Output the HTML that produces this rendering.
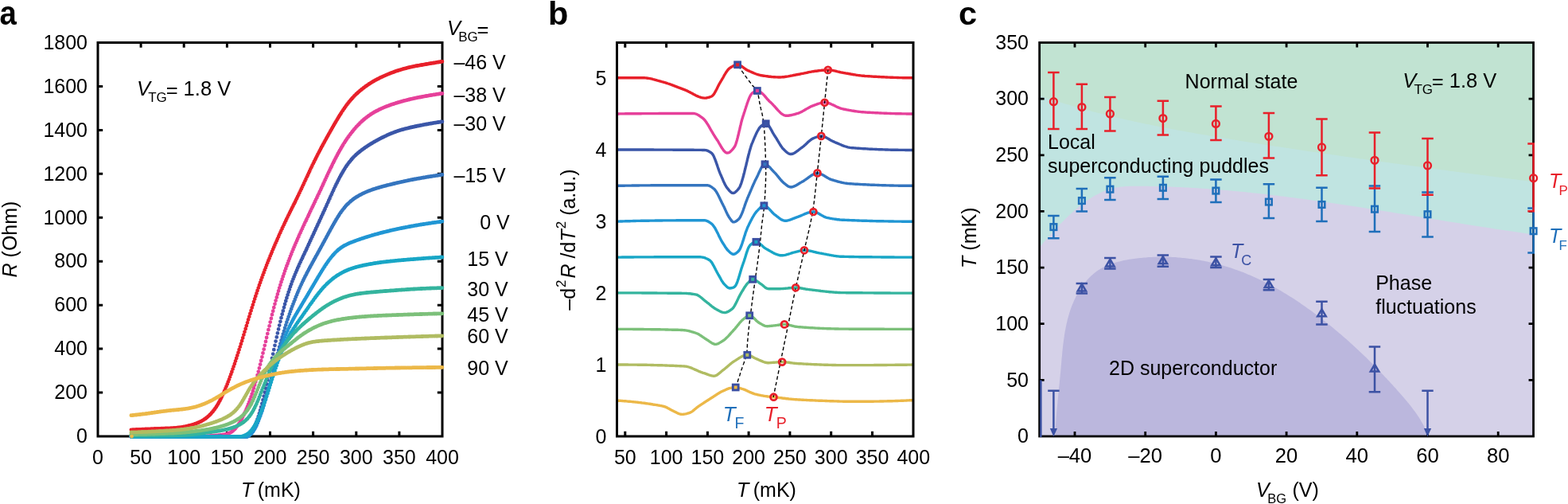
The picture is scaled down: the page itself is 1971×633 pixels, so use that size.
<!DOCTYPE html>
<html><head><meta charset="utf-8"><title>Figure</title>
<style>html,body{margin:0;padding:0;background:#fff;overflow:hidden}svg{display:block}</style>
</head><body>
<svg width="1971" height="633" viewBox="0 0 1971 633">
<g font-family='"Liberation Sans", Arial, Helvetica, sans-serif'>
<text transform="translate(-0.6,31.2) scale(0.9,1)" font-size="42.5" font-weight="bold">a</text>
<text x="689" y="30.6" font-size="41.5" font-weight="bold">b</text>
<text x="1205" y="31" font-size="41.5" font-weight="bold">c</text>
<rect x="123" y="53.5" width="433" height="494.5" fill="none" stroke="#000" stroke-width="3"/>
<path d="M177.1,548 V541.8 M177.1,53.5 V59.7 M231.2,548 V541.8 M231.2,53.5 V59.7 M285.4,548 V541.8 M285.4,53.5 V59.7 M339.5,548 V541.8 M339.5,53.5 V59.7 M393.6,548 V541.8 M393.6,53.5 V59.7 M447.8,548 V541.8 M447.8,53.5 V59.7 M501.9,548 V541.8 M501.9,53.5 V59.7 M123,493.1 H129.2 M556,493.1 H549.8 M123,438.1 H129.2 M556,438.1 H549.8 M123,383.2 H129.2 M556,383.2 H549.8 M123,328.2 H129.2 M556,328.2 H549.8 M123,273.3 H129.2 M556,273.3 H549.8 M123,218.3 H129.2 M556,218.3 H549.8 M123,163.4 H129.2 M556,163.4 H549.8 M123,108.4 H129.2 M556,108.4 H549.8" stroke="#000" stroke-width="3" fill="none"/>
<g fill="none" stroke-width="4.8" stroke-linecap="round" stroke-linejoin="round">
<path d="M164.9,539.8h0M166.1,539.8h0M167.2,539.7h0M168.4,539.7h0M169.5,539.6h0M170.7,539.6h0M171.8,539.5h0M173.0,539.5h0M174.1,539.4h0M175.3,539.4h0M176.4,539.3h0M177.6,539.3h0M178.7,539.2h0M179.9,539.2h0M181.0,539.1h0M182.2,539.1h0M183.3,539.0h0M184.5,539.0h0M185.6,538.9h0M186.8,538.9h0M187.9,538.8h0M189.1,538.8h0M190.2,538.7h0M191.4,538.7h0M192.5,538.6h0M193.7,538.6h0M194.8,538.5h0M196.0,538.5h0M197.1,538.4h0M198.3,538.4h0M199.4,538.3h0M200.6,538.3h0M201.7,538.3h0M202.9,538.2h0M204.0,538.2h0M205.2,538.1h0M206.3,538.1h0M207.5,538.1h0M208.6,538.0h0M209.8,538.0h0M210.9,537.9h0M212.1,537.9h0M213.2,537.8h0M214.4,537.8h0M215.5,537.7h0M216.7,537.7h0M217.8,537.6h0M219.0,537.5h0M220.1,537.4h0M221.3,537.3h0M222.4,537.2h0M223.6,537.1h0M224.7,537.0h0M225.9,536.9h0M227.0,536.7h0M228.2,536.6h0M229.3,536.4h0M230.5,536.2h0M231.6,536.0h0M232.8,535.8h0M233.9,535.5h0M235.1,535.3h0M236.2,535.0h0M237.4,534.7h0M238.5,534.4h0M239.7,534.1h0M240.8,533.8h0M242.0,533.4h0M243.1,533.1h0M244.3,532.7h0M245.4,532.3h0M246.6,531.9h0M247.7,531.4h0M248.9,531.0h0M250.0,530.5h0M251.2,529.9h0M252.3,529.4h0M253.5,528.8h0M254.6,528.1h0M255.8,527.4h0M256.9,526.7h0M258.1,525.9h0M259.2,525.0h0M260.4,524.1h0M261.5,523.1h0M262.7,522.1h0M263.8,521.0h0M265.0,519.8h0M266.1,518.5h0M267.3,517.2h0M268.4,515.7h0M269.6,514.2h0M270.7,512.6h0M271.9,510.9h0M273.0,509.1h0M274.2,507.2h0M275.3,505.1h0M276.5,503.0h0M277.6,500.8h0M278.8,498.4h0M279.9,496.0h0M281.1,493.4h0M282.2,490.8h0M283.4,488.1h0M284.5,485.3h0M285.7,482.4h0M286.8,479.4h0M288.0,476.4h0M289.1,473.3h0M290.3,470.1h0M291.4,466.9h0M292.6,463.6h0M293.7,460.3h0M294.9,456.9h0M296.0,453.4h0M297.2,450.0h0M298.3,446.4h0M299.5,442.8h0M300.6,439.2h0M301.8,435.6h0M302.9,431.9h0M304.1,428.2h0M305.2,424.4h0M306.4,420.6h0M307.5,416.8h0M308.7,413.0h0M309.8,409.2h0M311.0,405.3h0M312.1,401.5h0M313.3,397.7h0M314.4,393.9h0M315.6,390.2h0M316.7,386.4h0M317.9,382.8h0M319.0,379.1h0M320.2,375.5h0M321.3,371.9h0M322.5,368.4h0M323.6,365.0h0M324.8,361.6h0M325.9,358.2h0M327.1,354.9h0M328.2,351.7h0M329.4,348.5h0M330.5,345.3h0M331.7,342.2h0M332.8,339.1h0M334.0,336.1h0M335.1,333.1h0M336.3,330.1h0M337.4,327.2h0M338.6,324.4h0M339.7,321.5h0M340.9,318.7h0M342.0,315.9h0M343.2,313.1h0M344.3,310.4h0M345.5,307.7h0M346.6,305.1h0M347.8,302.4h0M348.9,299.8h0M350.1,297.2h0M351.2,294.6h0M352.4,292.1h0M353.5,289.6h0M354.7,287.0h0M355.8,284.6h0M357.0,282.1h0M358.1,279.7h0M359.3,277.2h0M360.4,274.8h0M361.6,272.4h0M362.7,270.1h0M363.9,267.7h0M365.0,265.4h0M366.2,263.1h0M367.3,260.8h0M368.5,258.5h0M369.6,256.2h0M370.8,253.9h0M371.9,251.5h0M373.1,249.2h0M374.2,246.8h0M375.4,244.5h0M376.5,242.1h0M377.7,239.6h0M378.8,237.2h0M380.0,234.7h0M381.1,232.3h0M382.3,229.8h0M383.4,227.3h0M384.6,224.8h0M385.7,222.3h0M386.9,219.9h0M388.0,217.4h0M389.2,214.9h0M390.3,212.5h0M391.5,210.1h0M392.6,207.7h0M393.8,205.3h0M394.9,203.0h0M396.1,200.7h0M397.2,198.4h0M398.4,196.1h0M399.5,193.8h0M400.7,191.6h0M401.8,189.4h0M403.0,187.2h0M404.1,185.0h0M405.3,182.9h0M406.4,180.8h0M407.6,178.7h0M408.7,176.6h0M409.9,174.5h0M411.0,172.4h0M412.2,170.4h0M413.3,168.3h0M414.5,166.3h0M415.6,164.2h0M416.8,162.2h0M417.9,160.2h0M419.1,158.2h0M420.2,156.2h0M421.4,154.2h0M422.5,152.3h0M423.7,150.3h0M424.8,148.4h0M426.0,146.5h0M427.1,144.7h0M428.3,142.9h0M429.4,141.1h0M430.6,139.3h0M431.7,137.6h0M432.9,135.9h0M434.0,134.3h0M435.2,132.7h0M436.3,131.2h0M437.5,129.7h0M438.6,128.2h0M439.8,126.8h0M440.9,125.5h0M442.1,124.2h0M443.2,122.9h0M444.4,121.7h0M445.5,120.5h0M446.7,119.3h0M447.8,118.2h0M449.0,117.2h0M450.1,116.1h0M451.3,115.1h0M452.4,114.1h0M453.6,113.2h0M454.7,112.2h0M455.9,111.3h0M457.0,110.4h0M458.2,109.6h0M459.3,108.7h0M460.5,107.9h0M461.6,107.1h0M462.8,106.3h0M463.9,105.5h0M465.1,104.8h0M466.2,104.1h0M467.4,103.3h0M468.5,102.7h0M469.7,102.0h0M470.8,101.3h0M472.0,100.7h0M473.1,100.1h0M474.3,99.5h0M475.4,98.9h0M476.6,98.3h0M477.7,97.7h0M478.9,97.2h0M480.0,96.7h0M481.2,96.1h0M482.3,95.6h0M483.5,95.1h0M484.6,94.6h0M485.8,94.1h0M486.9,93.6h0M488.1,93.1h0M489.2,92.7h0M490.4,92.2h0M491.5,91.7h0M492.7,91.3h0M493.8,90.9h0M495.0,90.5h0M496.1,90.0h0M497.3,89.6h0M498.4,89.2h0M499.6,88.9h0M500.7,88.5h0M501.9,88.1h0M503.0,87.8h0M504.2,87.4h0M505.3,87.1h0M506.5,86.7h0M507.6,86.4h0M508.8,86.1h0M509.9,85.8h0M511.1,85.5h0M512.2,85.2h0M513.4,84.9h0M514.5,84.7h0M515.7,84.4h0M516.8,84.1h0M518.0,83.9h0M519.1,83.6h0M520.3,83.4h0M521.4,83.2h0M522.6,82.9h0M523.7,82.7h0M524.9,82.5h0M526.0,82.3h0M527.2,82.1h0M528.3,81.9h0M529.5,81.7h0M530.6,81.5h0M531.8,81.3h0M532.9,81.1h0M534.1,80.9h0M535.2,80.7h0M536.4,80.5h0M537.5,80.3h0M538.7,80.1h0M539.8,79.9h0M541.0,79.7h0M542.1,79.5h0M543.3,79.3h0M544.4,79.2h0M545.6,79.0h0M546.7,78.8h0M547.9,78.6h0M549.0,78.4h0M550.2,78.2h0M551.3,78.0h0M552.5,77.9h0M553.6,77.7h0M554.8,77.5h0M555.9,77.3h0" stroke="#e8202a"/>
<path d="M164.9,548.3h0M166.1,548.3h0M167.2,548.3h0M168.4,548.3h0M169.5,548.3h0M170.7,548.3h0M171.8,548.3h0M173.0,548.3h0M174.1,548.3h0M175.3,548.3h0M176.4,548.3h0M177.6,548.3h0M178.7,548.3h0M179.9,548.3h0M181.0,548.3h0M182.2,548.3h0M183.3,548.3h0M184.5,548.3h0M185.6,548.3h0M186.8,548.3h0M187.9,548.3h0M189.1,548.3h0M190.2,548.3h0M191.4,548.3h0M192.5,548.3h0M193.7,548.3h0M194.8,548.3h0M196.0,548.3h0M197.1,548.3h0M198.3,548.3h0M199.4,548.3h0M200.6,548.3h0M201.7,548.3h0M202.9,548.3h0M204.0,548.3h0M205.2,548.3h0M206.3,548.3h0M207.5,548.3h0M208.6,548.3h0M209.8,548.3h0M210.9,548.3h0M212.1,548.3h0M213.2,548.3h0M214.4,548.3h0M215.5,548.3h0M216.7,548.3h0M217.8,548.3h0M219.0,548.3h0M220.1,548.3h0M221.3,548.3h0M222.4,548.3h0M223.6,548.3h0M224.7,548.3h0M225.9,548.3h0M227.0,548.3h0M228.2,548.3h0M229.3,548.3h0M230.5,548.3h0M231.6,548.3h0M232.8,548.3h0M233.9,548.3h0M235.1,548.3h0M236.2,548.3h0M237.4,548.3h0M238.5,548.3h0M239.7,548.3h0M240.8,548.3h0M242.0,548.3h0M243.1,548.3h0M244.3,548.3h0M245.4,548.3h0M246.6,548.3h0M247.7,548.3h0M248.9,548.3h0M250.0,548.2h0M251.2,548.2h0M252.3,548.2h0M253.5,548.1h0M254.6,548.1h0M255.8,548.0h0M256.9,548.0h0M258.1,547.9h0M259.2,547.9h0M260.4,547.8h0M261.5,547.7h0M262.7,547.6h0M263.8,547.6h0M265.0,547.5h0M266.1,547.4h0M267.3,547.3h0M268.4,547.2h0M269.6,547.2h0M270.7,547.1h0M271.9,547.0h0M273.0,546.9h0M274.2,546.8h0M275.3,546.7h0M276.5,546.6h0M277.6,546.5h0M278.8,546.4h0M279.9,546.2h0M281.1,546.0h0M282.2,545.8h0M283.4,545.6h0M284.5,545.3h0M285.7,545.0h0M286.8,544.6h0M288.0,544.1h0M289.1,543.6h0M290.3,542.9h0M291.4,542.2h0M292.6,541.3h0M293.7,540.3h0M294.9,539.2h0M296.0,538.0h0M297.2,536.6h0M298.3,535.1h0M299.5,533.5h0M300.6,531.8h0M301.8,529.9h0M302.9,527.9h0M304.1,525.8h0M305.2,523.5h0M306.4,521.2h0M307.5,518.7h0M308.7,516.2h0M309.8,513.5h0M311.0,510.7h0M312.1,507.8h0M313.3,504.8h0M314.4,501.6h0M315.6,498.3h0M316.7,494.8h0M317.9,491.2h0M319.0,487.5h0M320.2,483.6h0M321.3,479.6h0M322.5,475.5h0M323.6,471.2h0M324.8,466.8h0M325.9,462.3h0M327.1,457.7h0M328.2,453.0h0M329.4,448.3h0M330.5,443.5h0M331.7,438.7h0M332.8,433.8h0M334.0,428.9h0M335.1,424.0h0M336.3,419.1h0M337.4,414.2h0M338.6,409.4h0M339.7,404.6h0M340.9,399.9h0M342.0,395.2h0M343.2,390.7h0M344.3,386.2h0M345.5,381.8h0M346.6,377.6h0M347.8,373.4h0M348.9,369.4h0M350.1,365.4h0M351.2,361.6h0M352.4,357.9h0M353.5,354.2h0M354.7,350.7h0M355.8,347.2h0M357.0,343.8h0M358.1,340.5h0M359.3,337.2h0M360.4,334.0h0M361.6,330.9h0M362.7,327.8h0M363.9,324.8h0M365.0,321.8h0M366.2,318.9h0M367.3,316.1h0M368.5,313.2h0M369.6,310.5h0M370.8,307.7h0M371.9,305.1h0M373.1,302.4h0M374.2,299.8h0M375.4,297.2h0M376.5,294.6h0M377.7,292.1h0M378.8,289.6h0M380.0,287.1h0M381.1,284.6h0M382.3,282.1h0M383.4,279.6h0M384.6,277.2h0M385.7,274.8h0M386.9,272.3h0M388.0,269.9h0M389.2,267.5h0M390.3,265.1h0M391.5,262.6h0M392.6,260.2h0M393.8,257.8h0M394.9,255.4h0M396.1,253.0h0M397.2,250.6h0M398.4,248.2h0M399.5,245.7h0M400.7,243.3h0M401.8,240.8h0M403.0,238.4h0M404.1,235.9h0M405.3,233.4h0M406.4,230.9h0M407.6,228.4h0M408.7,226.0h0M409.9,223.5h0M411.0,221.0h0M412.2,218.5h0M413.3,216.1h0M414.5,213.7h0M415.6,211.2h0M416.8,208.9h0M417.9,206.5h0M419.1,204.2h0M420.2,201.9h0M421.4,199.6h0M422.5,197.4h0M423.7,195.2h0M424.8,193.0h0M426.0,190.9h0M427.1,188.9h0M428.3,186.9h0M429.4,184.9h0M430.6,183.0h0M431.7,181.1h0M432.9,179.3h0M434.0,177.5h0M435.2,175.8h0M436.3,174.1h0M437.5,172.5h0M438.6,170.9h0M439.8,169.3h0M440.9,167.8h0M442.1,166.3h0M443.2,164.9h0M444.4,163.5h0M445.5,162.1h0M446.7,160.8h0M447.8,159.5h0M449.0,158.3h0M450.1,157.1h0M451.3,155.9h0M452.4,154.7h0M453.6,153.6h0M454.7,152.5h0M455.9,151.5h0M457.0,150.5h0M458.2,149.5h0M459.3,148.6h0M460.5,147.7h0M461.6,146.8h0M462.8,145.9h0M463.9,145.1h0M465.1,144.3h0M466.2,143.5h0M467.4,142.8h0M468.5,142.1h0M469.7,141.4h0M470.8,140.7h0M472.0,140.1h0M473.1,139.5h0M474.3,138.9h0M475.4,138.3h0M476.6,137.7h0M477.7,137.2h0M478.9,136.6h0M480.0,136.1h0M481.2,135.6h0M482.3,135.1h0M483.5,134.6h0M484.6,134.2h0M485.8,133.7h0M486.9,133.3h0M488.1,132.9h0M489.2,132.4h0M490.4,132.0h0M491.5,131.6h0M492.7,131.2h0M493.8,130.8h0M495.0,130.5h0M496.1,130.1h0M497.3,129.7h0M498.4,129.4h0M499.6,129.0h0M500.7,128.7h0M501.9,128.3h0M503.0,128.0h0M504.2,127.7h0M505.3,127.3h0M506.5,127.0h0M507.6,126.7h0M508.8,126.4h0M509.9,126.1h0M511.1,125.8h0M512.2,125.5h0M513.4,125.2h0M514.5,125.0h0M515.7,124.7h0M516.8,124.4h0M518.0,124.2h0M519.1,123.9h0M520.3,123.6h0M521.4,123.4h0M522.6,123.1h0M523.7,122.9h0M524.9,122.7h0M526.0,122.4h0M527.2,122.2h0M528.3,122.0h0M529.5,121.8h0M530.6,121.5h0M531.8,121.3h0M532.9,121.1h0M534.1,120.9h0M535.2,120.7h0M536.4,120.5h0M537.5,120.3h0M538.7,120.1h0M539.8,119.9h0M541.0,119.7h0M542.1,119.5h0M543.3,119.3h0M544.4,119.1h0M545.6,118.9h0M546.7,118.8h0M547.9,118.6h0M549.0,118.4h0M550.2,118.2h0M551.3,118.1h0M552.5,117.9h0M553.6,117.7h0M554.8,117.6h0M555.9,117.4h0" stroke="#e6409a"/>
<path d="M164.9,548.3h0M166.1,548.3h0M167.2,548.3h0M168.4,548.3h0M169.5,548.3h0M170.7,548.3h0M171.8,548.3h0M173.0,548.3h0M174.1,548.3h0M175.3,548.3h0M176.4,548.3h0M177.6,548.3h0M178.7,548.3h0M179.9,548.3h0M181.0,548.3h0M182.2,548.3h0M183.3,548.3h0M184.5,548.3h0M185.6,548.3h0M186.8,548.3h0M187.9,548.3h0M189.1,548.3h0M190.2,548.3h0M191.4,548.3h0M192.5,548.3h0M193.7,548.3h0M194.8,548.3h0M196.0,548.3h0M197.1,548.3h0M198.3,548.3h0M199.4,548.3h0M200.6,548.3h0M201.7,548.3h0M202.9,548.3h0M204.0,548.3h0M205.2,548.3h0M206.3,548.3h0M207.5,548.3h0M208.6,548.3h0M209.8,548.3h0M210.9,548.3h0M212.1,548.3h0M213.2,548.3h0M214.4,548.3h0M215.5,548.3h0M216.7,548.3h0M217.8,548.3h0M219.0,548.3h0M220.1,548.3h0M221.3,548.3h0M222.4,548.3h0M223.6,548.3h0M224.7,548.3h0M225.9,548.3h0M227.0,548.3h0M228.2,548.3h0M229.3,548.3h0M230.5,548.3h0M231.6,548.3h0M232.8,548.3h0M233.9,548.3h0M235.1,548.3h0M236.2,548.3h0M237.4,548.3h0M238.5,548.3h0M239.7,548.3h0M240.8,548.3h0M242.0,548.3h0M243.1,548.3h0M244.3,548.3h0M245.4,548.3h0M246.6,548.3h0M247.7,548.3h0M248.9,548.3h0M250.0,548.3h0M251.2,548.3h0M252.3,548.3h0M253.5,548.3h0M254.6,548.3h0M255.8,548.3h0M256.9,548.3h0M258.1,548.3h0M259.2,548.3h0M260.4,548.3h0M261.5,548.3h0M262.7,548.3h0M263.8,548.3h0M265.0,548.3h0M266.1,548.3h0M267.3,548.3h0M268.4,548.3h0M269.6,548.3h0M270.7,548.2h0M271.9,548.2h0M273.0,548.2h0M274.2,548.2h0M275.3,548.2h0M276.5,548.2h0M277.6,548.2h0M278.8,548.2h0M279.9,548.3h0M281.1,548.3h0M282.2,548.3h0M283.4,548.3h0M284.5,548.3h0M285.7,548.3h0M286.8,548.3h0M288.0,548.3h0M289.1,548.3h0M290.3,548.3h0M291.4,548.3h0M292.6,548.3h0M293.7,548.3h0M294.9,548.3h0M296.0,548.3h0M297.2,548.3h0M298.3,548.3h0M299.5,548.3h0M300.6,548.3h0M301.8,548.3h0M302.9,548.3h0M304.1,548.3h0M305.2,548.3h0M306.4,548.3h0M307.5,548.3h0M308.7,548.3h0M309.8,548.3h0M311.0,548.0h0M312.1,547.2h0M313.3,546.3h0M314.4,545.1h0M315.6,543.7h0M316.7,542.0h0M317.9,540.1h0M319.0,537.9h0M320.2,535.5h0M321.3,532.8h0M322.5,529.8h0M323.6,526.6h0M324.8,523.1h0M325.9,519.4h0M327.1,515.4h0M328.2,511.3h0M329.4,506.9h0M330.5,502.3h0M331.7,497.6h0M332.8,492.7h0M334.0,487.7h0M335.1,482.5h0M336.3,477.2h0M337.4,471.8h0M338.6,466.4h0M339.7,461.0h0M340.9,455.5h0M342.0,450.0h0M343.2,444.6h0M344.3,439.2h0M345.5,433.8h0M346.6,428.6h0M347.8,423.4h0M348.9,418.4h0M350.1,413.4h0M351.2,408.6h0M352.4,403.8h0M353.5,399.2h0M354.7,394.7h0M355.8,390.4h0M357.0,386.1h0M358.1,382.0h0M359.3,378.0h0M360.4,374.2h0M361.6,370.4h0M362.7,366.8h0M363.9,363.4h0M365.0,360.0h0M366.2,356.8h0M367.3,353.6h0M368.5,350.6h0M369.6,347.7h0M370.8,344.8h0M371.9,342.1h0M373.1,339.4h0M374.2,336.7h0M375.4,334.2h0M376.5,331.6h0M377.7,329.1h0M378.8,326.6h0M380.0,324.2h0M381.1,321.7h0M382.3,319.3h0M383.4,316.8h0M384.6,314.4h0M385.7,311.9h0M386.9,309.5h0M388.0,307.0h0M389.2,304.5h0M390.3,302.0h0M391.5,299.5h0M392.6,297.0h0M393.8,294.5h0M394.9,291.9h0M396.1,289.4h0M397.2,286.9h0M398.4,284.4h0M399.5,281.9h0M400.7,279.4h0M401.8,276.9h0M403.0,274.4h0M404.1,271.9h0M405.3,269.4h0M406.4,266.9h0M407.6,264.4h0M408.7,261.9h0M409.9,259.3h0M411.0,256.8h0M412.2,254.3h0M413.3,251.7h0M414.5,249.2h0M415.6,246.6h0M416.8,244.1h0M417.9,241.6h0M419.1,239.1h0M420.2,236.6h0M421.4,234.1h0M422.5,231.7h0M423.7,229.4h0M424.8,227.1h0M426.0,224.8h0M427.1,222.6h0M428.3,220.5h0M429.4,218.4h0M430.6,216.4h0M431.7,214.4h0M432.9,212.6h0M434.0,210.8h0M435.2,209.0h0M436.3,207.3h0M437.5,205.8h0M438.6,204.2h0M439.8,202.8h0M440.9,201.4h0M442.1,200.0h0M443.2,198.7h0M444.4,197.5h0M445.5,196.3h0M446.7,195.2h0M447.8,194.1h0M449.0,193.1h0M450.1,192.1h0M451.3,191.2h0M452.4,190.2h0M453.6,189.3h0M454.7,188.4h0M455.9,187.6h0M457.0,186.8h0M458.2,185.9h0M459.3,185.1h0M460.5,184.4h0M461.6,183.6h0M462.8,182.9h0M463.9,182.1h0M465.1,181.4h0M466.2,180.7h0M467.4,180.0h0M468.5,179.3h0M469.7,178.6h0M470.8,178.0h0M472.0,177.3h0M473.1,176.7h0M474.3,176.1h0M475.4,175.4h0M476.6,174.8h0M477.7,174.2h0M478.9,173.6h0M480.0,173.0h0M481.2,172.5h0M482.3,171.9h0M483.5,171.3h0M484.6,170.8h0M485.8,170.3h0M486.9,169.7h0M488.1,169.2h0M489.2,168.7h0M490.4,168.2h0M491.5,167.7h0M492.7,167.3h0M493.8,166.8h0M495.0,166.4h0M496.1,165.9h0M497.3,165.5h0M498.4,165.1h0M499.6,164.7h0M500.7,164.3h0M501.9,163.9h0M503.0,163.6h0M504.2,163.2h0M505.3,162.9h0M506.5,162.6h0M507.6,162.3h0M508.8,161.9h0M509.9,161.6h0M511.1,161.3h0M512.2,161.1h0M513.4,160.8h0M514.5,160.5h0M515.7,160.2h0M516.8,160.0h0M518.0,159.7h0M519.1,159.5h0M520.3,159.2h0M521.4,159.0h0M522.6,158.7h0M523.7,158.5h0M524.9,158.2h0M526.0,158.0h0M527.2,157.8h0M528.3,157.5h0M529.5,157.3h0M530.6,157.1h0M531.8,156.9h0M532.9,156.6h0M534.1,156.4h0M535.2,156.2h0M536.4,156.0h0M537.5,155.8h0M538.7,155.6h0M539.8,155.4h0M541.0,155.2h0M542.1,155.0h0M543.3,154.8h0M544.4,154.6h0M545.6,154.4h0M546.7,154.2h0M547.9,154.1h0M549.0,153.9h0M550.2,153.7h0M551.3,153.5h0M552.5,153.3h0M553.6,153.2h0M554.8,153.0h0M555.9,152.8h0" stroke="#3a56a8"/>
<path d="M164.9,548.3h0M166.1,548.3h0M167.2,548.3h0M168.4,548.3h0M169.5,548.3h0M170.7,548.3h0M171.8,548.3h0M173.0,548.3h0M174.1,548.3h0M175.3,548.3h0M176.4,548.3h0M177.6,548.3h0M178.7,548.3h0M179.9,548.3h0M181.0,548.3h0M182.2,548.3h0M183.3,548.3h0M184.5,548.3h0M185.6,548.3h0M186.8,548.3h0M187.9,548.3h0M189.1,548.3h0M190.2,548.3h0M191.4,548.3h0M192.5,548.3h0M193.7,548.3h0M194.8,548.3h0M196.0,548.3h0M197.1,548.3h0M198.3,548.3h0M199.4,548.3h0M200.6,548.3h0M201.7,548.3h0M202.9,548.3h0M204.0,548.3h0M205.2,548.3h0M206.3,548.3h0M207.5,548.3h0M208.6,548.3h0M209.8,548.3h0M210.9,548.3h0M212.1,548.3h0M213.2,548.3h0M214.4,548.3h0M215.5,548.3h0M216.7,548.3h0M217.8,548.3h0M219.0,548.3h0M220.1,548.3h0M221.3,548.3h0M222.4,548.3h0M223.6,548.3h0M224.7,548.3h0M225.9,548.3h0M227.0,548.3h0M228.2,548.3h0M229.3,548.3h0M230.5,548.3h0M231.6,548.3h0M232.8,548.3h0M233.9,548.3h0M235.1,548.3h0M236.2,548.3h0M237.4,548.3h0M238.5,548.3h0M239.7,548.3h0M240.8,548.3h0M242.0,548.3h0M243.1,548.3h0M244.3,548.3h0M245.4,548.3h0M246.6,548.3h0M247.7,548.3h0M248.9,548.3h0M250.0,548.3h0M251.2,548.3h0M252.3,548.3h0M253.5,548.3h0M254.6,548.3h0M255.8,548.3h0M256.9,548.3h0M258.1,548.3h0M259.2,548.3h0M260.4,548.3h0M261.5,548.3h0M262.7,548.3h0M263.8,548.3h0M265.0,548.3h0M266.1,548.3h0M267.3,548.3h0M268.4,548.3h0M269.6,548.3h0M270.7,548.3h0M271.9,548.3h0M273.0,548.3h0M274.2,548.2h0M275.3,548.2h0M276.5,548.2h0M277.6,548.2h0M278.8,548.2h0M279.9,548.3h0M281.1,548.3h0M282.2,548.3h0M283.4,548.3h0M284.5,548.3h0M285.7,548.3h0M286.8,548.3h0M288.0,548.3h0M289.1,548.3h0M290.3,548.3h0M291.4,548.3h0M292.6,548.3h0M293.7,548.3h0M294.9,548.3h0M296.0,548.3h0M297.2,548.3h0M298.3,548.3h0M299.5,548.3h0M300.6,548.3h0M301.8,548.3h0M302.9,548.3h0M304.1,548.3h0M305.2,548.3h0M306.4,548.3h0M307.5,548.3h0M308.7,548.3h0M309.8,548.3h0M311.0,548.3h0M312.1,547.7h0M313.3,547.0h0M314.4,546.0h0M315.6,544.9h0M316.7,543.6h0M317.9,542.1h0M319.0,540.4h0M320.2,538.4h0M321.3,536.2h0M322.5,533.8h0M323.6,531.2h0M324.8,528.4h0M325.9,525.3h0M327.1,522.1h0M328.2,518.8h0M329.4,515.2h0M330.5,511.6h0M331.7,507.8h0M332.8,503.9h0M334.0,499.9h0M335.1,495.8h0M336.3,491.7h0M337.4,487.5h0M338.6,483.2h0M339.7,478.9h0M340.9,474.5h0M342.0,470.2h0M343.2,465.8h0M344.3,461.4h0M345.5,457.1h0M346.6,452.7h0M347.8,448.4h0M348.9,444.1h0M350.1,439.9h0M351.2,435.7h0M352.4,431.6h0M353.5,427.5h0M354.7,423.5h0M355.8,419.6h0M357.0,415.8h0M358.1,412.0h0M359.3,408.3h0M360.4,404.7h0M361.6,401.2h0M362.7,397.8h0M363.9,394.4h0M365.0,391.2h0M366.2,388.0h0M367.3,384.8h0M368.5,381.8h0M369.6,378.8h0M370.8,375.9h0M371.9,373.0h0M373.1,370.2h0M374.2,367.4h0M375.4,364.8h0M376.5,362.1h0M377.7,359.6h0M378.8,357.1h0M380.0,354.6h0M381.1,352.2h0M382.3,349.8h0M383.4,347.5h0M384.6,345.3h0M385.7,343.0h0M386.9,340.8h0M388.0,338.7h0M389.2,336.5h0M390.3,334.4h0M391.5,332.3h0M392.6,330.2h0M393.8,328.1h0M394.9,326.0h0M396.1,323.9h0M397.2,321.8h0M398.4,319.8h0M399.5,317.7h0M400.7,315.6h0M401.8,313.5h0M403.0,311.4h0M404.1,309.3h0M405.3,307.2h0M406.4,305.1h0M407.6,302.9h0M408.7,300.8h0M409.9,298.7h0M411.0,296.6h0M412.2,294.4h0M413.3,292.3h0M414.5,290.2h0M415.6,288.1h0M416.8,286.0h0M417.9,284.0h0M419.1,281.9h0M420.2,279.9h0M421.4,277.9h0M422.5,276.0h0M423.7,274.1h0M424.8,272.2h0M426.0,270.4h0M427.1,268.6h0M428.3,267.0h0M429.4,265.3h0M430.6,263.8h0M431.7,262.3h0M432.9,260.9h0M434.0,259.5h0M435.2,258.2h0M436.3,257.0h0M437.5,255.9h0M438.6,254.8h0M439.8,253.7h0M440.9,252.7h0M442.1,251.8h0M443.2,250.9h0M444.4,250.0h0M445.5,249.2h0M446.7,248.4h0M447.8,247.7h0M449.0,247.0h0M450.1,246.3h0M451.3,245.6h0M452.4,245.0h0M453.6,244.4h0M454.7,243.8h0M455.9,243.2h0M457.0,242.7h0M458.2,242.1h0M459.3,241.6h0M460.5,241.1h0M461.6,240.6h0M462.8,240.2h0M463.9,239.7h0M465.1,239.3h0M466.2,238.8h0M467.4,238.4h0M468.5,238.0h0M469.7,237.6h0M470.8,237.3h0M472.0,236.9h0M473.1,236.5h0M474.3,236.2h0M475.4,235.8h0M476.6,235.5h0M477.7,235.2h0M478.9,234.8h0M480.0,234.5h0M481.2,234.2h0M482.3,233.9h0M483.5,233.6h0M484.6,233.3h0M485.8,233.0h0M486.9,232.7h0M488.1,232.4h0M489.2,232.1h0M490.4,231.9h0M491.5,231.6h0M492.7,231.3h0M493.8,231.0h0M495.0,230.7h0M496.1,230.5h0M497.3,230.2h0M498.4,229.9h0M499.6,229.6h0M500.7,229.4h0M501.9,229.1h0M503.0,228.8h0M504.2,228.6h0M505.3,228.3h0M506.5,228.1h0M507.6,227.8h0M508.8,227.6h0M509.9,227.3h0M511.1,227.1h0M512.2,226.8h0M513.4,226.6h0M514.5,226.4h0M515.7,226.1h0M516.8,225.9h0M518.0,225.7h0M519.1,225.5h0M520.3,225.2h0M521.4,225.0h0M522.6,224.8h0M523.7,224.6h0M524.9,224.4h0M526.0,224.2h0M527.2,224.0h0M528.3,223.8h0M529.5,223.6h0M530.6,223.4h0M531.8,223.2h0M532.9,223.0h0M534.1,222.8h0M535.2,222.6h0M536.4,222.4h0M537.5,222.2h0M538.7,222.0h0M539.8,221.8h0M541.0,221.7h0M542.1,221.5h0M543.3,221.3h0M544.4,221.1h0M545.6,220.9h0M546.7,220.8h0M547.9,220.6h0M549.0,220.4h0M550.2,220.3h0M551.3,220.1h0M552.5,219.9h0M553.6,219.8h0M554.8,219.6h0M555.9,219.4h0" stroke="#3475bf"/>
<path d="M164.9,548.3h0M166.1,548.3h0M167.2,548.3h0M168.4,548.3h0M169.5,548.3h0M170.7,548.3h0M171.8,548.3h0M173.0,548.3h0M174.1,548.3h0M175.3,548.3h0M176.4,548.3h0M177.6,548.3h0M178.7,548.3h0M179.9,548.3h0M181.0,548.3h0M182.2,548.3h0M183.3,548.3h0M184.5,548.3h0M185.6,548.3h0M186.8,548.3h0M187.9,548.3h0M189.1,548.3h0M190.2,548.3h0M191.4,548.3h0M192.5,548.3h0M193.7,548.3h0M194.8,548.3h0M196.0,548.3h0M197.1,548.3h0M198.3,548.3h0M199.4,548.3h0M200.6,548.3h0M201.7,548.3h0M202.9,548.3h0M204.0,548.3h0M205.2,548.3h0M206.3,548.3h0M207.5,548.3h0M208.6,548.3h0M209.8,548.3h0M210.9,548.3h0M212.1,548.3h0M213.2,548.3h0M214.4,548.3h0M215.5,548.3h0M216.7,548.3h0M217.8,548.3h0M219.0,548.3h0M220.1,548.3h0M221.3,548.3h0M222.4,548.3h0M223.6,548.3h0M224.7,548.3h0M225.9,548.3h0M227.0,548.3h0M228.2,548.3h0M229.3,548.3h0M230.5,548.3h0M231.6,548.3h0M232.8,548.3h0M233.9,548.3h0M235.1,548.3h0M236.2,548.3h0M237.4,548.3h0M238.5,548.3h0M239.7,548.3h0M240.8,548.3h0M242.0,548.3h0M243.1,548.3h0M244.3,548.3h0M245.4,548.3h0M246.6,548.3h0M247.7,548.3h0M248.9,548.3h0M250.0,548.3h0M251.2,548.3h0M252.3,548.3h0M253.5,548.3h0M254.6,548.3h0M255.8,548.3h0M256.9,548.3h0M258.1,548.3h0M259.2,548.3h0M260.4,548.3h0M261.5,548.3h0M262.7,548.3h0M263.8,548.3h0M265.0,548.3h0M266.1,548.3h0M267.3,548.3h0M268.4,548.3h0M269.6,548.3h0M270.7,548.3h0M271.9,548.3h0M273.0,548.3h0M274.2,548.2h0M275.3,548.2h0M276.5,548.2h0M277.6,548.2h0M278.8,548.3h0M279.9,548.3h0M281.1,548.3h0M282.2,548.3h0M283.4,548.3h0M284.5,548.3h0M285.7,548.3h0M286.8,548.3h0M288.0,548.3h0M289.1,548.3h0M290.3,548.3h0M291.4,548.3h0M292.6,548.3h0M293.7,548.3h0M294.9,548.3h0M296.0,548.3h0M297.2,548.3h0M298.3,548.3h0M299.5,548.3h0M300.6,548.3h0M301.8,548.3h0M302.9,548.3h0M304.1,548.3h0M305.2,548.3h0M306.4,548.3h0M307.5,548.3h0M308.7,548.3h0M309.8,548.3h0M311.0,548.2h0M312.1,547.6h0M313.3,546.8h0M314.4,545.9h0M315.6,544.8h0M316.7,543.5h0M317.9,542.0h0M319.0,540.3h0M320.2,538.3h0M321.3,536.2h0M322.5,533.9h0M323.6,531.3h0M324.8,528.6h0M325.9,525.7h0M327.1,522.7h0M328.2,519.5h0M329.4,516.2h0M330.5,512.7h0M331.7,509.2h0M332.8,505.6h0M334.0,501.9h0M335.1,498.1h0M336.3,494.3h0M337.4,490.4h0M338.6,486.5h0M339.7,482.6h0M340.9,478.7h0M342.0,474.7h0M343.2,470.7h0M344.3,466.7h0M345.5,462.8h0M346.6,458.8h0M347.8,454.9h0M348.9,451.0h0M350.1,447.2h0M351.2,443.5h0M352.4,439.9h0M353.5,436.4h0M354.7,433.0h0M355.8,429.7h0M357.0,426.5h0M358.1,423.5h0M359.3,420.6h0M360.4,417.8h0M361.6,415.2h0M362.7,412.6h0M363.9,410.2h0M365.0,407.8h0M366.2,405.6h0M367.3,403.4h0M368.5,401.2h0M369.6,399.2h0M370.8,397.1h0M371.9,395.1h0M373.1,393.2h0M374.2,391.2h0M375.4,389.3h0M376.5,387.3h0M377.7,385.4h0M378.8,383.5h0M380.0,381.6h0M381.1,379.6h0M382.3,377.7h0M383.4,375.8h0M384.6,373.8h0M385.7,371.9h0M386.9,370.0h0M388.0,368.0h0M389.2,366.1h0M390.3,364.1h0M391.5,362.1h0M392.6,360.2h0M393.8,358.2h0M394.9,356.3h0M396.1,354.3h0M397.2,352.4h0M398.4,350.4h0M399.5,348.5h0M400.7,346.6h0M401.8,344.7h0M403.0,342.8h0M404.1,341.0h0M405.3,339.1h0M406.4,337.3h0M407.6,335.5h0M408.7,333.7h0M409.9,332.0h0M411.0,330.3h0M412.2,328.7h0M413.3,327.1h0M414.5,325.6h0M415.6,324.1h0M416.8,322.6h0M417.9,321.2h0M419.1,319.9h0M420.2,318.7h0M421.4,317.5h0M422.5,316.3h0M423.7,315.2h0M424.8,314.2h0M426.0,313.2h0M427.1,312.3h0M428.3,311.5h0M429.4,310.7h0M430.6,309.9h0M431.7,309.2h0M432.9,308.5h0M434.0,307.9h0M435.2,307.3h0M436.3,306.8h0M437.5,306.2h0M438.6,305.7h0M439.8,305.2h0M440.9,304.7h0M442.1,304.3h0M443.2,303.8h0M444.4,303.4h0M445.5,303.0h0M446.7,302.6h0M447.8,302.1h0M449.0,301.7h0M450.1,301.3h0M451.3,300.9h0M452.4,300.5h0M453.6,300.1h0M454.7,299.7h0M455.9,299.4h0M457.0,299.0h0M458.2,298.6h0M459.3,298.2h0M460.5,297.9h0M461.6,297.5h0M462.8,297.1h0M463.9,296.8h0M465.1,296.4h0M466.2,296.1h0M467.4,295.7h0M468.5,295.4h0M469.7,295.1h0M470.8,294.7h0M472.0,294.4h0M473.1,294.1h0M474.3,293.8h0M475.4,293.5h0M476.6,293.1h0M477.7,292.8h0M478.9,292.5h0M480.0,292.2h0M481.2,292.0h0M482.3,291.7h0M483.5,291.4h0M484.6,291.1h0M485.8,290.8h0M486.9,290.5h0M488.1,290.3h0M489.2,290.0h0M490.4,289.7h0M491.5,289.4h0M492.7,289.2h0M493.8,288.9h0M495.0,288.7h0M496.1,288.4h0M497.3,288.2h0M498.4,287.9h0M499.6,287.7h0M500.7,287.4h0M501.9,287.2h0M503.0,286.9h0M504.2,286.7h0M505.3,286.5h0M506.5,286.2h0M507.6,286.0h0M508.8,285.8h0M509.9,285.5h0M511.1,285.3h0M512.2,285.1h0M513.4,284.9h0M514.5,284.7h0M515.7,284.5h0M516.8,284.2h0M518.0,284.0h0M519.1,283.8h0M520.3,283.6h0M521.4,283.4h0M522.6,283.2h0M523.7,283.0h0M524.9,282.8h0M526.0,282.6h0M527.2,282.4h0M528.3,282.2h0M529.5,282.0h0M530.6,281.9h0M531.8,281.7h0M532.9,281.5h0M534.1,281.3h0M535.2,281.1h0M536.4,280.9h0M537.5,280.8h0M538.7,280.6h0M539.8,280.4h0M541.0,280.3h0M542.1,280.1h0M543.3,279.9h0M544.4,279.7h0M545.6,279.6h0M546.7,279.4h0M547.9,279.3h0M549.0,279.1h0M550.2,278.9h0M551.3,278.8h0M552.5,278.6h0M553.6,278.5h0M554.8,278.3h0M555.9,278.1h0" stroke="#2096d4"/>
<path d="M164.9,548.3h0M166.1,548.3h0M167.2,548.3h0M168.4,548.3h0M169.5,548.3h0M170.7,548.3h0M171.8,548.3h0M173.0,548.3h0M174.1,548.3h0M175.3,548.3h0M176.4,548.3h0M177.6,548.3h0M178.7,548.3h0M179.9,548.3h0M181.0,548.3h0M182.2,548.3h0M183.3,548.3h0M184.5,548.3h0M185.6,548.3h0M186.8,548.3h0M187.9,548.3h0M189.1,548.3h0M190.2,548.3h0M191.4,548.3h0M192.5,548.3h0M193.7,548.3h0M194.8,548.3h0M196.0,548.3h0M197.1,548.3h0M198.3,548.3h0M199.4,548.3h0M200.6,548.3h0M201.7,548.3h0M202.9,548.3h0M204.0,548.3h0M205.2,548.3h0M206.3,548.3h0M207.5,548.3h0M208.6,548.3h0M209.8,548.3h0M210.9,548.3h0M212.1,548.3h0M213.2,548.3h0M214.4,548.3h0M215.5,548.3h0M216.7,548.3h0M217.8,548.3h0M219.0,548.3h0M220.1,548.3h0M221.3,548.3h0M222.4,548.3h0M223.6,548.3h0M224.7,548.3h0M225.9,548.3h0M227.0,548.3h0M228.2,548.3h0M229.3,548.3h0M230.5,548.3h0M231.6,548.3h0M232.8,548.3h0M233.9,548.3h0M235.1,548.3h0M236.2,548.3h0M237.4,548.3h0M238.5,548.3h0M239.7,548.3h0M240.8,548.3h0M242.0,548.3h0M243.1,548.3h0M244.3,548.3h0M245.4,548.3h0M246.6,548.3h0M247.7,548.3h0M248.9,548.3h0M250.0,548.3h0M251.2,548.3h0M252.3,548.3h0M253.5,548.3h0M254.6,548.3h0M255.8,548.3h0M256.9,548.3h0M258.1,548.3h0M259.2,548.3h0M260.4,548.3h0M261.5,548.3h0M262.7,548.3h0M263.8,548.3h0M265.0,548.3h0M266.1,548.3h0M267.3,548.3h0M268.4,548.3h0M269.6,548.3h0M270.7,548.3h0M271.9,548.3h0M273.0,548.3h0M274.2,548.3h0M275.3,548.3h0M276.5,548.3h0M277.6,548.3h0M278.8,548.3h0M279.9,548.3h0M281.1,548.3h0M282.2,548.3h0M283.4,548.3h0M284.5,548.3h0M285.7,548.3h0M286.8,548.3h0M288.0,548.3h0M289.1,548.3h0M290.3,548.3h0M291.4,548.3h0M292.6,548.3h0M293.7,548.3h0M294.9,548.3h0M296.0,548.3h0M297.2,548.3h0M298.3,548.3h0M299.5,548.3h0M300.6,548.3h0M301.8,548.3h0M302.9,548.3h0M304.1,548.1h0M305.2,547.8h0M306.4,547.5h0M307.5,547.0h0M308.7,546.5h0M309.8,545.9h0M311.0,545.1h0M312.1,544.3h0M313.3,543.3h0M314.4,542.1h0M315.6,540.9h0M316.7,539.4h0M317.9,537.9h0M319.0,536.1h0M320.2,534.2h0M321.3,532.2h0M322.5,529.9h0M323.6,527.6h0M324.8,525.1h0M325.9,522.4h0M327.1,519.7h0M328.2,516.8h0M329.4,513.8h0M330.5,510.7h0M331.7,507.5h0M332.8,504.2h0M334.0,500.9h0M335.1,497.5h0M336.3,494.0h0M337.4,490.5h0M338.6,487.0h0M339.7,483.4h0M340.9,479.9h0M342.0,476.3h0M343.2,472.8h0M344.3,469.2h0M345.5,465.8h0M346.6,462.3h0M347.8,458.9h0M348.9,455.6h0M350.1,452.4h0M351.2,449.3h0M352.4,446.2h0M353.5,443.3h0M354.7,440.4h0M355.8,437.6h0M357.0,435.0h0M358.1,432.4h0M359.3,430.0h0M360.4,427.7h0M361.6,425.4h0M362.7,423.2h0M363.9,421.2h0M365.0,419.2h0M366.2,417.2h0M367.3,415.4h0M368.5,413.5h0M369.6,411.8h0M370.8,410.0h0M371.9,408.3h0M373.1,406.6h0M374.2,405.0h0M375.4,403.3h0M376.5,401.7h0M377.7,400.0h0M378.8,398.4h0M380.0,396.8h0M381.1,395.1h0M382.3,393.5h0M383.4,391.8h0M384.6,390.2h0M385.7,388.6h0M386.9,386.9h0M388.0,385.3h0M389.2,383.6h0M390.3,382.0h0M391.5,380.4h0M392.6,378.8h0M393.8,377.2h0M394.9,375.6h0M396.1,374.0h0M397.2,372.5h0M398.4,370.9h0M399.5,369.5h0M400.7,368.0h0M401.8,366.6h0M403.0,365.2h0M404.1,363.8h0M405.3,362.5h0M406.4,361.2h0M407.6,360.0h0M408.7,358.8h0M409.9,357.6h0M411.0,356.5h0M412.2,355.4h0M413.3,354.3h0M414.5,353.3h0M415.6,352.3h0M416.8,351.3h0M417.9,350.4h0M419.1,349.5h0M420.2,348.6h0M421.4,347.8h0M422.5,347.0h0M423.7,346.2h0M424.8,345.5h0M426.0,344.8h0M427.1,344.1h0M428.3,343.4h0M429.4,342.8h0M430.6,342.2h0M431.7,341.6h0M432.9,341.0h0M434.0,340.5h0M435.2,340.0h0M436.3,339.5h0M437.5,339.0h0M438.6,338.5h0M439.8,338.1h0M440.9,337.7h0M442.1,337.3h0M443.2,336.9h0M444.4,336.5h0M445.5,336.1h0M446.7,335.8h0M447.8,335.5h0M449.0,335.2h0M450.1,334.9h0M451.3,334.6h0M452.4,334.3h0M453.6,334.0h0M454.7,333.8h0M455.9,333.5h0M457.0,333.2h0M458.2,333.0h0M459.3,332.8h0M460.5,332.5h0M461.6,332.3h0M462.8,332.1h0M463.9,331.9h0M465.1,331.7h0M466.2,331.5h0M467.4,331.3h0M468.5,331.1h0M469.7,330.9h0M470.8,330.7h0M472.0,330.5h0M473.1,330.3h0M474.3,330.2h0M475.4,330.0h0M476.6,329.8h0M477.7,329.7h0M478.9,329.5h0M480.0,329.4h0M481.2,329.2h0M482.3,329.1h0M483.5,328.9h0M484.6,328.8h0M485.8,328.7h0M486.9,328.5h0M488.1,328.4h0M489.2,328.3h0M490.4,328.1h0M491.5,328.0h0M492.7,327.9h0M493.8,327.8h0M495.0,327.7h0M496.1,327.6h0M497.3,327.4h0M498.4,327.3h0M499.6,327.2h0M500.7,327.1h0M501.9,327.0h0M503.0,326.9h0M504.2,326.8h0M505.3,326.7h0M506.5,326.6h0M507.6,326.5h0M508.8,326.4h0M509.9,326.3h0M511.1,326.2h0M512.2,326.1h0M513.4,326.0h0M514.5,325.9h0M515.7,325.8h0M516.8,325.7h0M518.0,325.7h0M519.1,325.6h0M520.3,325.5h0M521.4,325.4h0M522.6,325.3h0M523.7,325.2h0M524.9,325.1h0M526.0,325.0h0M527.2,324.9h0M528.3,324.8h0M529.5,324.8h0M530.6,324.7h0M531.8,324.6h0M532.9,324.5h0M534.1,324.4h0M535.2,324.3h0M536.4,324.2h0M537.5,324.2h0M538.7,324.1h0M539.8,324.0h0M541.0,323.9h0M542.1,323.9h0M543.3,323.8h0M544.4,323.7h0M545.6,323.6h0M546.7,323.6h0M547.9,323.5h0M549.0,323.4h0M550.2,323.3h0M551.3,323.3h0M552.5,323.2h0M553.6,323.1h0M554.8,323.0h0M555.9,323.0h0" stroke="#18a6c6"/>
<path d="M164.9,547.2h0M166.1,547.2h0M167.2,547.2h0M168.4,547.2h0M169.5,547.2h0M170.7,547.2h0M171.8,547.2h0M173.0,547.2h0M174.1,547.2h0M175.3,547.2h0M176.4,547.2h0M177.6,547.2h0M178.7,547.2h0M179.9,547.2h0M181.0,547.2h0M182.2,547.1h0M183.3,547.1h0M184.5,547.1h0M185.6,547.1h0M186.8,547.1h0M187.9,547.1h0M189.1,547.1h0M190.2,547.1h0M191.4,547.1h0M192.5,547.1h0M193.7,547.1h0M194.8,547.1h0M196.0,547.0h0M197.1,547.0h0M198.3,547.0h0M199.4,547.0h0M200.6,547.0h0M201.7,547.0h0M202.9,547.0h0M204.0,547.0h0M205.2,546.9h0M206.3,546.9h0M207.5,546.9h0M208.6,546.9h0M209.8,546.9h0M210.9,546.9h0M212.1,546.9h0M213.2,546.8h0M214.4,546.8h0M215.5,546.8h0M216.7,546.8h0M217.8,546.8h0M219.0,546.8h0M220.1,546.7h0M221.3,546.7h0M222.4,546.7h0M223.6,546.7h0M224.7,546.6h0M225.9,546.6h0M227.0,546.6h0M228.2,546.5h0M229.3,546.5h0M230.5,546.4h0M231.6,546.4h0M232.8,546.3h0M233.9,546.3h0M235.1,546.2h0M236.2,546.1h0M237.4,546.0h0M238.5,545.9h0M239.7,545.8h0M240.8,545.7h0M242.0,545.6h0M243.1,545.5h0M244.3,545.4h0M245.4,545.2h0M246.6,545.1h0M247.7,544.9h0M248.9,544.8h0M250.0,544.6h0M251.2,544.5h0M252.3,544.3h0M253.5,544.2h0M254.6,544.0h0M255.8,543.9h0M256.9,543.7h0M258.1,543.6h0M259.2,543.4h0M260.4,543.2h0M261.5,543.1h0M262.7,542.9h0M263.8,542.8h0M265.0,542.6h0M266.1,542.5h0M267.3,542.3h0M268.4,542.2h0M269.6,542.0h0M270.7,541.8h0M271.9,541.7h0M273.0,541.5h0M274.2,541.3h0M275.3,541.1h0M276.5,541.0h0M277.6,540.8h0M278.8,540.6h0M279.9,540.3h0M281.1,540.1h0M282.2,539.9h0M283.4,539.6h0M284.5,539.4h0M285.7,539.1h0M286.8,538.8h0M288.0,538.5h0M289.1,538.2h0M290.3,537.8h0M291.4,537.5h0M292.6,537.1h0M293.7,536.7h0M294.9,536.3h0M296.0,535.8h0M297.2,535.3h0M298.3,534.8h0M299.5,534.3h0M300.6,533.7h0M301.8,533.0h0M302.9,532.4h0M304.1,531.6h0M305.2,530.9h0M306.4,530.0h0M307.5,529.1h0M308.7,528.1h0M309.8,527.0h0M311.0,525.9h0M312.1,524.6h0M313.3,523.2h0M314.4,521.7h0M315.6,520.0h0M316.7,518.2h0M317.9,516.3h0M319.0,514.2h0M320.2,512.0h0M321.3,509.6h0M322.5,507.1h0M323.6,504.5h0M324.8,501.7h0M325.9,498.8h0M327.1,495.9h0M328.2,493.0h0M329.4,490.0h0M330.5,487.1h0M331.7,484.2h0M332.8,481.3h0M334.0,478.5h0M335.1,475.7h0M336.3,473.0h0M337.4,470.4h0M338.6,467.8h0M339.7,465.3h0M340.9,462.8h0M342.0,460.4h0M343.2,458.0h0M344.3,455.7h0M345.5,453.4h0M346.6,451.2h0M347.8,449.1h0M348.9,447.0h0M350.1,445.0h0M351.2,443.0h0M352.4,441.1h0M353.5,439.2h0M354.7,437.5h0M355.8,435.7h0M357.0,434.0h0M358.1,432.4h0M359.3,430.8h0M360.4,429.3h0M361.6,427.8h0M362.7,426.3h0M363.9,424.9h0M365.0,423.5h0M366.2,422.2h0M367.3,420.8h0M368.5,419.6h0M369.6,418.3h0M370.8,417.1h0M371.9,415.9h0M373.1,414.7h0M374.2,413.5h0M375.4,412.4h0M376.5,411.3h0M377.7,410.2h0M378.8,409.1h0M380.0,408.0h0M381.1,407.0h0M382.3,406.0h0M383.4,404.9h0M384.6,403.9h0M385.7,402.9h0M386.9,402.0h0M388.0,401.0h0M389.2,400.0h0M390.3,399.1h0M391.5,398.1h0M392.6,397.2h0M393.8,396.2h0M394.9,395.3h0M396.1,394.4h0M397.2,393.5h0M398.4,392.6h0M399.5,391.7h0M400.7,390.8h0M401.8,390.0h0M403.0,389.1h0M404.1,388.3h0M405.3,387.5h0M406.4,386.7h0M407.6,385.9h0M408.7,385.1h0M409.9,384.4h0M411.0,383.7h0M412.2,382.9h0M413.3,382.3h0M414.5,381.6h0M415.6,380.9h0M416.8,380.3h0M417.9,379.7h0M419.1,379.1h0M420.2,378.5h0M421.4,377.9h0M422.5,377.4h0M423.7,376.9h0M424.8,376.4h0M426.0,375.9h0M427.1,375.4h0M428.3,374.9h0M429.4,374.5h0M430.6,374.0h0M431.7,373.6h0M432.9,373.2h0M434.0,372.8h0M435.2,372.5h0M436.3,372.1h0M437.5,371.8h0M438.6,371.4h0M439.8,371.1h0M440.9,370.8h0M442.1,370.6h0M443.2,370.3h0M444.4,370.1h0M445.5,369.8h0M446.7,369.6h0M447.8,369.4h0M449.0,369.2h0M450.1,369.0h0M451.3,368.8h0M452.4,368.7h0M453.6,368.5h0M454.7,368.4h0M455.9,368.2h0M457.0,368.1h0M458.2,367.9h0M459.3,367.8h0M460.5,367.7h0M461.6,367.5h0M462.8,367.4h0M463.9,367.3h0M465.1,367.2h0M466.2,367.1h0M467.4,367.0h0M468.5,366.9h0M469.7,366.8h0M470.8,366.7h0M472.0,366.6h0M473.1,366.5h0M474.3,366.4h0M475.4,366.3h0M476.6,366.2h0M477.7,366.1h0M478.9,366.0h0M480.0,365.9h0M481.2,365.8h0M482.3,365.7h0M483.5,365.6h0M484.6,365.5h0M485.8,365.5h0M486.9,365.4h0M488.1,365.3h0M489.2,365.2h0M490.4,365.1h0M491.5,365.0h0M492.7,364.9h0M493.8,364.8h0M495.0,364.8h0M496.1,364.7h0M497.3,364.6h0M498.4,364.5h0M499.6,364.4h0M500.7,364.3h0M501.9,364.2h0M503.0,364.2h0M504.2,364.1h0M505.3,364.0h0M506.5,363.9h0M507.6,363.8h0M508.8,363.8h0M509.9,363.7h0M511.1,363.6h0M512.2,363.5h0M513.4,363.5h0M514.5,363.4h0M515.7,363.3h0M516.8,363.2h0M518.0,363.2h0M519.1,363.1h0M520.3,363.0h0M521.4,363.0h0M522.6,362.9h0M523.7,362.8h0M524.9,362.8h0M526.0,362.7h0M527.2,362.6h0M528.3,362.6h0M529.5,362.5h0M530.6,362.5h0M531.8,362.4h0M532.9,362.4h0M534.1,362.3h0M535.2,362.3h0M536.4,362.2h0M537.5,362.2h0M538.7,362.1h0M539.8,362.1h0M541.0,362.0h0M542.1,362.0h0M543.3,361.9h0M544.4,361.9h0M545.6,361.9h0M546.7,361.8h0M547.9,361.8h0M549.0,361.8h0M550.2,361.7h0M551.3,361.7h0M552.5,361.7h0M553.6,361.6h0M554.8,361.6h0M555.9,361.6h0" stroke="#34b49e"/>
<path d="M164.9,545.5h0M166.1,545.5h0M167.2,545.5h0M168.4,545.5h0M169.5,545.5h0M170.7,545.5h0M171.8,545.5h0M173.0,545.5h0M174.1,545.4h0M175.3,545.4h0M176.4,545.4h0M177.6,545.4h0M178.7,545.4h0M179.9,545.3h0M181.0,545.3h0M182.2,545.3h0M183.3,545.3h0M184.5,545.3h0M185.6,545.2h0M186.8,545.2h0M187.9,545.2h0M189.1,545.1h0M190.2,545.1h0M191.4,545.1h0M192.5,545.0h0M193.7,545.0h0M194.8,545.0h0M196.0,544.9h0M197.1,544.9h0M198.3,544.8h0M199.4,544.8h0M200.6,544.8h0M201.7,544.7h0M202.9,544.7h0M204.0,544.6h0M205.2,544.6h0M206.3,544.5h0M207.5,544.5h0M208.6,544.4h0M209.8,544.4h0M210.9,544.3h0M212.1,544.3h0M213.2,544.2h0M214.4,544.2h0M215.5,544.1h0M216.7,544.1h0M217.8,544.0h0M219.0,544.0h0M220.1,543.9h0M221.3,543.8h0M222.4,543.8h0M223.6,543.7h0M224.7,543.6h0M225.9,543.6h0M227.0,543.5h0M228.2,543.4h0M229.3,543.3h0M230.5,543.2h0M231.6,543.1h0M232.8,543.0h0M233.9,542.9h0M235.1,542.8h0M236.2,542.7h0M237.4,542.6h0M238.5,542.5h0M239.7,542.3h0M240.8,542.2h0M242.0,542.1h0M243.1,541.9h0M244.3,541.8h0M245.4,541.7h0M246.6,541.5h0M247.7,541.4h0M248.9,541.2h0M250.0,541.1h0M251.2,540.9h0M252.3,540.8h0M253.5,540.6h0M254.6,540.4h0M255.8,540.2h0M256.9,540.1h0M258.1,539.9h0M259.2,539.7h0M260.4,539.5h0M261.5,539.3h0M262.7,539.1h0M263.8,538.9h0M265.0,538.7h0M266.1,538.4h0M267.3,538.2h0M268.4,538.0h0M269.6,537.7h0M270.7,537.5h0M271.9,537.2h0M273.0,536.9h0M274.2,536.6h0M275.3,536.3h0M276.5,536.0h0M277.6,535.7h0M278.8,535.4h0M279.9,535.0h0M281.1,534.7h0M282.2,534.3h0M283.4,533.9h0M284.5,533.5h0M285.7,533.1h0M286.8,532.7h0M288.0,532.2h0M289.1,531.7h0M290.3,531.2h0M291.4,530.7h0M292.6,530.2h0M293.7,529.6h0M294.9,529.0h0M296.0,528.3h0M297.2,527.7h0M298.3,527.0h0M299.5,526.2h0M300.6,525.4h0M301.8,524.6h0M302.9,523.7h0M304.1,522.7h0M305.2,521.6h0M306.4,520.5h0M307.5,519.3h0M308.7,518.0h0M309.8,516.7h0M311.0,515.2h0M312.1,513.5h0M313.3,511.8h0M314.4,509.8h0M315.6,507.8h0M316.7,505.6h0M317.9,503.2h0M319.0,500.7h0M320.2,498.0h0M321.3,495.2h0M322.5,492.4h0M323.6,489.5h0M324.8,486.5h0M325.9,483.6h0M327.1,480.8h0M328.2,478.0h0M329.4,475.3h0M330.5,472.7h0M331.7,470.3h0M332.8,468.0h0M334.0,465.8h0M335.1,463.7h0M336.3,461.7h0M337.4,459.8h0M338.6,458.0h0M339.7,456.4h0M340.9,454.8h0M342.0,453.2h0M343.2,451.8h0M344.3,450.4h0M345.5,449.1h0M346.6,447.9h0M347.8,446.7h0M348.9,445.5h0M350.1,444.4h0M351.2,443.4h0M352.4,442.3h0M353.5,441.3h0M354.7,440.3h0M355.8,439.4h0M357.0,438.4h0M358.1,437.5h0M359.3,436.6h0M360.4,435.6h0M361.6,434.7h0M362.7,433.8h0M363.9,432.8h0M365.0,431.9h0M366.2,431.0h0M367.3,430.0h0M368.5,429.1h0M369.6,428.2h0M370.8,427.3h0M371.9,426.3h0M373.1,425.4h0M374.2,424.5h0M375.4,423.6h0M376.5,422.8h0M377.7,421.9h0M378.8,421.1h0M380.0,420.3h0M381.1,419.5h0M382.3,418.7h0M383.4,418.0h0M384.6,417.3h0M385.7,416.6h0M386.9,415.9h0M388.0,415.2h0M389.2,414.5h0M390.3,413.9h0M391.5,413.3h0M392.6,412.6h0M393.8,412.1h0M394.9,411.5h0M396.1,410.9h0M397.2,410.4h0M398.4,409.8h0M399.5,409.3h0M400.7,408.8h0M401.8,408.4h0M403.0,407.9h0M404.1,407.5h0M405.3,407.0h0M406.4,406.6h0M407.6,406.2h0M408.7,405.8h0M409.9,405.5h0M411.0,405.1h0M412.2,404.8h0M413.3,404.4h0M414.5,404.1h0M415.6,403.8h0M416.8,403.5h0M417.9,403.2h0M419.1,402.9h0M420.2,402.7h0M421.4,402.4h0M422.5,402.2h0M423.7,401.9h0M424.8,401.7h0M426.0,401.5h0M427.1,401.3h0M428.3,401.1h0M429.4,400.9h0M430.6,400.7h0M431.7,400.5h0M432.9,400.3h0M434.0,400.2h0M435.2,400.0h0M436.3,399.8h0M437.5,399.7h0M438.6,399.5h0M439.8,399.4h0M440.9,399.2h0M442.1,399.1h0M443.2,399.0h0M444.4,398.8h0M445.5,398.7h0M446.7,398.6h0M447.8,398.5h0M449.0,398.4h0M450.1,398.2h0M451.3,398.1h0M452.4,398.0h0M453.6,397.9h0M454.7,397.8h0M455.9,397.7h0M457.0,397.6h0M458.2,397.6h0M459.3,397.5h0M460.5,397.4h0M461.6,397.3h0M462.8,397.2h0M463.9,397.1h0M465.1,397.1h0M466.2,397.0h0M467.4,396.9h0M468.5,396.9h0M469.7,396.8h0M470.8,396.7h0M472.0,396.7h0M473.1,396.6h0M474.3,396.6h0M475.4,396.5h0M476.6,396.4h0M477.7,396.4h0M478.9,396.3h0M480.0,396.3h0M481.2,396.2h0M482.3,396.2h0M483.5,396.1h0M484.6,396.1h0M485.8,396.0h0M486.9,396.0h0M488.1,396.0h0M489.2,395.9h0M490.4,395.9h0M491.5,395.8h0M492.7,395.8h0M493.8,395.7h0M495.0,395.7h0M496.1,395.6h0M497.3,395.6h0M498.4,395.6h0M499.6,395.5h0M500.7,395.5h0M501.9,395.4h0M503.0,395.4h0M504.2,395.3h0M505.3,395.3h0M506.5,395.3h0M507.6,395.2h0M508.8,395.2h0M509.9,395.1h0M511.1,395.1h0M512.2,395.1h0M513.4,395.0h0M514.5,395.0h0M515.7,394.9h0M516.8,394.9h0M518.0,394.9h0M519.1,394.8h0M520.3,394.8h0M521.4,394.7h0M522.6,394.7h0M523.7,394.7h0M524.9,394.6h0M526.0,394.6h0M527.2,394.6h0M528.3,394.5h0M529.5,394.5h0M530.6,394.5h0M531.8,394.4h0M532.9,394.4h0M534.1,394.4h0M535.2,394.3h0M536.4,394.3h0M537.5,394.3h0M538.7,394.2h0M539.8,394.2h0M541.0,394.2h0M542.1,394.1h0M543.3,394.1h0M544.4,394.1h0M545.6,394.0h0M546.7,394.0h0M547.9,394.0h0M549.0,394.0h0M550.2,393.9h0M551.3,393.9h0M552.5,393.9h0M553.6,393.8h0M554.8,393.8h0M555.9,393.8h0" stroke="#7cc07a"/>
<path d="M164.9,543.0h0M166.1,543.0h0M167.2,543.0h0M168.4,542.9h0M169.5,542.9h0M170.7,542.8h0M171.8,542.8h0M173.0,542.8h0M174.1,542.7h0M175.3,542.7h0M176.4,542.6h0M177.6,542.6h0M178.7,542.5h0M179.9,542.5h0M181.0,542.4h0M182.2,542.4h0M183.3,542.4h0M184.5,542.3h0M185.6,542.3h0M186.8,542.2h0M187.9,542.2h0M189.1,542.1h0M190.2,542.1h0M191.4,542.0h0M192.5,541.9h0M193.7,541.9h0M194.8,541.8h0M196.0,541.8h0M197.1,541.7h0M198.3,541.7h0M199.4,541.6h0M200.6,541.5h0M201.7,541.5h0M202.9,541.4h0M204.0,541.4h0M205.2,541.3h0M206.3,541.2h0M207.5,541.2h0M208.6,541.1h0M209.8,541.0h0M210.9,541.0h0M212.1,540.9h0M213.2,540.8h0M214.4,540.7h0M215.5,540.7h0M216.7,540.6h0M217.8,540.5h0M219.0,540.4h0M220.1,540.3h0M221.3,540.2h0M222.4,540.1h0M223.6,540.0h0M224.7,539.9h0M225.9,539.8h0M227.0,539.7h0M228.2,539.5h0M229.3,539.4h0M230.5,539.3h0M231.6,539.1h0M232.8,539.0h0M233.9,538.8h0M235.1,538.7h0M236.2,538.5h0M237.4,538.3h0M238.5,538.1h0M239.7,537.9h0M240.8,537.7h0M242.0,537.5h0M243.1,537.3h0M244.3,537.1h0M245.4,536.9h0M246.6,536.6h0M247.7,536.4h0M248.9,536.2h0M250.0,535.9h0M251.2,535.6h0M252.3,535.4h0M253.5,535.1h0M254.6,534.8h0M255.8,534.5h0M256.9,534.2h0M258.1,533.9h0M259.2,533.6h0M260.4,533.2h0M261.5,532.9h0M262.7,532.6h0M263.8,532.2h0M265.0,531.8h0M266.1,531.5h0M267.3,531.1h0M268.4,530.7h0M269.6,530.3h0M270.7,529.9h0M271.9,529.5h0M273.0,529.1h0M274.2,528.6h0M275.3,528.2h0M276.5,527.7h0M277.6,527.3h0M278.8,526.8h0M279.9,526.3h0M281.1,525.7h0M282.2,525.2h0M283.4,524.6h0M284.5,524.0h0M285.7,523.4h0M286.8,522.7h0M288.0,522.0h0M289.1,521.3h0M290.3,520.5h0M291.4,519.6h0M292.6,518.7h0M293.7,517.7h0M294.9,516.7h0M296.0,515.5h0M297.2,514.3h0M298.3,513.0h0M299.5,511.6h0M300.6,510.1h0M301.8,508.5h0M302.9,506.7h0M304.1,504.9h0M305.2,503.0h0M306.4,501.0h0M307.5,499.0h0M308.7,497.0h0M309.8,494.9h0M311.0,492.9h0M312.1,490.9h0M313.3,489.0h0M314.4,487.1h0M315.6,485.3h0M316.7,483.6h0M317.9,481.9h0M319.0,480.3h0M320.2,478.8h0M321.3,477.3h0M322.5,475.9h0M323.6,474.6h0M324.8,473.3h0M325.9,472.0h0M327.1,470.8h0M328.2,469.5h0M329.4,468.4h0M330.5,467.2h0M331.7,466.0h0M332.8,464.9h0M334.0,463.8h0M335.1,462.7h0M336.3,461.6h0M337.4,460.6h0M338.6,459.5h0M339.7,458.5h0M340.9,457.5h0M342.0,456.5h0M343.2,455.6h0M344.3,454.7h0M345.5,453.8h0M346.6,452.9h0M347.8,452.0h0M348.9,451.2h0M350.1,450.3h0M351.2,449.5h0M352.4,448.7h0M353.5,447.9h0M354.7,447.2h0M355.8,446.4h0M357.0,445.7h0M358.1,445.0h0M359.3,444.2h0M360.4,443.5h0M361.6,442.8h0M362.7,442.2h0M363.9,441.5h0M365.0,440.8h0M366.2,440.2h0M367.3,439.5h0M368.5,438.9h0M369.6,438.3h0M370.8,437.7h0M371.9,437.1h0M373.1,436.5h0M374.2,436.0h0M375.4,435.4h0M376.5,434.9h0M377.7,434.4h0M378.8,433.9h0M380.0,433.4h0M381.1,433.0h0M382.3,432.5h0M383.4,432.1h0M384.6,431.7h0M385.7,431.4h0M386.9,431.0h0M388.0,430.7h0M389.2,430.4h0M390.3,430.1h0M391.5,429.9h0M392.6,429.7h0M393.8,429.4h0M394.9,429.2h0M396.1,429.1h0M397.2,428.9h0M398.4,428.7h0M399.5,428.6h0M400.7,428.5h0M401.8,428.3h0M403.0,428.2h0M404.1,428.1h0M405.3,428.0h0M406.4,427.9h0M407.6,427.8h0M408.7,427.7h0M409.9,427.7h0M411.0,427.6h0M412.2,427.5h0M413.3,427.4h0M414.5,427.3h0M415.6,427.3h0M416.8,427.2h0M417.9,427.1h0M419.1,427.0h0M420.2,427.0h0M421.4,426.9h0M422.5,426.8h0M423.7,426.8h0M424.8,426.7h0M426.0,426.6h0M427.1,426.6h0M428.3,426.5h0M429.4,426.4h0M430.6,426.4h0M431.7,426.3h0M432.9,426.2h0M434.0,426.2h0M435.2,426.1h0M436.3,426.1h0M437.5,426.0h0M438.6,425.9h0M439.8,425.9h0M440.9,425.8h0M442.1,425.8h0M443.2,425.7h0M444.4,425.7h0M445.5,425.6h0M446.7,425.6h0M447.8,425.5h0M449.0,425.5h0M450.1,425.4h0M451.3,425.4h0M452.4,425.3h0M453.6,425.3h0M454.7,425.2h0M455.9,425.2h0M457.0,425.1h0M458.2,425.1h0M459.3,425.0h0M460.5,425.0h0M461.6,424.9h0M462.8,424.9h0M463.9,424.8h0M465.1,424.8h0M466.2,424.7h0M467.4,424.7h0M468.5,424.6h0M469.7,424.6h0M470.8,424.6h0M472.0,424.5h0M473.1,424.5h0M474.3,424.4h0M475.4,424.4h0M476.6,424.3h0M477.7,424.3h0M478.9,424.2h0M480.0,424.2h0M481.2,424.2h0M482.3,424.1h0M483.5,424.1h0M484.6,424.0h0M485.8,424.0h0M486.9,424.0h0M488.1,423.9h0M489.2,423.9h0M490.4,423.8h0M491.5,423.8h0M492.7,423.8h0M493.8,423.7h0M495.0,423.7h0M496.1,423.6h0M497.3,423.6h0M498.4,423.6h0M499.6,423.5h0M500.7,423.5h0M501.9,423.4h0M503.0,423.4h0M504.2,423.4h0M505.3,423.3h0M506.5,423.3h0M507.6,423.2h0M508.8,423.2h0M509.9,423.2h0M511.1,423.1h0M512.2,423.1h0M513.4,423.1h0M514.5,423.0h0M515.7,423.0h0M516.8,422.9h0M518.0,422.9h0M519.1,422.9h0M520.3,422.8h0M521.4,422.8h0M522.6,422.8h0M523.7,422.7h0M524.9,422.7h0M526.0,422.7h0M527.2,422.6h0M528.3,422.6h0M529.5,422.6h0M530.6,422.5h0M531.8,422.5h0M532.9,422.4h0M534.1,422.4h0M535.2,422.4h0M536.4,422.3h0M537.5,422.3h0M538.7,422.3h0M539.8,422.2h0M541.0,422.2h0M542.1,422.2h0M543.3,422.1h0M544.4,422.1h0M545.6,422.1h0M546.7,422.1h0M547.9,422.0h0M549.0,422.0h0M550.2,422.0h0M551.3,421.9h0M552.5,421.9h0M553.6,421.9h0M554.8,421.8h0M555.9,421.8h0" stroke="#b0bc62"/>
<path d="M164.9,521.7h0M166.1,521.6h0M167.2,521.5h0M168.4,521.4h0M169.5,521.2h0M170.7,521.1h0M171.8,521.0h0M173.0,520.9h0M174.1,520.7h0M175.3,520.6h0M176.4,520.5h0M177.6,520.3h0M178.7,520.2h0M179.9,520.0h0M181.0,519.9h0M182.2,519.8h0M183.3,519.6h0M184.5,519.5h0M185.6,519.3h0M186.8,519.2h0M187.9,519.0h0M189.1,518.8h0M190.2,518.7h0M191.4,518.5h0M192.5,518.4h0M193.7,518.2h0M194.8,518.0h0M196.0,517.9h0M197.1,517.7h0M198.3,517.5h0M199.4,517.4h0M200.6,517.2h0M201.7,517.0h0M202.9,516.9h0M204.0,516.7h0M205.2,516.6h0M206.3,516.4h0M207.5,516.3h0M208.6,516.1h0M209.8,516.0h0M210.9,515.8h0M212.1,515.7h0M213.2,515.6h0M214.4,515.5h0M215.5,515.3h0M216.7,515.2h0M217.8,515.1h0M219.0,515.0h0M220.1,514.9h0M221.3,514.8h0M222.4,514.7h0M223.6,514.6h0M224.7,514.5h0M225.9,514.3h0M227.0,514.2h0M228.2,514.1h0M229.3,514.0h0M230.5,513.9h0M231.6,513.7h0M232.8,513.6h0M233.9,513.4h0M235.1,513.2h0M236.2,513.1h0M237.4,512.9h0M238.5,512.7h0M239.7,512.4h0M240.8,512.2h0M242.0,511.9h0M243.1,511.7h0M244.3,511.4h0M245.4,511.1h0M246.6,510.8h0M247.7,510.4h0M248.9,510.1h0M250.0,509.7h0M251.2,509.3h0M252.3,508.9h0M253.5,508.5h0M254.6,508.0h0M255.8,507.6h0M256.9,507.1h0M258.1,506.7h0M259.2,506.2h0M260.4,505.7h0M261.5,505.1h0M262.7,504.6h0M263.8,504.0h0M265.0,503.5h0M266.1,502.9h0M267.3,502.3h0M268.4,501.6h0M269.6,501.0h0M270.7,500.4h0M271.9,499.7h0M273.0,499.0h0M274.2,498.3h0M275.3,497.7h0M276.5,497.0h0M277.6,496.3h0M278.8,495.5h0M279.9,494.8h0M281.1,494.1h0M282.2,493.4h0M283.4,492.7h0M284.5,492.0h0M285.7,491.4h0M286.8,490.7h0M288.0,490.0h0M289.1,489.4h0M290.3,488.7h0M291.4,488.1h0M292.6,487.5h0M293.7,486.9h0M294.9,486.3h0M296.0,485.7h0M297.2,485.1h0M298.3,484.5h0M299.5,484.0h0M300.6,483.5h0M301.8,482.9h0M302.9,482.4h0M304.1,481.9h0M305.2,481.4h0M306.4,481.0h0M307.5,480.5h0M308.7,480.0h0M309.8,479.6h0M311.0,479.2h0M312.1,478.8h0M313.3,478.3h0M314.4,477.9h0M315.6,477.6h0M316.7,477.2h0M317.9,476.8h0M319.0,476.4h0M320.2,476.1h0M321.3,475.7h0M322.5,475.4h0M323.6,475.1h0M324.8,474.8h0M325.9,474.4h0M327.1,474.1h0M328.2,473.8h0M329.4,473.5h0M330.5,473.2h0M331.7,472.9h0M332.8,472.6h0M334.0,472.4h0M335.1,472.1h0M336.3,471.8h0M337.4,471.5h0M338.6,471.3h0M339.7,471.0h0M340.9,470.8h0M342.0,470.5h0M343.2,470.3h0M344.3,470.0h0M345.5,469.8h0M346.6,469.6h0M347.8,469.3h0M348.9,469.1h0M350.1,468.9h0M351.2,468.7h0M352.4,468.5h0M353.5,468.3h0M354.7,468.1h0M355.8,467.9h0M357.0,467.8h0M358.1,467.6h0M359.3,467.4h0M360.4,467.3h0M361.6,467.1h0M362.7,467.0h0M363.9,466.9h0M365.0,466.7h0M366.2,466.6h0M367.3,466.5h0M368.5,466.4h0M369.6,466.3h0M370.8,466.1h0M371.9,466.0h0M373.1,465.9h0M374.2,465.8h0M375.4,465.7h0M376.5,465.6h0M377.7,465.5h0M378.8,465.4h0M380.0,465.4h0M381.1,465.3h0M382.3,465.2h0M383.4,465.1h0M384.6,465.0h0M385.7,465.0h0M386.9,464.9h0M388.0,464.8h0M389.2,464.7h0M390.3,464.7h0M391.5,464.6h0M392.6,464.5h0M393.8,464.5h0M394.9,464.4h0M396.1,464.4h0M397.2,464.3h0M398.4,464.3h0M399.5,464.2h0M400.7,464.2h0M401.8,464.1h0M403.0,464.1h0M404.1,464.1h0M405.3,464.0h0M406.4,464.0h0M407.6,463.9h0M408.7,463.9h0M409.9,463.9h0M411.0,463.8h0M412.2,463.8h0M413.3,463.8h0M414.5,463.7h0M415.6,463.7h0M416.8,463.7h0M417.9,463.7h0M419.1,463.6h0M420.2,463.6h0M421.4,463.6h0M422.5,463.6h0M423.7,463.5h0M424.8,463.5h0M426.0,463.5h0M427.1,463.5h0M428.3,463.4h0M429.4,463.4h0M430.6,463.4h0M431.7,463.4h0M432.9,463.3h0M434.0,463.3h0M435.2,463.3h0M436.3,463.3h0M437.5,463.3h0M438.6,463.2h0M439.8,463.2h0M440.9,463.2h0M442.1,463.2h0M443.2,463.1h0M444.4,463.1h0M445.5,463.1h0M446.7,463.1h0M447.8,463.0h0M449.0,463.0h0M450.1,463.0h0M451.3,463.0h0M452.4,462.9h0M453.6,462.9h0M454.7,462.9h0M455.9,462.9h0M457.0,462.8h0M458.2,462.8h0M459.3,462.8h0M460.5,462.8h0M461.6,462.7h0M462.8,462.7h0M463.9,462.7h0M465.1,462.7h0M466.2,462.6h0M467.4,462.6h0M468.5,462.6h0M469.7,462.6h0M470.8,462.5h0M472.0,462.5h0M473.1,462.5h0M474.3,462.5h0M475.4,462.4h0M476.6,462.4h0M477.7,462.4h0M478.9,462.4h0M480.0,462.3h0M481.2,462.3h0M482.3,462.3h0M483.5,462.3h0M484.6,462.3h0M485.8,462.2h0M486.9,462.2h0M488.1,462.2h0M489.2,462.2h0M490.4,462.2h0M491.5,462.1h0M492.7,462.1h0M493.8,462.1h0M495.0,462.1h0M496.1,462.1h0M497.3,462.0h0M498.4,462.0h0M499.6,462.0h0M500.7,462.0h0M501.9,462.0h0M503.0,462.0h0M504.2,461.9h0M505.3,461.9h0M506.5,461.9h0M507.6,461.9h0M508.8,461.9h0M509.9,461.9h0M511.1,461.8h0M512.2,461.8h0M513.4,461.8h0M514.5,461.8h0M515.7,461.8h0M516.8,461.8h0M518.0,461.8h0M519.1,461.7h0M520.3,461.7h0M521.4,461.7h0M522.6,461.7h0M523.7,461.7h0M524.9,461.7h0M526.0,461.7h0M527.2,461.7h0M528.3,461.6h0M529.5,461.6h0M530.6,461.6h0M531.8,461.6h0M532.9,461.6h0M534.1,461.6h0M535.2,461.6h0M536.4,461.6h0M537.5,461.5h0M538.7,461.5h0M539.8,461.5h0M541.0,461.5h0M542.1,461.5h0M543.3,461.5h0M544.4,461.5h0M545.6,461.5h0M546.7,461.5h0M547.9,461.5h0M549.0,461.4h0M550.2,461.4h0M551.3,461.4h0M552.5,461.4h0M553.6,461.4h0M554.8,461.4h0M555.9,461.4h0" stroke="#ecb848"/>
</g>
<circle cx="165.6" cy="548.1" r="2.4" fill="#ecb848"/>
<g font-size="25" text-anchor="middle">
<text x="123.0" y="582.5">0</text>
<text x="177.1" y="582.5">50</text>
<text x="231.2" y="582.5">100</text>
<text x="285.4" y="582.5">150</text>
<text x="339.5" y="582.5">200</text>
<text x="393.6" y="582.5">250</text>
<text x="447.8" y="582.5">300</text>
<text x="501.9" y="582.5">350</text>
<text x="556.0" y="582.5">400</text>
</g>
<g font-size="25" text-anchor="end">
<text x="110" y="556.2">0</text>
<text x="110" y="501.3">200</text>
<text x="110" y="446.3">400</text>
<text x="110" y="391.4">600</text>
<text x="110" y="336.4">800</text>
<text x="110" y="281.5">1000</text>
<text x="110" y="226.5">1200</text>
<text x="110" y="171.6">1400</text>
<text x="110" y="116.6">1600</text>
<text x="110" y="61.7">1800</text>
</g>
<text x="340.5" y="624" font-size="25" text-anchor="middle"><tspan font-style="italic">T</tspan><tspan dx="-1.5"> (mK)</tspan></text>
<text transform="translate(20.5,300.5) rotate(-90)" font-size="25" text-anchor="middle"><tspan font-style="italic">R</tspan> (Ohm)</text>
<text x="172" y="119.8" font-size="25.5"><tspan font-style="italic">V</tspan><tspan font-size="17" dy="8.2" dx="-2.8">TG</tspan><tspan dy="-6.499999999999999" dx="-1.2">=</tspan><tspan dy="-1.7"> 1.8 V</tspan></text>
<text x="562" y="43.8" font-size="25.5"><tspan font-style="italic">V</tspan><tspan font-size="17" dy="8.2" dx="-2.8">BG</tspan><tspan dy="-6.499999999999999" dx="-1.2">=</tspan></text>
<g font-size="25" text-anchor="end">
<text x="635.8" y="86.8">–46 V</text>
<text x="635.8" y="127.8">–38 V</text>
<text x="635.8" y="163.8">–30 V</text>
<text x="635.8" y="229.3">–15 V</text>
<text x="640.8" y="287.8">0 V</text>
<text x="638.8" y="333.8">15 V</text>
<text x="638.8" y="371.8">30 V</text>
<text x="638.8" y="403.8">45 V</text>
<text x="638.8" y="431.4">60 V</text>
<text x="638.8" y="471.2">90 V</text>
</g>
<clipPath id="cb"><rect x="775.5" y="53.5" width="372.5" height="494.5"/></clipPath>
<g fill="none" stroke-width="3.4" stroke-linecap="round" stroke-linejoin="round" clip-path="url(#cb)">
<path d="M775.0,97.8 L776.4,97.8 L777.8,97.8 L779.2,97.8 L780.6,97.8 L782.0,97.8 L783.4,97.8 L784.8,97.8 L786.2,97.8 L787.6,97.8 L789.0,97.8 L790.4,97.8 L791.8,97.8 L793.2,97.8 L794.6,97.8 L796.0,97.8 L797.4,97.8 L798.8,97.8 L800.2,97.8 L801.6,97.8 L803.0,97.8 L804.4,97.8 L805.8,97.8 L807.2,97.8 L808.6,97.8 L810.0,97.8 L811.4,97.9 L812.8,98.0 L814.1,98.2 L815.5,98.4 L816.9,98.6 L818.3,98.9 L819.6,99.2 L821.0,99.6 L822.3,99.9 L823.7,100.3 L825.0,100.7 L826.4,101.1 L827.7,101.4 L829.1,101.8 L830.4,102.2 L831.8,102.6 L833.1,102.9 L834.5,103.3 L835.8,103.7 L837.1,104.1 L838.5,104.5 L839.8,105.0 L841.1,105.4 L842.5,105.9 L843.8,106.3 L845.1,106.8 L846.4,107.3 L847.7,107.8 L849.0,108.3 L850.3,108.8 L851.6,109.3 L852.9,109.8 L854.3,110.3 L855.6,110.8 L856.9,111.3 L858.2,111.8 L859.5,112.3 L860.8,112.8 L862.1,113.3 L863.3,113.9 L864.6,114.5 L865.8,115.2 L867.1,115.8 L868.3,116.5 L869.5,117.1 L870.8,117.8 L872.0,118.5 L873.2,119.1 L874.5,119.8 L875.7,120.4 L877.0,120.9 L878.3,121.5 L879.6,121.9 L881.0,122.4 L882.3,122.7 L883.7,122.9 L885.1,123.1 L886.5,123.1 L887.9,123.0 L889.3,122.7 L890.6,122.4 L892.0,122.0 L893.3,121.5 L894.6,121.0 L895.7,120.2 L896.6,119.2 L897.5,118.1 L898.2,116.9 L898.9,115.7 L899.6,114.4 L900.2,113.2 L900.9,112.0 L901.5,110.7 L902.1,109.4 L902.7,108.2 L903.4,106.9 L904.0,105.7 L904.7,104.5 L905.4,103.3 L906.1,102.1 L906.9,100.9 L907.6,99.7 L908.3,98.5 L909.0,97.3 L909.7,96.0 L910.3,94.8 L911.0,93.6 L911.8,92.4 L912.5,91.2 L913.3,90.0 L914.1,88.9 L914.9,87.8 L915.9,86.8 L916.9,85.8 L918.0,85.0 L919.2,84.3 L920.4,83.6 L921.6,82.9 L922.9,82.3 L924.2,81.8 L925.6,81.5 L927.0,81.3 L928.3,81.5 L929.7,81.9 L930.9,82.5 L932.1,83.2 L933.3,84.0 L934.4,84.8 L935.5,85.6 L936.7,86.5 L937.8,87.2 L939.0,88.0 L940.3,88.6 L941.6,89.1 L942.8,89.7 L944.1,90.3 L945.4,90.9 L946.7,91.4 L948.0,92.0 L949.3,92.5 L950.6,93.0 L951.9,93.4 L953.2,93.8 L954.6,94.2 L955.9,94.5 L957.3,94.8 L958.7,95.0 L960.1,95.2 L961.5,95.4 L962.9,95.6 L964.2,95.8 L965.6,96.0 L967.0,96.2 L968.4,96.3 L969.8,96.5 L971.2,96.6 L972.6,96.7 L974.0,96.8 L975.4,96.9 L976.8,96.9 L978.2,97.0 L979.6,97.0 L981.0,97.0 L982.4,96.9 L983.8,96.8 L985.1,96.7 L986.5,96.5 L987.9,96.3 L989.3,96.1 L990.7,95.9 L992.1,95.6 L993.4,95.3 L994.8,95.1 L996.2,94.8 L997.5,94.5 L998.9,94.3 L1000.3,94.0 L1001.7,93.7 L1003.0,93.5 L1004.4,93.3 L1005.8,93.0 L1007.2,92.7 L1008.5,92.4 L1009.9,92.2 L1011.3,91.9 L1012.6,91.6 L1014.0,91.3 L1015.4,91.0 L1016.7,90.7 L1018.1,90.4 L1019.5,90.2 L1020.9,89.9 L1022.3,89.7 L1023.6,89.5 L1025.0,89.3 L1026.4,89.2 L1027.8,89.0 L1029.2,88.8 L1030.6,88.6 L1032.0,88.5 L1033.4,88.3 L1034.7,88.2 L1036.1,88.1 L1037.5,88.0 L1038.9,87.9 L1040.3,87.9 L1041.7,87.9 L1043.1,88.0 L1044.5,88.2 L1045.9,88.4 L1047.3,88.6 L1048.6,88.9 L1050.0,89.2 L1051.4,89.5 L1052.7,89.9 L1054.1,90.2 L1055.4,90.5 L1056.8,90.8 L1058.2,91.1 L1059.6,91.3 L1060.9,91.6 L1062.3,91.8 L1063.7,92.1 L1065.1,92.3 L1066.5,92.5 L1067.8,92.8 L1069.2,93.0 L1070.6,93.3 L1072.0,93.5 L1073.3,93.7 L1074.7,93.9 L1076.1,94.2 L1077.5,94.4 L1078.9,94.6 L1080.3,94.7 L1081.6,94.9 L1083.0,95.1 L1084.4,95.2 L1085.8,95.3 L1087.2,95.5 L1088.6,95.6 L1090.0,95.6 L1091.4,95.7 L1092.8,95.8 L1094.2,95.9 L1095.6,96.0 L1097.0,96.1 L1098.4,96.2 L1099.8,96.2 L1101.2,96.3 L1102.6,96.4 L1104.0,96.5 L1105.4,96.5 L1106.8,96.6 L1108.2,96.7 L1109.6,96.8 L1111.0,96.8 L1112.3,96.9 L1113.7,97.0 L1115.1,97.0 L1116.5,97.1 L1117.9,97.1 L1119.3,97.2 L1120.7,97.3 L1122.1,97.3 L1123.5,97.4 L1124.9,97.4 L1126.3,97.4 L1127.7,97.5 L1129.1,97.5 L1130.5,97.6 L1131.9,97.6 L1133.3,97.6 L1134.7,97.7 L1136.1,97.7 L1137.5,97.7 L1138.9,97.7 L1140.3,97.8 L1141.7,97.8 L1143.1,97.8 L1144.5,97.8 L1145.9,97.8 L1147.3,97.8 L1148.0,97.8" stroke="#e8202a"/>
<path d="M775.0,143.0 L776.4,143.0 L777.8,143.0 L779.2,142.9 L780.6,142.9 L782.0,142.9 L783.4,142.9 L784.8,142.9 L786.2,142.8 L787.6,142.8 L789.0,142.8 L790.4,142.8 L791.8,142.8 L793.2,142.8 L794.6,142.8 L796.0,142.7 L797.4,142.7 L798.8,142.7 L800.2,142.7 L801.6,142.7 L803.0,142.7 L804.4,142.7 L805.8,142.7 L807.2,142.6 L808.6,142.6 L810.0,142.6 L811.4,142.6 L812.8,142.6 L814.2,142.6 L815.6,142.6 L817.0,142.6 L818.4,142.6 L819.8,142.6 L821.2,142.6 L822.6,142.6 L824.0,142.6 L825.4,142.6 L826.8,142.6 L828.2,142.5 L829.6,142.5 L831.0,142.5 L832.4,142.5 L833.8,142.5 L835.2,142.5 L836.6,142.5 L838.0,142.5 L839.4,142.5 L840.8,142.5 L842.2,142.5 L843.6,142.5 L845.0,142.5 L846.4,142.5 L847.8,142.5 L849.2,142.5 L850.6,142.5 L852.0,142.5 L853.4,142.5 L854.8,142.5 L856.2,142.5 L857.6,142.5 L859.0,142.5 L860.4,142.5 L861.8,142.5 L863.2,142.5 L864.6,142.5 L866.0,142.5 L867.4,142.5 L868.8,142.5 L870.2,142.5 L871.6,142.5 L873.0,142.6 L874.3,143.0 L875.7,143.4 L876.9,144.1 L878.1,144.7 L879.3,145.5 L880.5,146.3 L881.6,147.1 L882.7,147.9 L883.8,148.8 L884.8,149.8 L885.8,150.8 L886.7,151.9 L887.5,153.0 L888.3,154.2 L889.0,155.3 L889.8,156.5 L890.5,157.7 L891.2,158.9 L891.9,160.1 L892.6,161.3 L893.3,162.6 L894.0,163.8 L894.7,165.0 L895.4,166.2 L896.1,167.4 L896.8,168.6 L897.6,169.8 L898.3,171.0 L899.1,172.2 L899.8,173.3 L900.6,174.5 L901.4,175.7 L902.2,176.8 L902.9,178.0 L903.6,179.3 L904.3,180.5 L905.0,181.7 L905.7,182.9 L906.4,184.1 L907.1,185.3 L907.9,186.5 L908.7,187.6 L909.5,188.8 L910.4,189.8 L911.4,190.8 L912.5,191.6 L913.8,192.1 L915.2,192.0 L916.5,191.6 L917.6,190.8 L918.7,189.9 L919.7,188.9 L920.6,187.9 L921.5,186.8 L922.4,185.7 L923.2,184.6 L923.9,183.4 L924.4,182.1 L924.9,180.8 L925.4,179.4 L925.8,178.1 L926.2,176.8 L926.6,175.4 L926.9,174.1 L927.3,172.7 L927.6,171.3 L928.0,170.0 L928.3,168.6 L928.6,167.3 L928.9,165.9 L929.2,164.5 L929.6,163.2 L929.9,161.8 L930.2,160.4 L930.5,159.1 L930.8,157.7 L931.2,156.4 L931.5,155.0 L931.8,153.6 L932.2,152.3 L932.5,150.9 L932.9,149.6 L933.3,148.2 L933.7,146.9 L934.1,145.6 L934.6,144.2 L935.0,142.9 L935.4,141.6 L935.9,140.2 L936.3,138.9 L936.7,137.6 L937.2,136.2 L937.6,134.9 L938.0,133.6 L938.5,132.2 L938.9,130.9 L939.3,129.6 L939.8,128.3 L940.3,126.9 L940.8,125.6 L941.3,124.3 L941.8,123.0 L942.4,121.8 L943.0,120.5 L943.7,119.3 L944.5,118.1 L945.4,117.1 L946.5,116.3 L947.7,115.5 L948.9,114.8 L950.2,114.3 L951.6,114.1 L953.0,114.2 L954.3,114.6 L955.5,115.2 L956.6,116.1 L957.7,117.0 L958.7,117.9 L959.7,118.9 L960.7,119.9 L961.6,121.0 L962.5,122.0 L963.4,123.1 L964.3,124.2 L965.3,125.2 L966.2,126.2 L967.2,127.2 L968.3,128.2 L969.3,129.1 L970.3,130.1 L971.3,131.1 L972.2,132.1 L973.2,133.1 L974.1,134.2 L975.0,135.2 L975.9,136.3 L976.9,137.3 L977.8,138.4 L978.8,139.4 L979.8,140.4 L980.8,141.4 L981.8,142.3 L982.9,143.1 L984.1,143.9 L985.3,144.6 L986.6,145.0 L988.0,145.3 L989.4,145.3 L990.8,145.2 L992.2,145.0 L993.6,144.8 L994.9,144.5 L996.3,144.2 L997.7,143.8 L999.0,143.5 L1000.4,143.1 L1001.7,142.7 L1003.1,142.3 L1004.4,141.9 L1005.7,141.3 L1006.9,140.7 L1008.2,140.1 L1009.4,139.4 L1010.6,138.7 L1011.8,138.0 L1013.0,137.3 L1014.2,136.6 L1015.4,135.9 L1016.7,135.2 L1017.9,134.5 L1019.1,133.9 L1020.4,133.3 L1021.7,132.8 L1023.0,132.3 L1024.3,131.8 L1025.7,131.4 L1027.0,130.9 L1028.3,130.4 L1029.6,130.0 L1031.0,129.6 L1032.3,129.3 L1033.7,129.0 L1035.1,128.9 L1036.5,128.8 L1037.9,128.9 L1039.3,129.1 L1040.7,129.4 L1042.0,129.7 L1043.3,130.2 L1044.6,130.7 L1045.9,131.3 L1047.2,131.8 L1048.5,132.4 L1049.7,133.0 L1051.0,133.7 L1052.2,134.3 L1053.5,134.8 L1054.8,135.4 L1056.1,135.9 L1057.4,136.3 L1058.8,136.7 L1060.2,137.0 L1061.5,137.3 L1062.9,137.5 L1064.3,137.8 L1065.7,138.1 L1067.0,138.3 L1068.4,138.6 L1069.8,138.8 L1071.2,139.1 L1072.5,139.3 L1073.9,139.5 L1075.3,139.7 L1076.7,139.9 L1078.1,140.1 L1079.5,140.3 L1080.9,140.4 L1082.3,140.6 L1083.7,140.7 L1085.1,140.8 L1086.4,140.9 L1087.8,141.0 L1089.2,141.1 L1090.6,141.2 L1092.0,141.2 L1093.4,141.3 L1094.8,141.4 L1096.2,141.5 L1097.6,141.5 L1099.0,141.6 L1100.4,141.7 L1101.8,141.8 L1103.2,141.8 L1104.6,141.9 L1106.0,142.0 L1107.4,142.0 L1108.8,142.1 L1110.2,142.1 L1111.6,142.2 L1113.0,142.3 L1114.4,142.3 L1115.8,142.4 L1117.2,142.4 L1118.6,142.5 L1120.0,142.5 L1121.4,142.6 L1122.8,142.6 L1124.2,142.6 L1125.6,142.7 L1127.0,142.7 L1128.4,142.8 L1129.8,142.8 L1131.2,142.8 L1132.6,142.8 L1134.0,142.9 L1135.4,142.9 L1136.8,142.9 L1138.2,142.9 L1139.6,143.0 L1141.0,143.0 L1142.4,143.0 L1143.8,143.0 L1145.2,143.0 L1146.6,143.0 L1148.0,143.0" stroke="#e6409a"/>
<path d="M775.0,188.0 L776.4,188.0 L777.8,188.0 L779.2,188.0 L780.6,188.0 L782.0,188.0 L783.4,188.0 L784.8,188.0 L786.2,188.0 L787.6,188.0 L789.0,188.0 L790.4,188.0 L791.8,188.0 L793.2,188.0 L794.6,188.0 L796.0,188.0 L797.4,188.0 L798.8,188.0 L800.2,188.0 L801.6,188.0 L803.0,188.0 L804.4,188.0 L805.8,188.0 L807.2,188.0 L808.6,188.0 L810.0,188.0 L811.4,188.0 L812.8,188.0 L814.2,188.0 L815.6,188.0 L817.0,188.0 L818.4,188.0 L819.8,188.0 L821.2,188.0 L822.6,188.1 L824.0,188.1 L825.4,188.1 L826.8,188.1 L828.2,188.1 L829.6,188.1 L831.0,188.1 L832.4,188.1 L833.8,188.1 L835.2,188.1 L836.6,188.1 L838.0,188.1 L839.4,188.1 L840.8,188.1 L842.2,188.1 L843.6,188.1 L845.0,188.1 L846.4,188.2 L847.8,188.2 L849.2,188.2 L850.6,188.2 L852.0,188.2 L853.4,188.2 L854.8,188.2 L856.2,188.2 L857.6,188.2 L859.0,188.2 L860.4,188.2 L861.8,188.3 L863.2,188.3 L864.6,188.3 L866.0,188.3 L867.4,188.3 L868.8,188.3 L870.2,188.3 L871.6,188.3 L873.0,188.4 L874.4,188.4 L875.8,188.4 L877.2,188.4 L878.6,188.4 L880.0,188.4 L881.4,188.4 L882.8,188.5 L884.2,188.5 L885.6,188.5 L887.0,188.6 L888.3,188.9 L889.6,189.4 L890.9,190.0 L892.1,190.7 L893.3,191.4 L894.4,192.3 L895.4,193.3 L896.2,194.4 L896.9,195.6 L897.5,196.9 L898.0,198.2 L898.6,199.5 L899.1,200.8 L899.6,202.1 L900.0,203.4 L900.5,204.7 L901.0,206.1 L901.4,207.4 L901.9,208.7 L902.3,210.0 L902.8,211.3 L903.2,212.7 L903.7,214.0 L904.2,215.3 L904.7,216.6 L905.2,217.9 L905.8,219.2 L906.4,220.5 L906.9,221.7 L907.5,223.0 L908.0,224.3 L908.6,225.6 L909.1,226.9 L909.7,228.2 L910.3,229.4 L910.9,230.7 L911.5,232.0 L912.2,233.2 L912.9,234.4 L913.7,235.5 L914.5,236.7 L915.4,237.7 L916.3,238.8 L917.2,239.9 L918.2,240.9 L919.3,241.8 L920.5,242.4 L921.9,242.5 L923.2,242.1 L924.3,241.3 L925.4,240.4 L926.4,239.4 L927.3,238.4 L928.2,237.3 L929.1,236.2 L929.8,235.0 L930.4,233.7 L930.9,232.4 L931.4,231.1 L931.9,229.8 L932.3,228.5 L932.7,227.2 L933.1,225.8 L933.5,224.5 L933.9,223.1 L934.3,221.8 L934.6,220.4 L935.0,219.1 L935.3,217.7 L935.7,216.4 L936.0,215.0 L936.3,213.6 L936.7,212.3 L937.0,210.9 L937.3,209.5 L937.7,208.2 L938.0,206.8 L938.3,205.5 L938.6,204.1 L939.0,202.7 L939.3,201.4 L939.6,200.0 L939.9,198.7 L940.3,197.3 L940.6,195.9 L941.0,194.6 L941.3,193.2 L941.7,191.9 L942.0,190.5 L942.4,189.2 L942.8,187.8 L943.2,186.5 L943.6,185.1 L944.0,183.8 L944.4,182.5 L944.9,181.2 L945.4,179.9 L946.0,178.6 L946.5,177.3 L947.0,176.0 L947.6,174.7 L948.1,173.4 L948.7,172.1 L949.3,170.8 L949.8,169.6 L950.4,168.3 L951.0,167.0 L951.6,165.8 L952.3,164.5 L953.0,163.3 L953.7,162.1 L954.4,160.9 L955.3,159.8 L956.2,158.8 L957.3,157.9 L958.4,157.1 L959.6,156.3 L960.9,155.7 L962.2,155.4 L963.6,155.6 L964.7,156.3 L965.7,157.2 L966.6,158.3 L967.4,159.5 L968.1,160.7 L968.8,161.9 L969.5,163.1 L970.2,164.3 L970.8,165.6 L971.5,166.8 L972.2,168.0 L972.9,169.2 L973.7,170.4 L974.4,171.6 L975.2,172.7 L976.0,173.9 L976.7,175.1 L977.4,176.3 L978.1,177.5 L978.8,178.7 L979.5,179.9 L980.3,181.1 L981.0,182.3 L981.8,183.5 L982.6,184.6 L983.4,185.8 L984.3,186.8 L985.3,187.8 L986.3,188.8 L987.3,189.7 L988.4,190.7 L989.4,191.6 L990.6,192.4 L991.8,193.1 L993.1,193.5 L994.5,193.5 L995.9,193.3 L997.2,192.8 L998.4,192.2 L999.6,191.5 L1000.8,190.7 L1001.9,189.9 L1003.0,189.1 L1004.1,188.2 L1005.2,187.3 L1006.3,186.5 L1007.5,185.6 L1008.6,184.8 L1009.7,184.0 L1010.8,183.1 L1011.8,182.1 L1012.9,181.2 L1013.9,180.2 L1014.9,179.3 L1015.9,178.3 L1017.0,177.4 L1018.1,176.5 L1019.2,175.6 L1020.3,174.8 L1021.5,174.1 L1022.8,173.5 L1024.1,173.0 L1025.4,172.5 L1026.7,172.0 L1028.0,171.6 L1029.4,171.3 L1030.8,171.0 L1032.2,170.9 L1033.6,171.0 L1034.9,171.3 L1036.2,171.7 L1037.5,172.3 L1038.8,172.9 L1040.0,173.6 L1041.2,174.3 L1042.4,175.0 L1043.6,175.8 L1044.8,176.4 L1046.1,177.1 L1047.3,177.7 L1048.6,178.2 L1049.9,178.8 L1051.2,179.3 L1052.5,179.9 L1053.8,180.4 L1055.1,181.0 L1056.4,181.5 L1057.6,182.1 L1058.9,182.6 L1060.2,183.1 L1061.6,183.6 L1062.9,184.0 L1064.2,184.4 L1065.6,184.8 L1066.9,185.1 L1068.3,185.4 L1069.7,185.6 L1071.1,185.7 L1072.5,185.8 L1073.9,185.9 L1075.3,186.0 L1076.7,186.1 L1078.1,186.2 L1079.5,186.3 L1080.9,186.4 L1082.3,186.5 L1083.6,186.6 L1085.0,186.7 L1086.4,186.8 L1087.8,186.8 L1089.2,186.9 L1090.6,187.0 L1092.0,187.1 L1093.4,187.2 L1094.8,187.2 L1096.2,187.3 L1097.6,187.4 L1099.0,187.4 L1100.4,187.5 L1101.8,187.5 L1103.2,187.6 L1104.6,187.7 L1106.0,187.7 L1107.4,187.8 L1108.8,187.8 L1110.2,187.9 L1111.6,187.9 L1113.0,188.0 L1114.4,188.0 L1115.8,188.0 L1117.2,188.1 L1118.6,188.1 L1120.0,188.2 L1121.4,188.2 L1122.8,188.2 L1124.2,188.3 L1125.6,188.3 L1127.0,188.3 L1128.4,188.3 L1129.8,188.4 L1131.2,188.4 L1132.6,188.4 L1134.0,188.4 L1135.4,188.4 L1136.8,188.4 L1138.2,188.5 L1139.6,188.5 L1141.0,188.5 L1142.4,188.5 L1143.8,188.5 L1145.2,188.5 L1146.6,188.5 L1148.0,188.5" stroke="#3a56a8"/>
<path d="M775.0,233.3 L776.4,233.3 L777.8,233.3 L779.2,233.2 L780.6,233.2 L782.0,233.2 L783.4,233.2 L784.8,233.2 L786.2,233.1 L787.6,233.1 L789.0,233.1 L790.4,233.1 L791.8,233.1 L793.2,233.1 L794.6,233.0 L796.0,233.0 L797.4,233.0 L798.8,233.0 L800.2,233.0 L801.6,233.0 L803.0,233.0 L804.4,232.9 L805.8,232.9 L807.2,232.9 L808.6,232.9 L810.0,232.9 L811.4,232.9 L812.8,232.9 L814.2,232.9 L815.6,232.9 L817.0,232.9 L818.4,232.8 L819.8,232.8 L821.2,232.8 L822.6,232.8 L824.0,232.8 L825.4,232.8 L826.8,232.8 L828.2,232.8 L829.6,232.8 L831.0,232.8 L832.4,232.8 L833.8,232.8 L835.2,232.8 L836.6,232.8 L838.0,232.8 L839.4,232.7 L840.8,232.7 L842.2,232.7 L843.6,232.7 L845.0,232.7 L846.4,232.7 L847.8,232.7 L849.2,232.7 L850.6,232.7 L852.0,232.7 L853.4,232.7 L854.8,232.7 L856.2,232.7 L857.6,232.7 L859.0,232.7 L860.4,232.7 L861.8,232.7 L863.2,232.7 L864.6,232.7 L866.0,232.7 L867.4,232.7 L868.8,232.7 L870.2,232.7 L871.6,232.7 L873.0,232.7 L874.4,232.7 L875.8,232.7 L877.2,232.7 L878.6,232.7 L880.0,232.7 L881.4,232.7 L882.8,232.7 L884.2,232.7 L885.6,232.7 L887.0,232.7 L888.4,232.7 L889.7,232.8 L891.1,233.2 L892.4,233.7 L893.6,234.4 L894.8,235.2 L895.9,236.0 L897.0,236.8 L898.1,237.7 L899.0,238.8 L899.8,239.9 L900.6,241.1 L901.3,242.3 L902.0,243.5 L902.6,244.7 L903.3,246.0 L903.9,247.3 L904.5,248.5 L905.1,249.8 L905.7,251.0 L906.3,252.3 L906.9,253.6 L907.5,254.8 L908.2,256.1 L908.8,257.3 L909.4,258.5 L910.1,259.8 L910.7,261.1 L911.2,262.3 L911.8,263.6 L912.4,264.9 L913.0,266.2 L913.6,267.4 L914.2,268.7 L914.8,269.9 L915.5,271.2 L916.2,272.4 L917.0,273.5 L917.8,274.7 L918.6,275.8 L919.4,277.0 L920.3,278.0 L921.4,278.8 L922.8,278.9 L924.1,278.5 L925.3,277.8 L926.5,277.0 L927.5,276.1 L928.6,275.2 L929.5,274.1 L930.3,273.0 L930.9,271.7 L931.6,270.5 L932.1,269.2 L932.7,267.9 L933.2,266.6 L933.7,265.3 L934.2,264.0 L934.6,262.7 L935.1,261.3 L935.6,260.0 L936.0,258.7 L936.5,257.4 L936.9,256.1 L937.4,254.7 L937.9,253.4 L938.4,252.1 L938.9,250.8 L939.4,249.5 L939.9,248.2 L940.5,246.9 L941.0,245.6 L941.6,244.4 L942.1,243.1 L942.7,241.8 L943.2,240.5 L943.8,239.2 L944.3,237.9 L944.9,236.6 L945.4,235.3 L946.0,234.1 L946.5,232.8 L947.1,231.5 L947.7,230.2 L948.3,228.9 L948.8,227.7 L949.4,226.4 L950.1,225.1 L950.7,223.9 L951.3,222.7 L952.0,221.4 L952.6,220.1 L953.1,218.9 L953.7,217.6 L954.3,216.3 L954.9,215.0 L955.5,213.8 L956.1,212.5 L956.7,211.3 L957.4,210.0 L958.1,208.9 L959.0,207.7 L960.0,206.8 L961.3,206.4 L962.6,206.6 L963.9,207.1 L965.1,207.9 L966.1,208.8 L967.2,209.7 L968.1,210.7 L969.1,211.8 L970.0,212.8 L970.9,213.8 L971.9,214.9 L972.8,215.9 L973.8,216.9 L974.8,217.9 L975.7,218.9 L976.6,220.0 L977.5,221.1 L978.4,222.2 L979.3,223.3 L980.2,224.4 L981.0,225.4 L982.0,226.5 L982.9,227.5 L983.9,228.5 L984.9,229.5 L986.0,230.4 L987.1,231.2 L988.2,232.1 L989.3,233.0 L990.4,233.7 L991.7,234.4 L993.0,234.8 L994.4,235.0 L995.8,234.8 L997.1,234.4 L998.4,233.9 L999.7,233.4 L1000.9,232.7 L1002.1,232.0 L1003.3,231.3 L1004.5,230.5 L1005.7,229.8 L1006.9,229.1 L1008.1,228.4 L1009.4,227.8 L1010.6,227.0 L1011.7,226.2 L1012.9,225.4 L1014.0,224.6 L1015.1,223.8 L1016.3,222.9 L1017.4,222.1 L1018.5,221.3 L1019.7,220.5 L1020.9,219.8 L1022.1,219.1 L1023.4,218.5 L1024.7,218.1 L1026.0,217.7 L1027.4,217.6 L1028.8,217.7 L1030.2,218.0 L1031.5,218.5 L1032.8,219.0 L1034.1,219.6 L1035.3,220.3 L1036.5,221.0 L1037.7,221.8 L1038.9,222.5 L1040.1,223.2 L1041.3,223.9 L1042.5,224.6 L1043.8,225.1 L1045.1,225.6 L1046.5,226.0 L1047.8,226.4 L1049.1,226.8 L1050.5,227.2 L1051.8,227.6 L1053.2,228.0 L1054.5,228.3 L1055.9,228.7 L1057.2,229.0 L1058.6,229.3 L1060.0,229.6 L1061.3,229.9 L1062.7,230.1 L1064.1,230.3 L1065.5,230.5 L1066.9,230.6 L1068.3,230.7 L1069.7,230.8 L1071.1,230.9 L1072.5,231.0 L1073.9,231.1 L1075.3,231.2 L1076.7,231.2 L1078.1,231.3 L1079.5,231.4 L1080.9,231.5 L1082.3,231.6 L1083.7,231.6 L1085.1,231.7 L1086.4,231.8 L1087.8,231.8 L1089.2,231.9 L1090.6,232.0 L1092.0,232.0 L1093.4,232.1 L1094.8,232.2 L1096.2,232.2 L1097.6,232.3 L1099.0,232.3 L1100.4,232.4 L1101.8,232.4 L1103.2,232.5 L1104.6,232.5 L1106.0,232.6 L1107.4,232.6 L1108.8,232.7 L1110.2,232.7 L1111.6,232.8 L1113.0,232.8 L1114.4,232.9 L1115.8,232.9 L1117.2,232.9 L1118.6,233.0 L1120.0,233.0 L1121.4,233.0 L1122.8,233.0 L1124.2,233.1 L1125.6,233.1 L1127.0,233.1 L1128.4,233.1 L1129.8,233.2 L1131.2,233.2 L1132.6,233.2 L1134.0,233.2 L1135.4,233.2 L1136.8,233.3 L1138.2,233.3 L1139.6,233.3 L1141.0,233.3 L1142.4,233.3 L1143.8,233.3 L1145.2,233.3 L1146.6,233.3 L1148.0,233.3" stroke="#3475bf"/>
<path d="M775.0,278.2 L776.4,278.1 L777.8,278.1 L779.2,278.0 L780.6,278.0 L782.0,278.0 L783.4,277.9 L784.8,277.9 L786.2,277.8 L787.6,277.8 L789.0,277.7 L790.4,277.7 L791.8,277.7 L793.2,277.6 L794.6,277.6 L796.0,277.5 L797.4,277.5 L798.8,277.5 L800.2,277.4 L801.6,277.4 L803.0,277.4 L804.4,277.4 L805.8,277.3 L807.2,277.3 L808.6,277.3 L810.0,277.2 L811.3,277.2 L812.7,277.2 L814.1,277.2 L815.5,277.2 L816.9,277.1 L818.3,277.1 L819.7,277.1 L821.1,277.1 L822.5,277.1 L823.9,277.0 L825.3,277.0 L826.7,277.0 L828.1,277.0 L829.5,277.0 L830.9,277.0 L832.3,277.0 L833.7,276.9 L835.1,276.9 L836.5,276.9 L837.9,276.9 L839.3,276.9 L840.7,276.9 L842.1,276.9 L843.5,276.9 L844.9,276.9 L846.3,276.9 L847.7,276.9 L849.1,276.9 L850.5,276.8 L851.9,276.8 L853.3,276.8 L854.7,276.8 L856.1,276.8 L857.5,276.8 L858.9,276.8 L860.3,276.8 L861.7,276.8 L863.1,276.8 L864.5,276.8 L865.9,276.8 L867.3,276.8 L868.7,276.8 L870.1,276.8 L871.5,276.8 L872.9,276.8 L874.3,276.8 L875.7,276.8 L877.1,276.8 L878.5,276.8 L879.9,276.8 L881.3,276.8 L882.7,276.8 L884.1,276.8 L885.5,276.8 L886.9,276.9 L888.2,277.3 L889.5,277.8 L890.7,278.5 L891.9,279.2 L893.0,280.0 L894.2,280.8 L895.2,281.7 L896.2,282.8 L897.0,283.9 L897.8,285.0 L898.6,286.2 L899.3,287.4 L899.9,288.7 L900.6,289.9 L901.2,291.1 L901.9,292.4 L902.5,293.6 L903.1,294.9 L903.7,296.2 L904.3,297.4 L905.0,298.7 L905.6,299.9 L906.2,301.1 L906.9,302.4 L907.6,303.6 L908.3,304.8 L909.1,306.0 L909.8,307.1 L910.6,308.3 L911.3,309.5 L912.1,310.7 L912.9,311.8 L913.7,313.0 L914.6,314.0 L915.6,315.1 L916.6,316.0 L917.6,316.9 L918.7,317.9 L919.8,318.6 L921.1,319.2 L922.5,319.3 L923.8,318.9 L925.0,318.3 L926.1,317.4 L927.2,316.5 L928.2,315.5 L929.1,314.5 L929.8,313.3 L930.5,312.1 L931.0,310.8 L931.6,309.5 L932.1,308.2 L932.5,306.9 L933.0,305.5 L933.4,304.2 L933.9,302.9 L934.3,301.5 L934.7,300.2 L935.1,298.9 L935.5,297.5 L936.0,296.2 L936.4,294.9 L936.8,293.5 L937.2,292.2 L937.7,290.9 L938.2,289.6 L938.7,288.3 L939.2,287.0 L939.7,285.7 L940.3,284.4 L940.9,283.2 L941.5,281.9 L942.1,280.6 L942.8,279.4 L943.4,278.1 L944.0,276.9 L944.7,275.6 L945.3,274.4 L946.0,273.2 L946.7,272.0 L947.4,270.8 L948.1,269.6 L948.9,268.4 L949.7,267.3 L950.6,266.2 L951.5,265.1 L952.5,264.1 L953.4,263.1 L954.4,262.1 L955.4,261.1 L956.4,260.2 L957.6,259.3 L958.8,258.7 L960.1,258.4 L961.5,258.5 L962.8,259.0 L964.0,259.8 L965.0,260.7 L966.0,261.6 L967.0,262.6 L968.0,263.7 L968.9,264.7 L969.8,265.7 L970.8,266.8 L971.8,267.8 L972.8,268.7 L973.9,269.6 L975.0,270.4 L976.1,271.3 L977.2,272.1 L978.3,273.0 L979.4,273.9 L980.5,274.7 L981.7,275.5 L982.9,276.2 L984.2,276.7 L985.5,277.1 L986.9,277.3 L988.3,277.2 L989.7,277.0 L991.0,276.7 L992.4,276.3 L993.7,275.9 L995.0,275.4 L996.3,274.9 L997.6,274.3 L998.9,273.8 L1000.2,273.3 L1001.5,272.8 L1002.9,272.4 L1004.2,271.9 L1005.5,271.4 L1006.8,270.9 L1008.1,270.3 L1009.3,269.8 L1010.6,269.2 L1011.9,268.7 L1013.2,268.2 L1014.5,267.7 L1015.8,267.2 L1017.2,266.8 L1018.5,266.5 L1019.9,266.2 L1021.3,266.1 L1022.7,266.0 L1024.1,266.2 L1025.4,266.5 L1026.7,267.0 L1028.0,267.6 L1029.2,268.3 L1030.4,269.0 L1031.6,269.7 L1032.8,270.4 L1034.1,271.1 L1035.3,271.8 L1036.5,272.4 L1037.8,272.9 L1039.2,273.3 L1040.5,273.6 L1041.9,273.9 L1043.3,274.2 L1044.7,274.4 L1046.0,274.7 L1047.4,274.9 L1048.8,275.1 L1050.2,275.3 L1051.6,275.5 L1052.9,275.7 L1054.3,275.8 L1055.7,276.0 L1057.1,276.1 L1058.5,276.2 L1059.9,276.2 L1061.3,276.3 L1062.7,276.4 L1064.1,276.4 L1065.5,276.5 L1066.9,276.5 L1068.3,276.6 L1069.7,276.6 L1071.1,276.7 L1072.5,276.8 L1073.9,276.8 L1075.3,276.9 L1076.7,276.9 L1078.1,277.0 L1079.5,277.0 L1080.9,277.1 L1082.3,277.1 L1083.7,277.2 L1085.1,277.2 L1086.5,277.2 L1087.9,277.3 L1089.3,277.3 L1090.7,277.4 L1092.1,277.4 L1093.5,277.5 L1094.9,277.5 L1096.3,277.5 L1097.7,277.6 L1099.1,277.6 L1100.5,277.6 L1101.9,277.7 L1103.2,277.7 L1104.6,277.7 L1106.0,277.8 L1107.4,277.8 L1108.8,277.8 L1110.2,277.8 L1111.6,277.9 L1113.0,277.9 L1114.4,277.9 L1115.8,277.9 L1117.2,278.0 L1118.6,278.0 L1120.0,278.0 L1121.4,278.0 L1122.8,278.0 L1124.2,278.1 L1125.6,278.1 L1127.0,278.1 L1128.4,278.1 L1129.8,278.1 L1131.2,278.1 L1132.6,278.1 L1134.0,278.2 L1135.4,278.2 L1136.8,278.2 L1138.2,278.2 L1139.6,278.2 L1141.0,278.2 L1142.4,278.2 L1143.8,278.2 L1145.2,278.2 L1146.6,278.2 L1148.0,278.2" stroke="#2096d4"/>
<path d="M775.0,323.1 L776.4,323.1 L777.8,323.1 L779.2,323.1 L780.6,323.1 L782.0,323.0 L783.4,323.0 L784.8,323.0 L786.2,323.0 L787.6,323.0 L789.0,323.0 L790.4,323.0 L791.8,323.0 L793.2,323.0 L794.6,323.0 L796.0,323.0 L797.4,322.9 L798.8,322.9 L800.2,322.9 L801.6,322.9 L803.0,322.9 L804.4,322.9 L805.8,322.9 L807.2,322.9 L808.6,322.9 L810.0,322.9 L811.4,322.9 L812.8,322.9 L814.2,322.9 L815.6,322.9 L817.0,322.9 L818.4,322.9 L819.8,322.9 L821.2,322.9 L822.6,322.8 L824.0,322.8 L825.4,322.8 L826.8,322.8 L828.2,322.8 L829.6,322.8 L831.0,322.8 L832.4,322.8 L833.8,322.8 L835.2,322.8 L836.6,322.8 L838.0,322.8 L839.4,322.8 L840.8,322.8 L842.2,322.8 L843.6,322.8 L845.0,322.8 L846.4,322.8 L847.8,322.8 L849.2,322.8 L850.6,322.8 L852.0,322.8 L853.4,322.8 L854.8,322.8 L856.2,322.8 L857.6,322.8 L859.0,322.8 L860.4,322.8 L861.8,322.8 L863.2,322.8 L864.6,322.8 L866.0,322.8 L867.4,322.8 L868.8,322.8 L870.2,322.8 L871.6,322.8 L873.0,322.8 L874.4,322.8 L875.8,322.8 L877.2,322.8 L878.6,322.8 L880.0,322.8 L881.4,322.9 L882.8,323.1 L884.1,323.3 L885.5,323.7 L886.8,324.2 L888.1,324.8 L889.3,325.3 L890.6,326.0 L891.8,326.7 L892.9,327.5 L893.8,328.6 L894.7,329.7 L895.4,330.9 L896.1,332.1 L896.8,333.3 L897.5,334.5 L898.1,335.8 L898.8,337.0 L899.4,338.3 L900.0,339.5 L900.7,340.8 L901.3,342.0 L902.0,343.2 L902.7,344.5 L903.4,345.7 L904.1,346.9 L904.8,348.1 L905.5,349.3 L906.1,350.5 L906.8,351.8 L907.5,353.0 L908.3,354.1 L909.1,355.3 L910.0,356.4 L910.9,357.4 L911.9,358.4 L912.9,359.4 L913.9,360.4 L915.0,361.2 L916.3,361.8 L917.6,362.0 L919.0,361.8 L920.4,361.5 L921.7,361.1 L923.0,360.5 L924.0,359.6 L924.8,358.5 L925.5,357.2 L926.0,356.0 L926.6,354.7 L927.1,353.3 L927.5,352.0 L928.0,350.7 L928.4,349.4 L928.8,348.0 L929.2,346.7 L929.6,345.4 L930.0,344.0 L930.4,342.7 L930.8,341.3 L931.2,340.0 L931.6,338.6 L932.0,337.3 L932.4,336.0 L932.9,334.6 L933.3,333.3 L933.8,332.0 L934.2,330.7 L934.7,329.4 L935.2,328.0 L935.6,326.7 L936.0,325.4 L936.5,324.0 L936.9,322.7 L937.3,321.4 L937.7,320.0 L938.1,318.7 L938.6,317.4 L939.0,316.0 L939.5,314.7 L939.9,313.4 L940.4,312.1 L941.0,310.8 L941.7,309.6 L942.5,308.4 L943.4,307.4 L944.5,306.5 L945.6,305.7 L946.8,304.9 L948.1,304.3 L949.4,303.9 L950.8,303.9 L952.1,304.2 L953.4,304.8 L954.5,305.6 L955.6,306.4 L956.7,307.4 L957.7,308.3 L958.7,309.2 L959.8,310.2 L960.9,311.1 L962.0,311.9 L963.2,312.6 L964.4,313.3 L965.7,314.0 L966.9,314.7 L968.1,315.4 L969.3,316.1 L970.5,316.7 L971.7,317.4 L973.0,318.1 L974.3,318.7 L975.5,319.2 L976.8,319.7 L978.2,320.1 L979.5,320.5 L980.9,320.7 L982.3,320.8 L983.7,320.7 L985.1,320.6 L986.5,320.4 L987.8,320.1 L989.2,319.7 L990.5,319.3 L991.9,318.9 L993.2,318.5 L994.5,318.0 L995.9,317.6 L997.2,317.2 L998.6,316.9 L999.9,316.5 L1001.3,316.2 L1002.6,315.8 L1004.0,315.5 L1005.3,315.1 L1006.7,314.8 L1008.1,314.6 L1009.5,314.4 L1010.9,314.3 L1012.3,314.3 L1013.7,314.4 L1015.1,314.6 L1016.4,314.8 L1017.8,315.1 L1019.2,315.3 L1020.6,315.6 L1021.9,316.0 L1023.3,316.3 L1024.6,316.6 L1026.0,317.0 L1027.4,317.3 L1028.7,317.6 L1030.1,317.9 L1031.5,318.1 L1032.9,318.3 L1034.2,318.6 L1035.6,318.9 L1037.0,319.1 L1038.4,319.4 L1039.7,319.7 L1041.1,319.9 L1042.5,320.2 L1043.9,320.4 L1045.2,320.7 L1046.6,320.9 L1048.0,321.2 L1049.4,321.4 L1050.8,321.6 L1052.1,321.8 L1053.5,321.9 L1054.9,322.1 L1056.3,322.2 L1057.7,322.2 L1059.1,322.3 L1060.5,322.3 L1061.9,322.4 L1063.3,322.4 L1064.7,322.4 L1066.1,322.4 L1067.5,322.5 L1068.9,322.5 L1070.3,322.5 L1071.7,322.5 L1073.1,322.5 L1074.5,322.6 L1075.9,322.6 L1077.3,322.6 L1078.7,322.6 L1080.1,322.7 L1081.5,322.7 L1082.9,322.7 L1084.3,322.7 L1085.7,322.7 L1087.1,322.7 L1088.5,322.8 L1089.9,322.8 L1091.3,322.8 L1092.7,322.8 L1094.1,322.8 L1095.5,322.8 L1096.9,322.9 L1098.3,322.9 L1099.7,322.9 L1101.1,322.9 L1102.5,322.9 L1103.9,322.9 L1105.3,322.9 L1106.7,322.9 L1108.1,323.0 L1109.5,323.0 L1110.9,323.0 L1112.3,323.0 L1113.7,323.0 L1115.1,323.0 L1116.5,323.0 L1117.9,323.0 L1119.3,323.0 L1120.7,323.0 L1122.1,323.0 L1123.5,323.0 L1124.9,323.1 L1126.3,323.1 L1127.7,323.1 L1129.1,323.1 L1130.5,323.1 L1131.9,323.1 L1133.3,323.1 L1134.7,323.1 L1136.1,323.1 L1137.5,323.1 L1138.9,323.1 L1140.3,323.1 L1141.7,323.1 L1143.1,323.1 L1144.5,323.1 L1145.9,323.1 L1147.3,323.1 L1148.0,323.1" stroke="#18a6c6"/>
<path d="M775.0,367.9 L776.4,367.9 L777.8,367.9 L779.2,367.9 L780.6,367.9 L782.0,367.9 L783.4,367.9 L784.8,367.9 L786.2,367.9 L787.6,367.9 L789.0,367.9 L790.4,367.9 L791.8,367.9 L793.2,367.9 L794.6,367.9 L796.0,367.9 L797.4,367.9 L798.8,367.9 L800.2,367.9 L801.6,367.9 L803.0,367.9 L804.4,367.9 L805.8,367.9 L807.2,368.0 L808.6,368.0 L810.0,368.0 L811.4,368.0 L812.8,368.0 L814.2,368.0 L815.6,368.0 L817.0,368.0 L818.4,368.0 L819.8,368.0 L821.2,368.0 L822.6,368.0 L824.0,368.0 L825.4,368.0 L826.8,368.1 L828.2,368.1 L829.6,368.1 L831.0,368.1 L832.4,368.1 L833.8,368.1 L835.2,368.1 L836.6,368.1 L838.0,368.1 L839.4,368.2 L840.8,368.2 L842.2,368.2 L843.6,368.2 L845.0,368.2 L846.4,368.2 L847.8,368.2 L849.2,368.3 L850.6,368.3 L852.0,368.3 L853.4,368.3 L854.8,368.3 L856.2,368.3 L857.6,368.4 L859.0,368.4 L860.4,368.4 L861.8,368.4 L863.2,368.5 L864.5,368.6 L865.9,368.7 L867.3,368.8 L868.7,369.0 L870.1,369.2 L871.5,369.4 L872.9,369.6 L874.3,369.9 L875.6,370.2 L876.9,370.7 L878.1,371.4 L879.3,372.2 L880.4,373.0 L881.5,373.8 L882.6,374.7 L883.7,375.7 L884.7,376.6 L885.8,377.5 L886.9,378.4 L888.0,379.2 L889.1,380.1 L890.2,380.9 L891.3,381.8 L892.4,382.7 L893.5,383.6 L894.5,384.5 L895.6,385.3 L896.8,386.2 L897.9,387.0 L899.1,387.7 L900.3,388.4 L901.5,389.1 L902.8,389.7 L904.0,390.4 L905.2,391.0 L906.5,391.6 L907.8,392.1 L909.2,392.4 L910.6,392.6 L912.0,392.5 L913.3,392.2 L914.6,391.7 L915.9,391.0 L917.1,390.3 L918.2,389.5 L919.4,388.7 L920.5,387.9 L921.4,386.9 L922.3,385.7 L923.0,384.6 L923.7,383.4 L924.4,382.1 L925.1,380.9 L925.7,379.6 L926.3,378.4 L926.9,377.1 L927.5,375.9 L928.1,374.6 L928.7,373.3 L929.4,372.1 L930.0,370.8 L930.7,369.6 L931.4,368.4 L932.1,367.2 L932.8,366.0 L933.6,364.8 L934.3,363.6 L935.0,362.4 L935.7,361.2 L936.5,360.0 L937.3,358.9 L938.1,357.8 L938.9,356.7 L939.9,355.6 L940.9,354.6 L941.8,353.6 L942.8,352.6 L943.9,351.7 L945.1,351.1 L946.5,350.9 L947.8,351.1 L949.1,351.6 L950.4,352.3 L951.5,353.1 L952.6,353.9 L953.8,354.7 L954.9,355.6 L956.0,356.4 L957.2,357.2 L958.3,358.0 L959.4,358.9 L960.4,359.8 L961.5,360.7 L962.6,361.6 L963.8,362.2 L965.2,362.6 L966.5,362.7 L967.9,362.7 L969.3,362.7 L970.7,362.7 L972.1,362.7 L973.5,362.7 L974.9,362.7 L976.3,362.7 L977.7,362.7 L979.1,362.7 L980.5,362.7 L981.9,362.6 L983.3,362.6 L984.7,362.5 L986.1,362.4 L987.5,362.2 L988.9,362.1 L990.3,362.0 L991.7,361.8 L993.1,361.7 L994.5,361.6 L995.9,361.5 L997.3,361.4 L998.7,361.3 L1000.1,361.3 L1001.5,361.3 L1002.9,361.4 L1004.3,361.6 L1005.6,361.8 L1007.0,362.0 L1008.4,362.2 L1009.8,362.5 L1011.2,362.7 L1012.5,363.0 L1013.9,363.2 L1015.3,363.4 L1016.7,363.6 L1018.1,363.8 L1019.5,363.9 L1020.8,364.1 L1022.2,364.3 L1023.6,364.4 L1025.0,364.6 L1026.4,364.8 L1027.8,364.9 L1029.2,365.1 L1030.6,365.3 L1032.0,365.5 L1033.3,365.6 L1034.7,365.8 L1036.1,365.9 L1037.5,366.1 L1038.9,366.2 L1040.3,366.4 L1041.7,366.5 L1043.1,366.7 L1044.5,366.8 L1045.9,366.9 L1047.3,367.0 L1048.7,367.1 L1050.1,367.2 L1051.5,367.3 L1052.9,367.4 L1054.3,367.5 L1055.7,367.5 L1057.0,367.6 L1058.4,367.6 L1059.8,367.6 L1061.2,367.6 L1062.6,367.6 L1064.0,367.7 L1065.4,367.7 L1066.8,367.7 L1068.2,367.7 L1069.6,367.7 L1071.0,367.7 L1072.4,367.7 L1073.8,367.8 L1075.2,367.8 L1076.6,367.8 L1078.0,367.8 L1079.4,367.8 L1080.8,367.8 L1082.2,367.8 L1083.6,367.8 L1085.0,367.9 L1086.4,367.9 L1087.8,367.9 L1089.2,367.9 L1090.6,367.9 L1092.0,367.9 L1093.4,367.9 L1094.8,367.9 L1096.2,367.9 L1097.6,367.9 L1099.0,368.0 L1100.4,368.0 L1101.8,368.0 L1103.2,368.0 L1104.6,368.0 L1106.0,368.0 L1107.4,368.0 L1108.8,368.0 L1110.2,368.0 L1111.6,368.0 L1113.0,368.0 L1114.4,368.0 L1115.8,368.0 L1117.2,368.0 L1118.6,368.0 L1120.0,368.1 L1121.4,368.1 L1122.8,368.1 L1124.2,368.1 L1125.6,368.1 L1127.0,368.1 L1128.4,368.1 L1129.8,368.1 L1131.2,368.1 L1132.6,368.1 L1134.0,368.1 L1135.4,368.1 L1136.8,368.1 L1138.2,368.1 L1139.6,368.1 L1141.0,368.1 L1142.4,368.1 L1143.8,368.1 L1145.2,368.1 L1146.6,368.1 L1148.0,368.1" stroke="#34b49e"/>
<path d="M775.0,413.4 L776.4,413.4 L777.8,413.4 L779.2,413.4 L780.6,413.4 L782.0,413.4 L783.4,413.4 L784.8,413.4 L786.2,413.4 L787.6,413.4 L789.0,413.4 L790.4,413.4 L791.8,413.4 L793.2,413.4 L794.6,413.4 L796.0,413.5 L797.4,413.5 L798.8,413.5 L800.2,413.5 L801.6,413.5 L803.0,413.5 L804.4,413.5 L805.8,413.5 L807.2,413.5 L808.6,413.5 L810.0,413.6 L811.4,413.6 L812.8,413.6 L814.2,413.6 L815.6,413.6 L817.0,413.6 L818.4,413.7 L819.8,413.7 L821.2,413.7 L822.6,413.7 L824.0,413.7 L825.4,413.8 L826.8,413.8 L828.2,413.8 L829.6,413.8 L831.0,413.9 L832.4,413.9 L833.8,413.9 L835.2,413.9 L836.6,414.0 L838.0,414.0 L839.4,414.0 L840.7,414.1 L842.1,414.1 L843.5,414.1 L844.9,414.2 L846.3,414.2 L847.7,414.2 L849.1,414.3 L850.5,414.3 L851.9,414.3 L853.3,414.4 L854.7,414.4 L856.1,414.5 L857.5,414.5 L858.9,414.6 L860.3,414.7 L861.7,414.9 L863.1,415.1 L864.5,415.4 L865.8,415.7 L867.2,416.0 L868.5,416.4 L869.9,416.8 L871.2,417.2 L872.6,417.6 L873.9,418.0 L875.2,418.5 L876.5,419.0 L877.7,419.6 L879.0,420.3 L880.2,421.1 L881.3,421.8 L882.5,422.6 L883.6,423.4 L884.8,424.2 L885.9,425.0 L887.1,425.7 L888.3,426.5 L889.5,427.2 L890.7,428.0 L891.8,428.8 L893.0,429.6 L894.1,430.4 L895.3,431.1 L896.6,431.7 L897.9,432.2 L899.3,432.4 L900.6,432.2 L902.0,431.8 L903.3,431.3 L904.5,430.6 L905.7,429.9 L906.9,429.2 L908.1,428.4 L909.2,427.7 L910.4,426.9 L911.5,426.0 L912.5,425.0 L913.5,424.1 L914.5,423.1 L915.5,422.1 L916.4,421.1 L917.4,420.0 L918.3,419.0 L919.2,417.9 L920.2,416.9 L921.1,415.9 L922.0,414.8 L923.0,413.8 L923.9,412.8 L924.8,411.7 L925.7,410.6 L926.6,409.5 L927.5,408.4 L928.4,407.3 L929.2,406.3 L930.1,405.2 L931.1,404.1 L932.0,403.1 L933.0,402.1 L934.1,401.2 L935.2,400.3 L936.2,399.5 L937.3,398.6 L938.5,397.8 L939.7,397.0 L941.0,396.5 L942.3,396.4 L943.7,396.6 L944.9,397.3 L946.0,398.1 L947.1,399.0 L948.1,400.0 L949.1,401.0 L950.1,402.0 L951.0,403.0 L952.1,403.9 L953.2,404.8 L954.3,405.5 L955.6,406.2 L956.8,406.9 L958.0,407.6 L959.2,408.3 L960.5,408.9 L961.8,409.3 L963.2,409.6 L964.6,409.7 L966.0,409.6 L967.4,409.5 L968.8,409.4 L970.1,409.2 L971.5,409.1 L972.9,408.9 L974.3,408.8 L975.7,408.6 L977.1,408.4 L978.5,408.2 L979.9,408.0 L981.2,407.8 L982.6,407.6 L984.0,407.5 L985.4,407.4 L986.8,407.4 L988.2,407.5 L989.6,407.7 L991.0,408.0 L992.3,408.3 L993.7,408.6 L995.0,409.0 L996.4,409.3 L997.8,409.7 L999.1,410.0 L1000.5,410.2 L1001.9,410.4 L1003.3,410.6 L1004.7,410.7 L1006.1,410.8 L1007.5,410.9 L1008.9,411.0 L1010.2,411.1 L1011.6,411.2 L1013.0,411.3 L1014.4,411.4 L1015.8,411.5 L1017.2,411.6 L1018.6,411.7 L1020.0,411.8 L1021.4,411.8 L1022.8,411.9 L1024.2,412.0 L1025.6,412.1 L1027.0,412.1 L1028.4,412.2 L1029.8,412.3 L1031.2,412.4 L1032.6,412.4 L1034.0,412.5 L1035.4,412.5 L1036.8,412.6 L1038.2,412.6 L1039.6,412.7 L1041.0,412.7 L1042.4,412.8 L1043.8,412.8 L1045.2,412.9 L1046.6,412.9 L1048.0,412.9 L1049.4,413.0 L1050.8,413.0 L1052.2,413.0 L1053.6,413.0 L1055.0,413.1 L1056.4,413.1 L1057.8,413.1 L1059.2,413.1 L1060.6,413.1 L1062.0,413.1 L1063.4,413.1 L1064.8,413.1 L1066.2,413.1 L1067.6,413.2 L1069.0,413.2 L1070.4,413.2 L1071.8,413.2 L1073.2,413.2 L1074.6,413.2 L1076.0,413.2 L1077.4,413.2 L1078.7,413.2 L1080.1,413.2 L1081.5,413.2 L1082.9,413.2 L1084.3,413.2 L1085.7,413.3 L1087.1,413.3 L1088.5,413.3 L1089.9,413.3 L1091.3,413.3 L1092.7,413.3 L1094.1,413.3 L1095.5,413.3 L1096.9,413.3 L1098.3,413.3 L1099.7,413.3 L1101.1,413.3 L1102.5,413.3 L1103.9,413.3 L1105.3,413.3 L1106.7,413.3 L1108.1,413.3 L1109.5,413.3 L1110.9,413.3 L1112.3,413.4 L1113.7,413.4 L1115.1,413.4 L1116.5,413.4 L1117.9,413.4 L1119.3,413.4 L1120.7,413.4 L1122.1,413.4 L1123.5,413.4 L1124.9,413.4 L1126.3,413.4 L1127.7,413.4 L1129.1,413.4 L1130.5,413.4 L1131.9,413.4 L1133.3,413.4 L1134.7,413.4 L1136.1,413.4 L1137.5,413.4 L1138.9,413.4 L1140.3,413.4 L1141.7,413.4 L1143.1,413.4 L1144.5,413.4 L1145.9,413.4 L1147.3,413.4 L1148.0,413.4" stroke="#7cc07a"/>
<path d="M775.0,458.0 L776.4,458.0 L777.8,458.0 L779.2,458.0 L780.6,458.0 L782.0,458.0 L783.4,458.0 L784.8,458.0 L786.2,458.0 L787.6,458.0 L789.0,458.0 L790.4,458.1 L791.8,458.1 L793.2,458.1 L794.6,458.1 L796.0,458.1 L797.4,458.1 L798.8,458.1 L800.2,458.1 L801.6,458.2 L803.0,458.2 L804.4,458.2 L805.8,458.2 L807.1,458.2 L808.5,458.3 L809.9,458.3 L811.3,458.3 L812.7,458.3 L814.1,458.4 L815.5,458.4 L816.9,458.4 L818.3,458.5 L819.7,458.5 L821.1,458.5 L822.5,458.6 L823.9,458.6 L825.3,458.6 L826.7,458.7 L828.1,458.7 L829.5,458.7 L830.9,458.8 L832.3,458.8 L833.7,458.9 L835.1,458.9 L836.5,459.0 L837.9,459.0 L839.3,459.1 L840.7,459.1 L842.1,459.2 L843.5,459.2 L844.9,459.3 L846.3,459.3 L847.7,459.4 L849.1,459.5 L850.5,459.5 L851.9,459.6 L853.3,459.6 L854.7,459.7 L856.0,459.8 L857.4,459.9 L858.8,459.9 L860.2,460.0 L861.6,460.1 L863.0,460.3 L864.4,460.6 L865.7,461.0 L867.0,461.4 L868.4,461.9 L869.7,462.4 L871.0,463.0 L872.2,463.5 L873.5,464.1 L874.8,464.7 L876.1,465.2 L877.3,465.8 L878.6,466.4 L879.9,466.9 L881.2,467.4 L882.5,467.8 L883.9,468.3 L885.2,468.7 L886.5,469.2 L887.8,469.7 L889.1,470.2 L890.4,470.7 L891.8,471.1 L893.1,471.5 L894.5,471.8 L895.8,472.1 L897.2,472.2 L898.6,472.1 L899.9,471.7 L901.2,471.0 L902.3,470.3 L903.4,469.4 L904.5,468.5 L905.6,467.6 L906.6,466.7 L907.7,465.8 L908.8,464.9 L909.9,464.1 L911.0,463.2 L912.1,462.3 L913.2,461.4 L914.2,460.5 L915.3,459.6 L916.3,458.7 L917.4,457.8 L918.5,456.9 L919.6,456.0 L920.7,455.2 L921.8,454.4 L923.0,453.6 L924.2,452.9 L925.4,452.1 L926.5,451.4 L927.7,450.6 L928.9,449.8 L930.1,449.1 L931.3,448.4 L932.5,447.7 L933.8,447.1 L935.1,446.6 L936.4,446.2 L937.8,445.9 L939.2,445.8 L940.6,445.9 L941.9,446.3 L943.2,446.8 L944.5,447.4 L945.7,448.0 L946.9,448.7 L948.2,449.4 L949.4,450.0 L950.7,450.6 L951.9,451.2 L953.2,451.7 L954.5,452.3 L955.8,452.8 L957.1,453.4 L958.4,453.9 L959.7,454.5 L961.0,454.9 L962.3,455.3 L963.7,455.5 L965.1,455.7 L966.5,455.7 L967.9,455.6 L969.3,455.5 L970.7,455.4 L972.1,455.3 L973.5,455.2 L974.8,455.1 L976.2,455.0 L977.6,454.9 L979.0,454.8 L980.4,454.7 L981.8,454.6 L983.2,454.6 L984.6,454.6 L986.0,454.7 L987.4,454.8 L988.8,455.0 L990.2,455.1 L991.6,455.3 L993.0,455.5 L994.3,455.7 L995.7,455.9 L997.1,456.1 L998.5,456.2 L999.9,456.4 L1001.3,456.5 L1002.7,456.6 L1004.1,456.7 L1005.5,456.8 L1006.9,456.8 L1008.3,456.9 L1009.6,457.0 L1011.0,457.1 L1012.4,457.1 L1013.8,457.2 L1015.2,457.3 L1016.6,457.4 L1018.0,457.4 L1019.4,457.5 L1020.8,457.6 L1022.2,457.6 L1023.6,457.7 L1025.0,457.8 L1026.4,457.8 L1027.8,457.9 L1029.2,457.9 L1030.6,458.0 L1032.0,458.0 L1033.4,458.1 L1034.8,458.1 L1036.2,458.2 L1037.6,458.2 L1039.0,458.3 L1040.4,458.3 L1041.8,458.4 L1043.2,458.4 L1044.6,458.4 L1046.0,458.5 L1047.4,458.5 L1048.8,458.5 L1050.2,458.5 L1051.6,458.6 L1053.0,458.6 L1054.3,458.6 L1055.7,458.6 L1057.1,458.6 L1058.5,458.6 L1059.9,458.6 L1061.3,458.6 L1062.7,458.6 L1064.1,458.6 L1065.5,458.6 L1066.9,458.6 L1068.3,458.6 L1069.7,458.6 L1071.1,458.6 L1072.5,458.6 L1073.9,458.6 L1075.3,458.6 L1076.7,458.6 L1078.1,458.6 L1079.5,458.6 L1080.9,458.6 L1082.3,458.6 L1083.7,458.6 L1085.1,458.6 L1086.5,458.6 L1087.9,458.6 L1089.3,458.6 L1090.7,458.6 L1092.1,458.6 L1093.5,458.6 L1094.9,458.6 L1096.3,458.6 L1097.7,458.6 L1099.1,458.5 L1100.5,458.5 L1101.9,458.5 L1103.3,458.5 L1104.7,458.5 L1106.1,458.5 L1107.5,458.5 L1108.9,458.5 L1110.3,458.5 L1111.7,458.5 L1113.1,458.5 L1114.5,458.5 L1115.9,458.4 L1117.3,458.4 L1118.6,458.4 L1120.0,458.4 L1121.4,458.4 L1122.8,458.4 L1124.2,458.4 L1125.6,458.3 L1127.0,458.3 L1128.4,458.3 L1129.8,458.3 L1131.2,458.3 L1132.6,458.3 L1134.0,458.2 L1135.4,458.2 L1136.8,458.2 L1138.2,458.2 L1139.6,458.2 L1141.0,458.1 L1142.4,458.1 L1143.8,458.1 L1145.2,458.1 L1146.6,458.0 L1148.0,458.0" stroke="#b0bc62"/>
<path d="M775.0,503.0 L776.4,503.1 L777.8,503.2 L779.2,503.3 L780.6,503.4 L782.0,503.5 L783.4,503.6 L784.8,503.7 L786.2,503.8 L787.5,503.9 L788.9,504.1 L790.3,504.2 L791.7,504.3 L793.1,504.4 L794.5,504.6 L795.9,504.7 L797.3,504.9 L798.7,505.0 L800.1,505.1 L801.5,505.3 L802.8,505.5 L804.2,505.6 L805.6,505.8 L807.0,506.0 L808.4,506.1 L809.8,506.3 L811.2,506.5 L812.5,506.7 L813.9,506.9 L815.3,507.1 L816.7,507.3 L818.1,507.5 L819.5,507.7 L820.8,508.0 L822.2,508.2 L823.6,508.4 L825.0,508.6 L826.4,508.8 L827.7,509.1 L829.1,509.3 L830.5,509.6 L831.9,509.8 L833.2,510.1 L834.6,510.5 L835.9,510.9 L837.2,511.4 L838.5,512.0 L839.7,512.7 L840.9,513.3 L842.1,514.0 L843.4,514.7 L844.6,515.4 L845.9,516.0 L847.1,516.6 L848.4,517.2 L849.6,517.8 L850.9,518.5 L852.1,519.1 L853.4,519.6 L854.7,520.0 L856.1,520.3 L857.5,520.4 L858.9,520.3 L860.3,520.1 L861.7,519.9 L863.0,519.6 L864.4,519.2 L865.7,518.8 L867.0,518.4 L868.3,517.8 L869.5,517.1 L870.7,516.3 L871.8,515.4 L872.8,514.5 L873.9,513.6 L875.0,512.7 L876.0,511.8 L877.2,511.0 L878.3,510.2 L879.5,509.4 L880.6,508.6 L881.8,507.8 L882.9,507.1 L884.1,506.3 L885.3,505.5 L886.5,504.8 L887.6,504.0 L888.8,503.3 L890.0,502.5 L891.2,501.8 L892.3,501.0 L893.5,500.3 L894.7,499.5 L895.9,498.8 L897.1,498.0 L898.2,497.2 L899.4,496.5 L900.6,495.7 L901.7,495.0 L902.9,494.2 L904.1,493.5 L905.3,492.8 L906.6,492.1 L907.8,491.5 L909.1,490.9 L910.3,490.3 L911.6,489.8 L912.9,489.2 L914.2,488.7 L915.5,488.2 L916.8,487.7 L918.2,487.4 L919.5,487.1 L920.9,486.8 L922.3,486.7 L923.7,486.5 L925.1,486.5 L926.5,486.7 L927.9,486.9 L929.2,487.3 L930.5,487.7 L931.9,488.1 L933.2,488.5 L934.5,488.9 L935.9,489.4 L937.1,489.9 L938.4,490.5 L939.7,491.1 L941.0,491.7 L942.2,492.3 L943.5,492.8 L944.8,493.4 L946.1,493.9 L947.4,494.4 L948.7,494.8 L950.1,495.1 L951.4,495.5 L952.8,495.8 L954.2,496.1 L955.5,496.4 L956.9,496.7 L958.3,496.9 L959.7,497.2 L961.0,497.4 L962.4,497.6 L963.8,497.8 L965.2,498.0 L966.6,498.1 L968.0,498.3 L969.4,498.4 L970.8,498.5 L972.1,498.7 L973.5,498.8 L974.9,499.0 L976.3,499.1 L977.7,499.3 L979.1,499.5 L980.5,499.6 L981.9,499.8 L983.2,500.0 L984.6,500.2 L986.0,500.3 L987.4,500.5 L988.8,500.7 L990.2,500.8 L991.6,501.0 L993.0,501.1 L994.4,501.2 L995.7,501.4 L997.1,501.5 L998.5,501.6 L999.9,501.7 L1001.3,501.8 L1002.7,501.9 L1004.1,502.0 L1005.5,502.0 L1006.9,502.1 L1008.3,502.2 L1009.7,502.3 L1011.1,502.4 L1012.5,502.4 L1013.9,502.5 L1015.3,502.6 L1016.7,502.6 L1018.1,502.7 L1019.5,502.8 L1020.9,502.8 L1022.3,502.9 L1023.7,502.9 L1025.1,503.0 L1026.4,503.1 L1027.8,503.1 L1029.2,503.2 L1030.6,503.2 L1032.0,503.3 L1033.4,503.3 L1034.8,503.4 L1036.2,503.4 L1037.6,503.5 L1039.0,503.5 L1040.4,503.6 L1041.8,503.6 L1043.2,503.7 L1044.6,503.7 L1046.0,503.8 L1047.4,503.8 L1048.8,503.9 L1050.2,503.9 L1051.6,503.9 L1053.0,504.0 L1054.4,504.0 L1055.8,504.1 L1057.2,504.1 L1058.6,504.1 L1060.0,504.2 L1061.4,504.2 L1062.8,504.2 L1064.2,504.2 L1065.6,504.2 L1067.0,504.3 L1068.4,504.3 L1069.8,504.3 L1071.2,504.3 L1072.6,504.3 L1074.0,504.3 L1075.3,504.3 L1076.7,504.3 L1078.1,504.3 L1079.5,504.3 L1080.9,504.3 L1082.3,504.3 L1083.7,504.3 L1085.1,504.3 L1086.5,504.3 L1087.9,504.3 L1089.3,504.2 L1090.7,504.2 L1092.1,504.2 L1093.5,504.2 L1094.9,504.2 L1096.3,504.2 L1097.7,504.2 L1099.1,504.1 L1100.5,504.1 L1101.9,504.1 L1103.3,504.1 L1104.7,504.1 L1106.1,504.0 L1107.5,504.0 L1108.9,504.0 L1110.3,504.0 L1111.7,503.9 L1113.1,503.9 L1114.5,503.9 L1115.9,503.8 L1117.3,503.8 L1118.7,503.8 L1120.1,503.7 L1121.5,503.7 L1122.9,503.6 L1124.3,503.6 L1125.7,503.5 L1127.1,503.5 L1128.5,503.5 L1129.8,503.4 L1131.2,503.4 L1132.6,503.3 L1134.0,503.2 L1135.4,503.2 L1136.8,503.1 L1138.2,503.1 L1139.6,503.0 L1141.0,502.9 L1142.4,502.9 L1143.8,502.8 L1145.2,502.7 L1146.6,502.7 L1148.0,502.6" stroke="#ecb848"/>
</g>
<path d="M924.8,486.8 L925.0,486.2 L925.2,485.6 L925.4,484.8 L925.7,484.0 L926.0,483.1 L926.3,482.1 L926.6,481.0 L927.0,480.0 L927.4,478.8 L927.7,477.7 L928.1,476.5 L928.5,475.3 L928.9,474.1 L929.3,472.9 L929.7,471.7 L930.1,470.5 L930.4,469.3 L930.8,468.2 L931.2,467.1 L931.5,466.0 L931.8,465.0 L932.2,463.9 L932.6,462.9 L932.9,461.8 L933.3,460.8 L933.7,459.7 L934.1,458.7 L934.4,457.6 L934.8,456.6 L935.2,455.5 L935.5,454.5 L935.9,453.5 L936.2,452.4 L936.6,451.4 L936.9,450.4 L937.2,449.5 L937.5,448.5 L937.7,447.5 L938.0,446.6 L938.2,445.7 L938.4,444.8 L938.6,444.0 L938.7,443.1 L938.8,442.3 L938.9,441.5 L939.0,440.7 L939.1,440.0 L939.1,439.2 L939.2,438.4 L939.2,437.7 L939.2,437.0 L939.3,436.2 L939.3,435.5 L939.3,434.7 L939.4,434.0 L939.4,433.2 L939.4,432.4 L939.5,431.6 L939.5,430.8 L939.6,430.0 L939.7,429.1 L939.8,428.3 L939.8,427.4 L939.9,426.5 L940.0,425.6 L940.1,424.7 L940.2,423.8 L940.2,422.9 L940.3,422.0 L940.4,421.0 L940.5,420.1 L940.6,419.2 L940.7,418.3 L940.8,417.3 L940.8,416.4 L940.9,415.5 L941.0,414.6 L941.1,413.7 L941.2,412.9 L941.3,412.0 L941.4,411.2 L941.5,410.3 L941.6,409.5 L941.7,408.7 L941.8,407.9 L941.9,407.1 L942.0,406.3 L942.1,405.5 L942.2,404.7 L942.3,403.9 L942.4,403.1 L942.5,402.3 L942.6,401.5 L942.8,400.7 L942.9,399.9 L943.0,399.1 L943.1,398.3 L943.2,397.5 L943.3,396.6 L943.4,395.8 L943.5,395.0 L943.6,394.1 L943.7,393.3 L943.8,392.5 L943.9,391.7 L944.0,390.8 L944.1,390.0 L944.2,389.2 L944.3,388.4 L944.4,387.5 L944.5,386.7 L944.6,385.8 L944.7,384.9 L944.8,384.0 L944.9,383.1 L945.1,382.1 L945.2,381.1 L945.3,380.1 L945.5,379.0 L945.6,377.9 L945.8,376.7 L945.9,375.5 L946.1,374.3 L946.2,373.0 L946.4,371.7 L946.6,370.4 L946.8,369.0 L947.0,367.6 L947.2,366.2 L947.4,364.7 L947.6,363.3 L947.8,361.9 L948.0,360.4 L948.2,359.0 L948.4,357.6 L948.6,356.2 L948.7,354.8 L948.9,353.4 L949.1,352.1 L949.3,350.8 L949.5,349.5 L949.7,348.3 L949.8,347.0 L950.0,345.8 L950.2,344.5 L950.4,343.3 L950.5,342.1 L950.7,340.9 L950.9,339.7 L951.1,338.5 L951.2,337.3 L951.4,336.1 L951.6,334.9 L951.7,333.7 L951.9,332.6 L952.1,331.4 L952.2,330.2 L952.4,329.0 L952.5,327.9 L952.7,326.7 L952.9,325.5 L953.0,324.4 L953.2,323.2 L953.3,322.1 L953.5,320.9 L953.6,319.8 L953.7,318.6 L953.9,317.5 L954.0,316.3 L954.2,315.2 L954.3,314.1 L954.4,313.0 L954.6,311.8 L954.7,310.7 L954.8,309.6 L955.0,308.4 L955.1,307.3 L955.2,306.2 L955.4,305.0 L955.5,303.9 L955.6,302.8 L955.7,301.6 L955.9,300.5 L956.0,299.4 L956.1,298.2 L956.2,297.1 L956.3,296.0 L956.4,294.8 L956.5,293.7 L956.6,292.6 L956.8,291.4 L956.9,290.3 L957.0,289.1 L957.1,288.0 L957.2,286.9 L957.3,285.7 L957.4,284.6 L957.5,283.5 L957.7,282.3 L957.8,281.2 L957.9,280.1 L958.1,279.0 L958.2,277.9 L958.4,276.8 L958.5,275.7 L958.7,274.7 L958.8,273.6 L959.0,272.5 L959.1,271.5 L959.3,270.4 L959.4,269.3 L959.6,268.2 L959.7,267.1 L959.9,265.9 L960.0,264.7 L960.2,263.6 L960.3,262.3 L960.5,261.1 L960.6,259.7 L960.7,258.4 L960.8,257.0 L960.9,255.5 L961.0,254.0 L961.2,252.4 L961.3,250.8 L961.4,249.1 L961.5,247.4 L961.6,245.7 L961.7,244.0 L961.8,242.3 L961.9,240.5 L962.0,238.8 L962.0,237.1 L962.1,235.4 L962.2,233.8 L962.3,232.2 L962.3,230.7 L962.4,229.2 L962.5,227.8 L962.5,226.4 L962.5,225.1 L962.6,223.9 L962.6,222.7 L962.6,221.6 L962.6,220.5 L962.7,219.5 L962.7,218.4 L962.7,217.5 L962.7,216.5 L962.7,215.5 L962.6,214.6 L962.6,213.7 L962.6,212.7 L962.6,211.8 L962.6,210.9 L962.6,209.9 L962.6,209.0 L962.5,208.0 L962.5,206.9 L962.5,205.9 L962.5,204.8 L962.5,203.7 L962.4,202.7 L962.4,201.6 L962.4,200.5 L962.4,199.3 L962.3,198.2 L962.3,197.1 L962.3,196.0 L962.2,194.9 L962.2,193.8 L962.1,192.6 L962.1,191.5 L962.1,190.4 L962.0,189.3 L962.0,188.1 L961.9,187.0 L961.9,185.9 L961.8,184.8 L961.8,183.7 L961.8,182.6 L961.7,181.5 L961.7,180.4 L961.6,179.2 L961.6,178.1 L961.5,177.0 L961.4,175.8 L961.4,174.7 L961.3,173.6 L961.3,172.5 L961.2,171.3 L961.2,170.2 L961.1,169.2 L961.0,168.1 L961.0,167.0 L960.9,166.0 L960.8,164.9 L960.8,163.9 L960.7,163.0 L960.6,162.0 L960.5,161.1 L960.4,160.2 L960.4,159.3 L960.3,158.4 L960.2,157.5 L960.1,156.7 L960.0,155.9 L959.9,155.1 L959.8,154.3 L959.7,153.5 L959.6,152.7 L959.5,151.9 L959.4,151.2 L959.3,150.4 L959.2,149.7 L959.1,148.9 L959.0,148.2 L958.8,147.5 L958.7,146.7 L958.6,146.0 L958.5,145.3 L958.3,144.6 L958.2,143.9 L958.1,143.2 L957.9,142.6 L957.8,141.9 L957.6,141.3 L957.5,140.7 L957.3,140.0 L957.2,139.4 L957.0,138.8 L956.8,138.2 L956.7,137.5 L956.5,136.9 L956.3,136.2 L956.2,135.5 L956.0,134.8 L955.8,134.1 L955.7,133.4 L955.5,132.6 L955.3,131.8 L955.2,130.9 L955.0,130.0 L954.8,129.1 L954.7,128.2 L954.5,127.2 L954.3,126.2 L954.2,125.2 L954.0,124.2 L953.8,123.2 L953.7,122.2 L953.5,121.3 L953.3,120.3 L953.1,119.4 L952.9,118.5 L952.7,117.6 L952.5,116.8 L952.3,116.0 L952.0,115.3 L951.8,114.6 L951.5,114.0 L951.3,113.4 L951.0,112.9 L950.8,112.5 L950.5,112.1 L950.2,111.7 L949.9,111.3 L949.6,111.0 L949.3,110.7 L949.0,110.4 L948.7,110.1 L948.4,109.8 L948.0,109.5 L947.7,109.2 L947.4,108.9 L947.0,108.6 L946.7,108.2 L946.3,107.9 L946.0,107.5 L945.6,107.0 L945.2,106.5 L944.8,106.0 L944.5,105.5 L944.1,105.0 L943.7,104.5 L943.3,103.9 L942.9,103.4 L942.4,102.8 L942.0,102.3 L941.6,101.7 L941.2,101.1 L940.7,100.5 L940.3,99.9 L939.8,99.3 L939.4,98.7 L938.9,98.1 L938.5,97.5 L938.0,96.9 L937.6,96.2 L937.1,95.6 L936.6,94.9 L936.1,94.2 L935.6,93.5 L935.0,92.7 L934.5,91.9 L933.9,91.1 L933.3,90.3 L932.7,89.4 L932.1,88.6 L931.6,87.8 L931.0,87.0 L930.5,86.2 L929.9,85.4 L929.4,84.7 L928.9,84.0 L928.5,83.4 L928.1,82.8 L927.7,82.3 L927.4,81.8 L927.1,81.4" fill="none" stroke="#000" stroke-width="1.4" stroke-dasharray="4.5,3"/>
<path d="M972.1,498.9 L972.3,497.7 L972.6,496.3 L973.0,494.7 L973.3,493.0 L973.7,491.1 L974.1,489.0 L974.6,486.9 L975.0,484.6 L975.5,482.3 L976.0,479.8 L976.5,477.4 L977.0,474.8 L977.5,472.3 L978.1,469.7 L978.6,467.2 L979.1,464.6 L979.6,462.1 L980.1,459.6 L980.6,457.2 L981.1,454.9 L981.6,452.6 L982.0,450.3 L982.5,448.0 L983.0,445.6 L983.5,443.3 L984.0,440.9 L984.5,438.6 L984.9,436.2 L985.4,433.8 L985.9,431.4 L986.4,429.1 L986.9,426.7 L987.4,424.3 L987.9,421.9 L988.4,419.5 L988.9,417.1 L989.3,414.8 L989.8,412.4 L990.3,410.0 L990.8,407.7 L991.3,405.4 L991.8,403.0 L992.2,400.7 L992.7,398.4 L993.2,396.1 L993.6,393.8 L994.1,391.5 L994.6,389.2 L995.0,386.9 L995.5,384.6 L996.0,382.3 L996.4,380.0 L996.9,377.7 L997.4,375.4 L997.8,373.1 L998.3,370.8 L998.8,368.5 L999.3,366.2 L999.8,363.8 L1000.3,361.5 L1000.8,359.2 L1001.3,356.8 L1001.8,354.5 L1002.4,352.1 L1002.9,349.8 L1003.4,347.4 L1004.0,345.1 L1004.5,342.7 L1005.0,340.4 L1005.6,338.0 L1006.1,335.7 L1006.7,333.3 L1007.2,330.9 L1007.8,328.6 L1008.3,326.2 L1008.9,323.8 L1009.4,321.4 L1009.9,319.1 L1010.5,316.7 L1011.0,314.3 L1011.5,311.9 L1012.1,309.5 L1012.6,307.1 L1013.2,304.7 L1013.7,302.3 L1014.3,299.9 L1014.9,297.5 L1015.4,295.1 L1016.0,292.7 L1016.6,290.3 L1017.1,287.8 L1017.6,285.4 L1018.2,283.0 L1018.7,280.6 L1019.2,278.1 L1019.7,275.7 L1020.2,273.3 L1020.6,270.9 L1021.1,268.4 L1021.5,266.0 L1021.9,263.6 L1022.3,261.1 L1022.6,258.7 L1023.0,256.2 L1023.3,253.8 L1023.6,251.3 L1023.9,248.9 L1024.2,246.4 L1024.5,243.9 L1024.7,241.5 L1025.0,239.0 L1025.3,236.6 L1025.5,234.1 L1025.8,231.7 L1026.0,229.2 L1026.3,226.8 L1026.5,224.4 L1026.8,222.0 L1027.0,219.6 L1027.3,217.2 L1027.6,214.8 L1027.8,212.4 L1028.1,210.1 L1028.4,207.7 L1028.6,205.4 L1028.9,203.0 L1029.1,200.6 L1029.4,198.3 L1029.6,196.0 L1029.9,193.6 L1030.1,191.3 L1030.4,189.0 L1030.6,186.7 L1030.9,184.4 L1031.1,182.1 L1031.4,179.9 L1031.6,177.6 L1031.8,175.3 L1032.1,173.1 L1032.3,170.9 L1032.5,168.7 L1032.8,166.5 L1033.0,164.3 L1033.2,162.2 L1033.4,160.1 L1033.6,157.9 L1033.9,155.8 L1034.1,153.7 L1034.3,151.6 L1034.5,149.5 L1034.7,147.4 L1034.9,145.4 L1035.1,143.3 L1035.3,141.2 L1035.5,139.1 L1035.8,137.1 L1036.0,135.0 L1036.2,132.9 L1036.4,130.9 L1036.6,128.8 L1036.8,126.7 L1037.0,124.5 L1037.3,122.2 L1037.5,119.9 L1037.8,117.5 L1038.0,115.2 L1038.2,112.8 L1038.5,110.4 L1038.7,108.0 L1039.0,105.7 L1039.2,103.5 L1039.4,101.3 L1039.6,99.1 L1039.9,97.1 L1040.0,95.2 L1040.2,93.4 L1040.4,91.8 L1040.6,90.3 L1040.7,89.0 L1040.8,87.9" fill="none" stroke="#000" stroke-width="1.4" stroke-dasharray="4.5,3"/>
<rect x="923.65" y="77.85" width="6.9" height="6.9" fill="#e8202a" stroke="#3a4ea2" stroke-width="2.85"/>
<circle cx="1040.8" cy="87.9" r="3.95" fill="none" stroke="#e8202a" stroke-width="2.8"/>
<rect x="948.45" y="110.55" width="6.9" height="6.9" fill="#e6409a" stroke="#3a4ea2" stroke-width="2.85"/>
<circle cx="1036.6" cy="128.8" r="3.95" fill="none" stroke="#e8202a" stroke-width="2.8"/>
<rect x="959.25" y="151.85" width="6.9" height="6.9" fill="#3a56a8" stroke="#3a4ea2" stroke-width="2.85"/>
<circle cx="1032.3" cy="170.9" r="3.95" fill="none" stroke="#e8202a" stroke-width="2.8"/>
<rect x="958.05" y="202.85" width="6.9" height="6.9" fill="#3475bf" stroke="#3a4ea2" stroke-width="2.85"/>
<circle cx="1027.5" cy="217.4" r="3.95" fill="none" stroke="#e8202a" stroke-width="2.8"/>
<rect x="956.95" y="254.85" width="6.9" height="6.9" fill="#2096d4" stroke="#3a4ea2" stroke-width="2.85"/>
<circle cx="1022.4" cy="266.0" r="3.95" fill="none" stroke="#e8202a" stroke-width="2.8"/>
<rect x="946.95" y="300.35" width="6.9" height="6.9" fill="#18a6c6" stroke="#3a4ea2" stroke-width="2.85"/>
<circle cx="1011.0" cy="314.3" r="3.95" fill="none" stroke="#e8202a" stroke-width="2.8"/>
<rect x="942.75" y="347.35" width="6.9" height="6.9" fill="#34b49e" stroke="#3a4ea2" stroke-width="2.85"/>
<circle cx="1000.2" cy="361.3" r="3.95" fill="none" stroke="#e8202a" stroke-width="2.8"/>
<rect x="938.75" y="392.85" width="6.9" height="6.9" fill="#7cc07a" stroke="#3a4ea2" stroke-width="2.85"/>
<circle cx="986.0" cy="407.4" r="3.95" fill="none" stroke="#e8202a" stroke-width="2.8"/>
<rect x="935.85" y="442.35" width="6.9" height="6.9" fill="#b0bc62" stroke="#3a4ea2" stroke-width="2.85"/>
<circle cx="983.1" cy="454.6" r="3.95" fill="none" stroke="#e8202a" stroke-width="2.8"/>
<rect x="921.25" y="483.05" width="6.9" height="6.9" fill="#ecb848" stroke="#3a4ea2" stroke-width="2.85"/>
<circle cx="972.5" cy="498.7" r="3.95" fill="none" stroke="#e8202a" stroke-width="2.8"/>
<rect x="775.5" y="53.5" width="372.5" height="494.5" fill="none" stroke="#000" stroke-width="3"/>
<path d="M785.8,548 V541.8 M785.8,53.5 V59.7 M837.6,548 V541.8 M837.6,53.5 V59.7 M889.4,548 V541.8 M889.4,53.5 V59.7 M941.1,548 V541.8 M941.1,53.5 V59.7 M992.9,548 V541.8 M992.9,53.5 V59.7 M1044.7,548 V541.8 M1044.7,53.5 V59.7 M1096.5,548 V541.8 M1096.5,53.5 V59.7" stroke="#000" stroke-width="3" fill="none"/>
<g font-size="25" text-anchor="middle">
<text x="785.8" y="582.5">50</text>
<text x="837.6" y="582.5">100</text>
<text x="889.4" y="582.5">150</text>
<text x="941.1" y="582.5">200</text>
<text x="992.9" y="582.5">250</text>
<text x="1044.7" y="582.5">300</text>
<text x="1096.5" y="582.5">350</text>
<text x="1148.3" y="582.5">400</text>
</g>
<g font-size="25" text-anchor="end">
<text x="762.4" y="556.6">0</text>
<text x="762.4" y="466.7">1</text>
<text x="762.4" y="376.7">2</text>
<text x="762.4" y="286.8">3</text>
<text x="762.4" y="196.8">4</text>
<text x="762.4" y="106.9">5</text>
</g>
<text x="963.5" y="624" font-size="25" text-anchor="middle"><tspan font-style="italic">T</tspan><tspan dx="-1.5"> (mK)</tspan></text>
<text transform="translate(723,389.7) rotate(-90)" font-size="25">–d<tspan font-size="17" dy="-12" dx="1">2</tspan><tspan dy="12" dx="2" font-style="italic">R</tspan> /d<tspan font-style="italic">T</tspan><tspan font-size="17" dy="-12" dx="1">2</tspan><tspan dy="12"> (a.u.)</tspan></text>
<text x="908.7" y="529.2" font-size="26" fill="#1f6fba"><tspan font-style="italic">T</tspan><tspan font-size="19.5" dy="8.8" dx="-1">F</tspan></text>
<text x="960.8" y="529.2" font-size="26" fill="#e8202a"><tspan font-style="italic">T</tspan><tspan font-size="19.5" dy="8.8" dx="-1">P</tspan></text>
<defs><clipPath id="cc"><rect x="1306.65" y="53.5" width="620.8999999999999" height="494.5"/></clipPath><clipPath id="cc2"><rect x="1300" y="0" width="629" height="633"/></clipPath></defs>
<g clip-path="url(#cc)">
<rect x="1306.65" y="53.5" width="620.8999999999999" height="494.5" fill="#c1e3d2"/>
<path d="M1299.9,117.6 L1301.4,118.1 L1303.0,118.7 L1304.5,119.2 L1306.1,119.7 L1307.6,120.3 L1309.1,120.8 L1310.7,121.3 L1312.2,121.8 L1313.7,122.4 L1315.3,122.9 L1316.8,123.4 L1318.4,123.9 L1319.9,124.4 L1321.4,124.9 L1323.0,125.4 L1324.5,125.9 L1326.1,126.4 L1327.6,126.9 L1329.2,127.3 L1330.7,127.8 L1332.2,128.3 L1333.8,128.8 L1335.3,129.3 L1336.9,129.7 L1338.4,130.2 L1340.0,130.7 L1341.5,131.1 L1343.1,131.6 L1344.6,132.1 L1346.2,132.5 L1347.7,133.0 L1349.3,133.4 L1350.9,133.9 L1352.4,134.3 L1354.0,134.8 L1355.5,135.2 L1357.1,135.6 L1358.6,136.1 L1360.2,136.5 L1361.8,136.9 L1363.3,137.4 L1364.9,137.8 L1366.4,138.2 L1368.0,138.6 L1369.6,139.1 L1371.1,139.5 L1372.7,139.9 L1374.2,140.3 L1375.8,140.7 L1377.4,141.1 L1378.9,141.5 L1380.5,141.9 L1382.1,142.3 L1383.6,142.7 L1385.2,143.1 L1386.8,143.5 L1388.3,143.9 L1389.9,144.3 L1391.5,144.7 L1393.0,145.1 L1394.6,145.4 L1396.2,145.8 L1397.8,146.2 L1399.3,146.6 L1400.9,146.9 L1402.5,147.3 L1404.0,147.7 L1405.6,148.1 L1407.2,148.4 L1408.8,148.8 L1410.3,149.1 L1411.9,149.5 L1413.5,149.9 L1415.1,150.2 L1416.6,150.6 L1418.2,150.9 L1419.8,151.3 L1421.4,151.6 L1423.0,152.0 L1424.5,152.3 L1426.1,152.7 L1427.7,153.0 L1429.3,153.3 L1430.9,153.7 L1432.4,154.0 L1434.0,154.3 L1435.6,154.7 L1437.2,155.0 L1438.8,155.3 L1440.3,155.7 L1441.9,156.0 L1443.5,156.3 L1445.1,156.6 L1446.7,157.0 L1448.3,157.3 L1449.9,157.6 L1451.4,157.9 L1453.0,158.2 L1454.6,158.6 L1456.2,158.9 L1457.8,159.2 L1459.4,159.5 L1461.0,159.8 L1462.5,160.1 L1464.1,160.4 L1465.7,160.7 L1467.3,161.0 L1468.9,161.3 L1470.5,161.6 L1472.1,161.9 L1473.7,162.2 L1475.3,162.5 L1476.8,162.8 L1478.4,163.1 L1480.0,163.4 L1481.6,163.7 L1483.2,164.0 L1484.8,164.3 L1486.4,164.6 L1488.0,164.8 L1489.6,165.1 L1491.2,165.4 L1492.8,165.7 L1494.4,166.0 L1495.9,166.3 L1497.5,166.5 L1499.1,166.8 L1500.7,167.1 L1502.3,167.4 L1503.9,167.7 L1505.5,167.9 L1507.1,168.2 L1508.7,168.5 L1510.3,168.8 L1511.9,169.0 L1513.5,169.3 L1515.1,169.6 L1516.7,169.8 L1518.3,170.1 L1519.9,170.4 L1521.5,170.7 L1523.1,170.9 L1524.7,171.2 L1526.3,171.5 L1527.9,171.7 L1529.5,172.0 L1531.0,172.2 L1532.6,172.5 L1534.2,172.8 L1535.8,173.0 L1537.4,173.3 L1539.0,173.6 L1540.6,173.8 L1542.2,174.1 L1543.8,174.3 L1545.4,174.6 L1547.0,174.9 L1548.6,175.1 L1550.2,175.4 L1551.8,175.6 L1553.4,175.9 L1555.0,176.1 L1556.6,176.4 L1558.2,176.7 L1559.8,176.9 L1561.4,177.2 L1563.0,177.4 L1564.6,177.7 L1566.2,177.9 L1567.8,178.2 L1569.4,178.4 L1571.0,178.7 L1572.6,178.9 L1574.2,179.2 L1575.8,179.4 L1577.4,179.7 L1579.0,179.9 L1580.6,180.2 L1582.2,180.4 L1583.8,180.7 L1585.4,180.9 L1587.0,181.2 L1588.6,181.4 L1590.2,181.7 L1591.8,181.9 L1593.4,182.2 L1595.0,182.4 L1596.6,182.7 L1598.2,182.9 L1599.8,183.2 L1601.4,183.4 L1603.0,183.7 L1604.6,183.9 L1606.2,184.1 L1607.8,184.4 L1609.4,184.6 L1611.0,184.9 L1612.6,185.1 L1614.2,185.4 L1615.8,185.6 L1617.4,185.9 L1619.0,186.1 L1620.6,186.3 L1622.2,186.6 L1623.8,186.8 L1625.4,187.1 L1627.0,187.3 L1628.6,187.5 L1630.2,187.8 L1631.8,188.0 L1633.4,188.3 L1635.0,188.5 L1636.6,188.7 L1638.2,189.0 L1639.8,189.2 L1641.4,189.4 L1643.0,189.7 L1644.6,189.9 L1646.2,190.2 L1647.8,190.4 L1649.4,190.6 L1651.0,190.9 L1652.6,191.1 L1654.3,191.3 L1655.9,191.6 L1657.5,191.8 L1659.1,192.0 L1660.7,192.3 L1662.3,192.5 L1663.9,192.7 L1665.5,193.0 L1667.1,193.2 L1668.7,193.4 L1670.3,193.7 L1671.9,193.9 L1673.5,194.1 L1675.1,194.4 L1676.7,194.6 L1678.3,194.8 L1679.9,195.1 L1681.5,195.3 L1683.1,195.5 L1684.7,195.8 L1686.3,196.0 L1687.9,196.2 L1689.5,196.4 L1691.1,196.7 L1692.7,196.9 L1694.3,197.1 L1695.9,197.4 L1697.5,197.6 L1699.1,197.8 L1700.7,198.0 L1702.3,198.3 L1703.9,198.5 L1705.5,198.7 L1707.1,198.9 L1708.7,199.2 L1710.3,199.4 L1712.0,199.6 L1713.6,199.8 L1715.2,200.1 L1716.8,200.3 L1718.4,200.5 L1720.0,200.7 L1721.6,201.0 L1723.2,201.2 L1724.8,201.4 L1726.4,201.6 L1728.0,201.9 L1729.6,202.1 L1731.2,202.3 L1732.8,202.5 L1734.4,202.7 L1736.0,203.0 L1737.6,203.2 L1739.2,203.4 L1740.8,203.6 L1742.4,203.9 L1744.0,204.1 L1745.6,204.3 L1747.2,204.5 L1748.8,204.7 L1750.4,205.0 L1752.0,205.2 L1753.6,205.4 L1755.2,205.6 L1756.9,205.8 L1758.5,206.1 L1760.1,206.3 L1761.7,206.5 L1763.3,206.7 L1764.9,206.9 L1766.5,207.1 L1768.1,207.4 L1769.7,207.6 L1771.3,207.8 L1772.9,208.0 L1774.5,208.2 L1776.1,208.5 L1777.7,208.7 L1779.3,208.9 L1780.9,209.1 L1782.5,209.3 L1784.1,209.5 L1785.7,209.7 L1787.3,210.0 L1788.9,210.2 L1790.5,210.4 L1792.1,210.6 L1793.7,210.8 L1795.3,211.0 L1797.0,211.3 L1798.6,211.5 L1800.2,211.7 L1801.8,211.9 L1803.4,212.1 L1805.0,212.3 L1806.6,212.5 L1808.2,212.8 L1809.8,213.0 L1811.4,213.2 L1813.0,213.4 L1814.6,213.6 L1816.2,213.8 L1817.8,214.0 L1819.4,214.2 L1821.0,214.5 L1822.6,214.7 L1824.2,214.9 L1825.8,215.1 L1827.4,215.3 L1829.0,215.5 L1830.6,215.7 L1832.2,215.9 L1833.8,216.1 L1835.4,216.4 L1837.1,216.6 L1838.7,216.8 L1840.3,217.0 L1841.9,217.2 L1843.5,217.4 L1845.1,217.6 L1846.7,217.8 L1848.3,218.0 L1849.9,218.3 L1851.5,218.5 L1853.1,218.7 L1854.7,218.9 L1856.3,219.1 L1857.9,219.3 L1859.5,219.5 L1861.1,219.7 L1862.7,219.9 L1864.3,220.1 L1865.9,220.3 L1867.5,220.6 L1869.1,220.8 L1870.7,221.0 L1872.3,221.2 L1873.9,221.4 L1875.5,221.6 L1877.1,221.8 L1878.7,222.0 L1880.4,222.2 L1882.0,222.4 L1883.6,222.6 L1885.2,222.9 L1886.8,223.1 L1888.4,223.3 L1890.0,223.5 L1891.6,223.7 L1893.2,223.9 L1894.8,224.1 L1896.4,224.3 L1898.0,224.5 L1899.6,224.7 L1901.2,224.9 L1902.8,225.1 L1904.4,225.3 L1906.0,225.5 L1907.6,225.8 L1909.2,226.0 L1910.8,226.2 L1912.4,226.4 L1914.0,226.6 L1915.6,226.8 L1917.2,227.0 L1918.8,227.2 L1920.4,227.4 L1922.0,227.6 L1923.6,227.8 L1925.2,228.0 L1926.8,228.2 L1928.4,228.4 L1930.0,228.6 L1931.7,228.9 L1933.3,229.1 L1934.9,229.3 L1935,550 L1300,550 Z" fill="#c0e4e1"/>
<path d="M1300.1,317.9 L1301.2,316.7 L1302.3,315.5 L1303.4,314.2 L1304.5,313.0 L1305.6,311.8 L1306.7,310.5 L1307.8,309.3 L1308.9,308.0 L1310.0,306.8 L1311.1,305.5 L1312.1,304.3 L1313.2,303.0 L1314.3,301.8 L1315.5,300.5 L1316.6,299.3 L1317.7,298.0 L1318.8,296.7 L1319.9,295.5 L1321.0,294.2 L1322.1,293.0 L1323.3,291.7 L1324.4,290.5 L1325.5,289.2 L1326.7,288.0 L1327.8,286.7 L1329.0,285.5 L1330.1,284.3 L1331.3,283.0 L1332.4,281.8 L1333.6,280.6 L1334.8,279.4 L1336.0,278.2 L1337.2,276.9 L1338.4,275.7 L1339.6,274.5 L1340.8,273.4 L1342.0,272.2 L1343.3,271.0 L1344.5,269.8 L1345.8,268.7 L1347.0,267.5 L1348.3,266.4 L1349.6,265.2 L1350.8,264.1 L1352.1,263.0 L1353.4,261.9 L1354.8,260.8 L1356.1,259.7 L1357.4,258.6 L1358.8,257.6 L1360.1,256.5 L1361.5,255.5 L1362.8,254.5 L1364.2,253.5 L1365.6,252.5 L1367.0,251.5 L1368.4,250.6 L1369.9,249.6 L1371.3,248.7 L1372.7,247.8 L1374.2,247.0 L1375.6,246.1 L1377.1,245.3 L1378.6,244.5 L1380.1,243.7 L1381.6,242.9 L1383.1,242.2 L1384.6,241.5 L1386.1,240.8 L1387.6,240.2 L1389.2,239.6 L1390.7,239.0 L1392.3,238.4 L1393.9,237.9 L1395.4,237.4 L1397.0,237.0 L1398.6,236.6 L1400.2,236.2 L1401.8,235.8 L1403.4,235.5 L1405.0,235.2 L1406.7,235.0 L1408.3,234.7 L1410.0,234.5 L1411.6,234.4 L1413.3,234.2 L1414.9,234.1 L1416.6,234.0 L1418.2,233.9 L1419.9,233.8 L1421.6,233.8 L1423.3,233.8 L1424.9,233.7 L1426.6,233.7 L1428.3,233.7 L1430.0,233.7 L1431.7,233.7 L1433.4,233.7 L1435.0,233.8 L1436.7,233.8 L1438.4,233.8 L1440.1,233.8 L1441.8,233.8 L1443.4,233.8 L1445.1,233.9 L1446.8,233.9 L1448.5,233.9 L1450.2,234.0 L1451.9,234.0 L1453.5,234.0 L1455.2,234.1 L1456.9,234.1 L1458.6,234.2 L1460.3,234.2 L1461.9,234.3 L1463.6,234.3 L1465.3,234.4 L1467.0,234.4 L1468.7,234.5 L1470.3,234.6 L1472.0,234.6 L1473.7,234.7 L1475.4,234.7 L1477.1,234.8 L1478.7,234.9 L1480.4,235.0 L1482.1,235.0 L1483.8,235.1 L1485.4,235.2 L1487.1,235.3 L1488.8,235.4 L1490.5,235.5 L1492.2,235.5 L1493.8,235.6 L1495.5,235.7 L1497.2,235.8 L1498.9,235.9 L1500.5,236.0 L1502.2,236.1 L1503.9,236.2 L1505.6,236.3 L1507.3,236.4 L1508.9,236.5 L1510.6,236.7 L1512.3,236.8 L1514.0,236.9 L1515.6,237.0 L1517.3,237.1 L1519.0,237.2 L1520.7,237.4 L1522.3,237.5 L1524.0,237.6 L1525.7,237.7 L1527.4,237.9 L1529.0,238.0 L1530.7,238.1 L1532.4,238.3 L1534.1,238.4 L1535.7,238.5 L1537.4,238.7 L1539.1,238.8 L1540.7,239.0 L1542.4,239.1 L1544.1,239.3 L1545.8,239.4 L1547.4,239.6 L1549.1,239.7 L1550.8,239.9 L1552.5,240.0 L1554.1,240.2 L1555.8,240.3 L1557.5,240.5 L1559.1,240.7 L1560.8,240.8 L1562.5,241.0 L1564.2,241.1 L1565.8,241.3 L1567.5,241.5 L1569.2,241.7 L1570.8,241.8 L1572.5,242.0 L1574.2,242.2 L1575.9,242.4 L1577.5,242.5 L1579.2,242.7 L1580.9,242.9 L1582.5,243.1 L1584.2,243.3 L1585.9,243.4 L1587.6,243.6 L1589.2,243.8 L1590.9,244.0 L1592.6,244.2 L1594.2,244.4 L1595.9,244.6 L1597.6,244.8 L1599.2,245.0 L1600.9,245.2 L1602.6,245.4 L1604.2,245.6 L1605.9,245.8 L1607.6,246.0 L1609.3,246.2 L1610.9,246.4 L1612.6,246.6 L1614.3,246.8 L1615.9,247.0 L1617.6,247.2 L1619.3,247.4 L1620.9,247.7 L1622.6,247.9 L1624.3,248.1 L1625.9,248.3 L1627.6,248.5 L1629.3,248.7 L1630.9,249.0 L1632.6,249.2 L1634.3,249.4 L1635.9,249.6 L1637.6,249.8 L1639.3,250.1 L1640.9,250.3 L1642.6,250.5 L1644.3,250.7 L1645.9,251.0 L1647.6,251.2 L1649.3,251.4 L1650.9,251.7 L1652.6,251.9 L1654.3,252.1 L1655.9,252.4 L1657.6,252.6 L1659.3,252.8 L1660.9,253.1 L1662.6,253.3 L1664.3,253.6 L1665.9,253.8 L1667.6,254.0 L1669.3,254.3 L1670.9,254.5 L1672.6,254.8 L1674.2,255.0 L1675.9,255.3 L1677.6,255.5 L1679.2,255.7 L1680.9,256.0 L1682.6,256.2 L1684.2,256.5 L1685.9,256.7 L1687.6,257.0 L1689.2,257.2 L1690.9,257.5 L1692.6,257.7 L1694.2,258.0 L1695.9,258.2 L1697.5,258.5 L1699.2,258.8 L1700.9,259.0 L1702.5,259.3 L1704.2,259.5 L1705.9,259.8 L1707.5,260.0 L1709.2,260.3 L1710.9,260.6 L1712.5,260.8 L1714.2,261.1 L1715.8,261.3 L1717.5,261.6 L1719.2,261.9 L1720.8,262.1 L1722.5,262.4 L1724.2,262.6 L1725.8,262.9 L1727.5,263.2 L1729.1,263.4 L1730.8,263.7 L1732.5,264.0 L1734.1,264.2 L1735.8,264.5 L1737.5,264.8 L1739.1,265.0 L1740.8,265.3 L1742.4,265.5 L1744.1,265.8 L1745.8,266.1 L1747.4,266.3 L1749.1,266.6 L1750.7,266.9 L1752.4,267.2 L1754.1,267.4 L1755.7,267.7 L1757.4,268.0 L1759.1,268.2 L1760.7,268.5 L1762.4,268.8 L1764.0,269.0 L1765.7,269.3 L1767.4,269.6 L1769.0,269.8 L1770.7,270.1 L1772.3,270.4 L1774.0,270.7 L1775.7,270.9 L1777.3,271.2 L1779.0,271.5 L1780.7,271.7 L1782.3,272.0 L1784.0,272.3 L1785.6,272.5 L1787.3,272.8 L1789.0,273.1 L1790.6,273.4 L1792.3,273.6 L1793.9,273.9 L1795.6,274.2 L1797.3,274.4 L1798.9,274.7 L1800.6,275.0 L1802.2,275.3 L1803.9,275.5 L1805.6,275.8 L1807.2,276.1 L1808.9,276.3 L1810.5,276.6 L1812.2,276.9 L1813.9,277.1 L1815.5,277.4 L1817.2,277.7 L1818.8,277.9 L1820.5,278.2 L1822.2,278.5 L1823.8,278.7 L1825.5,279.0 L1827.1,279.3 L1828.8,279.5 L1830.5,279.8 L1832.1,280.1 L1833.8,280.3 L1835.4,280.6 L1837.1,280.9 L1838.8,281.1 L1840.4,281.4 L1842.1,281.7 L1843.7,281.9 L1845.4,282.2 L1847.0,282.5 L1848.7,282.7 L1850.4,283.0 L1852.0,283.2 L1853.7,283.5 L1855.3,283.8 L1857.0,284.0 L1858.7,284.3 L1860.3,284.5 L1862.0,284.8 L1863.6,285.1 L1865.3,285.3 L1867.0,285.6 L1868.6,285.8 L1870.3,286.1 L1871.9,286.3 L1873.6,286.6 L1875.3,286.8 L1876.9,287.1 L1878.6,287.4 L1880.2,287.6 L1881.9,287.9 L1883.6,288.1 L1885.2,288.4 L1886.9,288.6 L1888.5,288.9 L1890.2,289.1 L1891.8,289.4 L1893.5,289.6 L1895.2,289.8 L1896.8,290.1 L1898.5,290.3 L1900.1,290.6 L1901.8,290.8 L1903.5,291.1 L1905.1,291.3 L1906.8,291.5 L1908.4,291.8 L1910.1,292.0 L1911.8,292.3 L1913.4,292.5 L1915.1,292.7 L1916.7,293.0 L1918.4,293.2 L1920.1,293.4 L1921.7,293.7 L1923.4,293.9 L1925.0,294.1 L1926.7,294.3 L1928.3,294.6 L1930.0,294.8 L1931.7,295.0 L1933.3,295.3 L1935.0,295.5 L1935,550 L1300,550 Z" fill="#d5d1e8"/>
<path d="M1326.2,549.0 L1326.3,547.1 L1326.4,545.2 L1326.5,543.4 L1326.6,541.6 L1326.7,539.7 L1326.8,537.9 L1326.9,536.1 L1327.0,534.2 L1327.1,532.4 L1327.2,530.6 L1327.4,528.8 L1327.5,527.0 L1327.6,525.2 L1327.8,523.3 L1327.9,521.5 L1328.1,519.7 L1328.2,517.9 L1328.4,516.1 L1328.5,514.3 L1328.7,512.6 L1328.9,510.8 L1329.0,509.0 L1329.2,507.2 L1329.4,505.4 L1329.5,503.6 L1329.7,501.8 L1329.9,500.0 L1330.1,498.2 L1330.2,496.4 L1330.4,494.6 L1330.6,492.9 L1330.8,491.1 L1331.0,489.3 L1331.1,487.5 L1331.3,485.7 L1331.5,483.9 L1331.7,482.1 L1331.9,480.3 L1332.0,478.5 L1332.2,476.7 L1332.4,474.8 L1332.6,473.0 L1332.7,471.2 L1332.9,469.4 L1333.1,467.6 L1333.3,465.7 L1333.4,463.9 L1333.6,462.1 L1333.7,460.2 L1333.9,458.4 L1334.1,456.5 L1334.2,454.7 L1334.4,452.8 L1334.5,451.0 L1334.7,449.1 L1334.9,447.3 L1335.1,445.4 L1335.2,443.6 L1335.4,441.7 L1335.6,439.8 L1335.8,438.0 L1336.0,436.1 L1336.2,434.3 L1336.4,432.4 L1336.7,430.6 L1336.9,428.7 L1337.1,426.9 L1337.4,425.0 L1337.7,423.2 L1337.9,421.3 L1338.2,419.5 L1338.5,417.6 L1338.8,415.8 L1339.2,414.0 L1339.5,412.2 L1339.9,410.3 L1340.3,408.5 L1340.6,406.7 L1341.1,404.9 L1341.5,403.1 L1341.9,401.3 L1342.4,399.5 L1342.9,397.7 L1343.4,396.0 L1343.9,394.2 L1344.4,392.4 L1345.0,390.7 L1345.6,388.9 L1346.2,387.2 L1346.8,385.5 L1347.5,383.8 L1348.2,382.0 L1348.9,380.4 L1349.6,378.7 L1350.3,377.0 L1351.1,375.4 L1351.9,373.7 L1352.7,372.1 L1353.6,370.5 L1354.4,368.9 L1355.3,367.4 L1356.2,365.8 L1357.1,364.3 L1358.1,362.8 L1359.1,361.3 L1360.1,359.8 L1361.1,358.4 L1362.2,357.0 L1363.3,355.6 L1364.4,354.2 L1365.5,352.9 L1366.6,351.6 L1367.8,350.3 L1369.0,349.0 L1370.3,347.8 L1371.5,346.6 L1372.8,345.4 L1374.1,344.3 L1375.4,343.2 L1376.8,342.1 L1378.2,341.1 L1379.6,340.1 L1381.0,339.1 L1382.5,338.2 L1384.0,337.3 L1385.5,336.5 L1387.1,335.7 L1388.6,334.9 L1390.2,334.1 L1391.8,333.4 L1393.5,332.7 L1395.1,332.1 L1396.8,331.5 L1398.5,330.9 L1400.2,330.3 L1401.9,329.8 L1403.7,329.3 L1405.4,328.8 L1407.2,328.4 L1409.0,327.9 L1410.8,327.5 L1412.6,327.1 L1414.4,326.8 L1416.2,326.4 L1418.1,326.1 L1419.9,325.8 L1421.7,325.5 L1423.6,325.2 L1425.4,325.0 L1427.3,324.7 L1429.1,324.5 L1431.0,324.3 L1432.8,324.1 L1434.7,323.9 L1436.5,323.7 L1438.4,323.5 L1440.2,323.4 L1442.1,323.3 L1443.9,323.1 L1445.8,323.0 L1447.7,322.9 L1449.5,322.8 L1451.4,322.8 L1453.2,322.7 L1455.1,322.7 L1456.9,322.6 L1458.8,322.6 L1460.6,322.6 L1462.5,322.6 L1464.3,322.6 L1466.2,322.7 L1468.0,322.7 L1469.9,322.8 L1471.7,322.8 L1473.6,322.9 L1475.4,323.0 L1477.3,323.1 L1479.1,323.3 L1481.0,323.4 L1482.8,323.5 L1484.7,323.7 L1486.5,323.9 L1488.3,324.0 L1490.2,324.2 L1492.0,324.4 L1493.8,324.7 L1495.7,324.9 L1497.5,325.1 L1499.3,325.4 L1501.1,325.7 L1502.9,325.9 L1504.8,326.2 L1506.6,326.5 L1508.4,326.8 L1510.2,327.2 L1512.0,327.5 L1513.8,327.8 L1515.6,328.2 L1517.4,328.6 L1519.2,329.0 L1521.0,329.4 L1522.8,329.8 L1524.5,330.2 L1526.3,330.6 L1528.1,331.1 L1529.9,331.5 L1531.6,332.0 L1533.4,332.4 L1535.2,332.9 L1536.9,333.4 L1538.7,333.9 L1540.4,334.4 L1542.2,335.0 L1543.9,335.5 L1545.6,336.1 L1547.4,336.6 L1549.1,337.2 L1550.8,337.8 L1552.5,338.4 L1554.2,339.0 L1555.9,339.6 L1557.6,340.2 L1559.3,340.8 L1561.0,341.5 L1562.7,342.1 L1564.4,342.8 L1566.1,343.5 L1567.7,344.2 L1569.4,344.9 L1571.1,345.6 L1572.7,346.3 L1574.4,347.0 L1576.0,347.7 L1577.7,348.5 L1579.3,349.2 L1581.0,350.0 L1582.6,350.7 L1584.2,351.5 L1585.9,352.3 L1587.5,353.1 L1589.1,353.9 L1590.7,354.7 L1592.3,355.5 L1593.9,356.4 L1595.5,357.2 L1597.1,358.1 L1598.7,358.9 L1600.3,359.8 L1601.9,360.7 L1603.4,361.5 L1605.0,362.4 L1606.6,363.3 L1608.2,364.2 L1609.7,365.1 L1611.3,366.0 L1612.8,367.0 L1614.4,367.9 L1615.9,368.8 L1617.5,369.8 L1619.0,370.7 L1620.6,371.7 L1622.1,372.7 L1623.6,373.6 L1625.1,374.6 L1626.7,375.6 L1628.2,376.6 L1629.7,377.6 L1631.2,378.6 L1632.7,379.6 L1634.2,380.6 L1635.7,381.7 L1637.2,382.7 L1638.7,383.7 L1640.2,384.8 L1641.7,385.8 L1643.2,386.9 L1644.7,387.9 L1646.2,389.0 L1647.6,390.1 L1649.1,391.1 L1650.6,392.2 L1652.0,393.3 L1653.5,394.4 L1655.0,395.5 L1656.4,396.6 L1657.9,397.7 L1659.3,398.8 L1660.8,399.9 L1662.2,401.1 L1663.7,402.2 L1665.1,403.3 L1666.5,404.4 L1668.0,405.6 L1669.4,406.7 L1670.8,407.9 L1672.3,409.0 L1673.7,410.2 L1675.1,411.3 L1676.5,412.5 L1677.9,413.7 L1679.3,414.9 L1680.7,416.0 L1682.1,417.2 L1683.5,418.4 L1684.9,419.6 L1686.3,420.8 L1687.7,422.0 L1689.1,423.2 L1690.5,424.4 L1691.9,425.6 L1693.2,426.8 L1694.6,428.1 L1696.0,429.3 L1697.3,430.5 L1698.7,431.7 L1700.1,433.0 L1701.4,434.2 L1702.8,435.5 L1704.1,436.7 L1705.5,438.0 L1706.8,439.2 L1708.2,440.5 L1709.5,441.7 L1710.8,443.0 L1712.2,444.2 L1713.5,445.5 L1714.8,446.8 L1716.1,448.1 L1717.5,449.3 L1718.8,450.6 L1720.1,451.9 L1721.4,453.2 L1722.7,454.5 L1724.0,455.8 L1725.3,457.1 L1726.6,458.4 L1727.9,459.7 L1729.2,461.0 L1730.4,462.3 L1731.7,463.6 L1733.0,464.9 L1734.3,466.2 L1735.5,467.6 L1736.8,468.9 L1738.1,470.2 L1739.3,471.5 L1740.6,472.9 L1741.8,474.2 L1743.1,475.5 L1744.3,476.9 L1745.6,478.2 L1746.8,479.6 L1748.0,480.9 L1749.3,482.2 L1750.5,483.6 L1751.7,484.9 L1752.9,486.3 L1754.2,487.6 L1755.4,489.0 L1756.6,490.4 L1757.8,491.7 L1759.0,493.1 L1760.2,494.4 L1761.4,495.8 L1762.6,497.2 L1763.8,498.5 L1765.0,499.9 L1766.1,501.3 L1767.3,502.7 L1768.5,504.0 L1769.6,505.4 L1770.8,506.8 L1771.9,508.2 L1773.0,509.6 L1774.1,511.1 L1775.2,512.5 L1776.3,513.9 L1777.4,515.4 L1778.5,516.8 L1779.5,518.3 L1780.6,519.8 L1781.6,521.2 L1782.6,522.7 L1783.6,524.3 L1784.5,525.8 L1785.5,527.3 L1786.4,528.9 L1787.3,530.4 L1788.2,532.0 L1789.1,533.6 L1789.9,535.2 L1790.7,536.9 L1791.5,538.5 L1792.3,540.2 L1793.0,541.9 L1793.8,543.6 L1794.5,545.3 L1795.1,547.1 L1795.8,548.9 Z" fill="#bbb7dd"/>
</g>
<rect x="1306.65" y="53.5" width="620.8999999999999" height="494.5" fill="none" stroke="#000" stroke-width="2.8"/>
<path d="M1351.0,548 V542 M1351.0,53.5 V59.5 M1439.7,548 V542 M1439.7,53.5 V59.5 M1528.4,548 V542 M1528.4,53.5 V59.5 M1617.1,548 V542 M1617.1,53.5 V59.5 M1705.8,548 V542 M1705.8,53.5 V59.5 M1794.5,548 V542 M1794.5,53.5 V59.5 M1883.2,548 V542 M1883.2,53.5 V59.5 M1306.65,477.4 H1312.65 M1927.55,477.4 H1921.55 M1306.65,406.7 H1312.65 M1927.55,406.7 H1921.55 M1306.65,336.1 H1312.65 M1927.55,336.1 H1921.55 M1306.65,265.4 H1312.65 M1927.55,265.4 H1921.55 M1306.65,194.8 H1312.65 M1927.55,194.8 H1921.55 M1306.65,124.1 H1312.65 M1927.55,124.1 H1921.55" stroke="#000" stroke-width="2.8" fill="none"/>
<path d="M1324.4,271.1 V299.3 M1317.1,271.1 H1331.6 M1317.1,299.3 H1331.6" stroke="#1f6fba" stroke-width="2.5" fill="none"/>
<path d="M1359.9,236.9 V265.4 M1352.6,236.9 H1367.1 M1352.6,265.4 H1367.1" stroke="#1f6fba" stroke-width="2.5" fill="none"/>
<path d="M1395.4,223.3 V251.0 M1388.1,223.3 H1402.6 M1388.1,251.0 H1402.6" stroke="#1f6fba" stroke-width="2.5" fill="none"/>
<path d="M1461.9,221.8 V249.9 M1454.6,221.8 H1469.1 M1454.6,249.9 H1469.1" stroke="#1f6fba" stroke-width="2.5" fill="none"/>
<path d="M1528.4,225.4 V254.1 M1521.2,225.4 H1535.7 M1521.2,254.1 H1535.7" stroke="#1f6fba" stroke-width="2.5" fill="none"/>
<path d="M1594.9,231.2 V273.9 M1587.7,231.2 H1602.2 M1587.7,273.9 H1602.2" stroke="#1f6fba" stroke-width="2.5" fill="none"/>
<path d="M1661.5,235.8 V278.1 M1654.2,235.8 H1668.7 M1654.2,278.1 H1668.7" stroke="#1f6fba" stroke-width="2.5" fill="none"/>
<path d="M1728.0,233.5 V291.0 M1720.7,233.5 H1735.2 M1720.7,291.0 H1735.2" stroke="#1f6fba" stroke-width="2.5" fill="none"/>
<path d="M1794.5,241.6 V297.6 M1787.2,241.6 H1801.8 M1787.2,297.6 H1801.8" stroke="#1f6fba" stroke-width="2.5" fill="none"/>
<path d="M1927.6,261.5 V317.6" stroke="#1f6fba" stroke-width="2.5" fill="none"/><path d="M1920.3,261.5 H1934.8 M1920.3,317.6 H1934.8" stroke="#1f6fba" stroke-width="2.5" fill="none" clip-path="url(#cc2)"/>
<path d="M1324.4,90.9 V161.9 M1317.1,90.9 H1331.6 M1317.1,161.9 H1331.6" stroke="#e8202a" stroke-width="2.5" fill="none"/>
<path d="M1359.9,105.8 V161.9 M1352.6,105.8 H1367.1 M1352.6,161.9 H1367.1" stroke="#e8202a" stroke-width="2.5" fill="none"/>
<path d="M1395.4,122.0 V164.6 M1388.1,122.0 H1402.6 M1388.1,164.6 H1402.6" stroke="#e8202a" stroke-width="2.5" fill="none"/>
<path d="M1461.9,126.7 V169.4 M1454.6,126.7 H1469.1 M1454.6,169.4 H1469.1" stroke="#e8202a" stroke-width="2.5" fill="none"/>
<path d="M1528.4,133.5 V175.9 M1521.2,133.5 H1535.7 M1521.2,175.9 H1535.7" stroke="#e8202a" stroke-width="2.5" fill="none"/>
<path d="M1594.9,142.1 V198.6 M1587.7,142.1 H1602.2 M1587.7,198.6 H1602.2" stroke="#e8202a" stroke-width="2.5" fill="none"/>
<path d="M1661.5,149.6 V220.2 M1654.2,149.6 H1668.7 M1654.2,220.2 H1668.7" stroke="#e8202a" stroke-width="2.5" fill="none"/>
<path d="M1728.0,166.4 V236.6 M1720.7,166.4 H1735.2 M1720.7,236.6 H1735.2" stroke="#e8202a" stroke-width="2.5" fill="none"/>
<path d="M1794.5,173.9 V244.7 M1787.2,173.9 H1801.8 M1787.2,244.7 H1801.8" stroke="#e8202a" stroke-width="2.5" fill="none"/>
<path d="M1927.6,180.4 V265.3" stroke="#e8202a" stroke-width="2.5" fill="none"/><path d="M1920.3,180.4 H1934.8 M1920.3,265.3 H1934.8" stroke="#e8202a" stroke-width="2.5" fill="none" clip-path="url(#cc2)"/>
<rect x="1320.6" y="281.3" width="7.6" height="7.6" fill="none" stroke="#1f6fba" stroke-width="2.5"/>
<rect x="1356.1" y="248.3" width="7.6" height="7.6" fill="none" stroke="#1f6fba" stroke-width="2.5"/>
<rect x="1391.6" y="233.9" width="7.6" height="7.6" fill="none" stroke="#1f6fba" stroke-width="2.5"/>
<rect x="1458.1" y="232.0" width="7.6" height="7.6" fill="none" stroke="#1f6fba" stroke-width="2.5"/>
<rect x="1524.6" y="235.8" width="7.6" height="7.6" fill="none" stroke="#1f6fba" stroke-width="2.5"/>
<rect x="1591.1" y="249.8" width="7.6" height="7.6" fill="none" stroke="#1f6fba" stroke-width="2.5"/>
<rect x="1657.7" y="253.2" width="7.6" height="7.6" fill="none" stroke="#1f6fba" stroke-width="2.5"/>
<rect x="1724.2" y="258.9" width="7.6" height="7.6" fill="none" stroke="#1f6fba" stroke-width="2.5"/>
<rect x="1790.7" y="265.4" width="7.6" height="7.6" fill="none" stroke="#1f6fba" stroke-width="2.5"/>
<rect x="1923.8" y="286.4" width="7.6" height="7.6" fill="none" stroke="#1f6fba" stroke-width="2.5"/>
<circle cx="1324.4" cy="127.7" r="4.4" fill="none" stroke="#e8202a" stroke-width="2.5"/>
<circle cx="1359.9" cy="134.6" r="4.4" fill="none" stroke="#e8202a" stroke-width="2.5"/>
<circle cx="1395.4" cy="142.9" r="4.4" fill="none" stroke="#e8202a" stroke-width="2.5"/>
<circle cx="1461.9" cy="148.6" r="4.4" fill="none" stroke="#e8202a" stroke-width="2.5"/>
<circle cx="1528.4" cy="155.4" r="4.4" fill="none" stroke="#e8202a" stroke-width="2.5"/>
<circle cx="1594.9" cy="171.3" r="4.4" fill="none" stroke="#e8202a" stroke-width="2.5"/>
<circle cx="1661.5" cy="184.9" r="4.4" fill="none" stroke="#e8202a" stroke-width="2.5"/>
<circle cx="1728.0" cy="201.3" r="4.4" fill="none" stroke="#e8202a" stroke-width="2.5"/>
<circle cx="1794.5" cy="207.9" r="4.4" fill="none" stroke="#e8202a" stroke-width="2.5"/>
<circle cx="1927.6" cy="223.7" r="4.4" fill="none" stroke="#e8202a" stroke-width="2.5"/>
<path d="M1359.9,355.9 V368.6 M1352.6,355.9 H1367.1 M1352.6,368.6 H1367.1" stroke="#3c52a4" stroke-width="2.5" fill="none"/>
<path d="M1359.9,356.7 L1365.1,365.5 L1354.7,365.5 Z" fill="none" stroke="#3c52a4" stroke-width="2.5" stroke-linejoin="miter"/>
<path d="M1395.4,324.1 V337.5 M1388.1,324.1 H1402.6 M1388.1,337.5 H1402.6" stroke="#3c52a4" stroke-width="2.5" fill="none"/>
<path d="M1395.4,325.6 L1400.6,334.4 L1390.2,334.4 Z" fill="none" stroke="#3c52a4" stroke-width="2.5" stroke-linejoin="miter"/>
<path d="M1461.9,320.5 V334.7 M1454.6,320.5 H1469.1 M1454.6,334.7 H1469.1" stroke="#3c52a4" stroke-width="2.5" fill="none"/>
<path d="M1461.9,322.3 L1467.1,331.1 L1456.7,331.1 Z" fill="none" stroke="#3c52a4" stroke-width="2.5" stroke-linejoin="miter"/>
<path d="M1528.4,322.6 V336.1 M1521.2,322.6 H1535.7 M1521.2,336.1 H1535.7" stroke="#3c52a4" stroke-width="2.5" fill="none"/>
<path d="M1528.4,324.4 L1533.6,333.2 L1523.2,333.2 Z" fill="none" stroke="#3c52a4" stroke-width="2.5" stroke-linejoin="miter"/>
<path d="M1594.9,350.9 V364.3 M1587.7,350.9 H1602.2 M1587.7,364.3 H1602.2" stroke="#3c52a4" stroke-width="2.5" fill="none"/>
<path d="M1594.9,352.3 L1600.1,361.1 L1589.7,361.1 Z" fill="none" stroke="#3c52a4" stroke-width="2.5" stroke-linejoin="miter"/>
<path d="M1661.5,378.7 V407.6 M1654.2,378.7 H1668.7 M1654.2,407.6 H1668.7" stroke="#3c52a4" stroke-width="2.5" fill="none"/>
<path d="M1661.5,388.4 L1666.7,397.2 L1656.2,397.2 Z" fill="none" stroke="#3c52a4" stroke-width="2.5" stroke-linejoin="miter"/>
<path d="M1728.0,435.5 V492.2 M1720.7,435.5 H1735.2 M1720.7,492.2 H1735.2" stroke="#3c52a4" stroke-width="2.5" fill="none"/>
<path d="M1728.0,457.7 L1733.2,466.5 L1722.8,466.5 Z" fill="none" stroke="#3c52a4" stroke-width="2.5" stroke-linejoin="miter"/>
<path d="M1317.2,490.8 H1331.6 M1324.4,490.8 V540" stroke="#3c52a4" stroke-width="2.5" fill="none"/>
<path d="M1319.8,538 L1329.0,538 L1324.4,548.5 Z" fill="#3c52a4"/>
<path d="M1787.3,490.8 H1801.7 M1794.5,490.8 V540" stroke="#3c52a4" stroke-width="2.5" fill="none"/>
<path d="M1789.9,538 L1799.1,538 L1794.5,548.5 Z" fill="#3c52a4"/>
<path d="M1308.4,477.4 V549" stroke="#3c52a4" stroke-width="2.4"/>
<g font-size="25.6" text-anchor="middle">
<text x="1351.0" y="581.4">–40</text>
<text x="1439.7" y="581.4">–20</text>
<text x="1528.4" y="581.4">0</text>
<text x="1617.1" y="581.4">20</text>
<text x="1705.8" y="581.4">40</text>
<text x="1794.5" y="581.4">60</text>
<text x="1883.2" y="581.4">80</text>
</g>
<g font-size="25" text-anchor="end">
<text x="1293" y="556.2">0</text>
<text x="1293" y="485.6">50</text>
<text x="1293" y="414.9">100</text>
<text x="1293" y="344.3">150</text>
<text x="1293" y="273.6">200</text>
<text x="1293" y="203.0">250</text>
<text x="1293" y="132.3">300</text>
<text x="1293" y="61.7">350</text>
</g>
<text transform="translate(1226.6,298.7) rotate(-90)" font-size="25" text-anchor="middle"><tspan font-style="italic">T</tspan> (mK)</text>
<text x="1579" y="624" font-size="25"><tspan font-style="italic">V</tspan><tspan font-size="16.5" dy="7.7" dx="-2.5">BG</tspan><tspan dy="-7.7" dx="0.5"> (V)</tspan></text>
<text x="1489.6" y="110.7" font-size="25">Normal state</text>
<text x="1763.2" y="109.7" font-size="25.5"><tspan font-style="italic">V</tspan><tspan font-size="17" dy="8.2" dx="-2.8">TG</tspan><tspan dy="-6.499999999999999" dx="-1.2">=</tspan><tspan dy="-1.7"> 1.8 V</tspan></text>
<text x="1317" y="187.4" font-size="25">Local</text>
<text x="1317" y="216.6" font-size="25">superconducting puddles</text>
<text x="1729.2" y="364.3" font-size="25">Phase</text>
<text x="1729.2" y="393.5" font-size="25">fluctuations</text>
<text x="1394" y="471.2" font-size="25">2D superconductor</text>
<text x="1547" y="324.3" font-size="25" fill="#3c52a4"><tspan font-style="italic">T</tspan><tspan font-size="18" dy="8.5" dx="-2">C</tspan></text>
<text x="1947" y="236" font-size="25" fill="#e8202a"><tspan font-style="italic">T</tspan><tspan font-size="17" dy="8.6" dx="-2.8">P</tspan></text>
<text x="1947" y="305.4" font-size="25" fill="#1f6fba"><tspan font-style="italic">T</tspan><tspan font-size="17" dy="8.6" dx="-2.8">F</tspan></text>
</g>
</svg>
</body></html>
